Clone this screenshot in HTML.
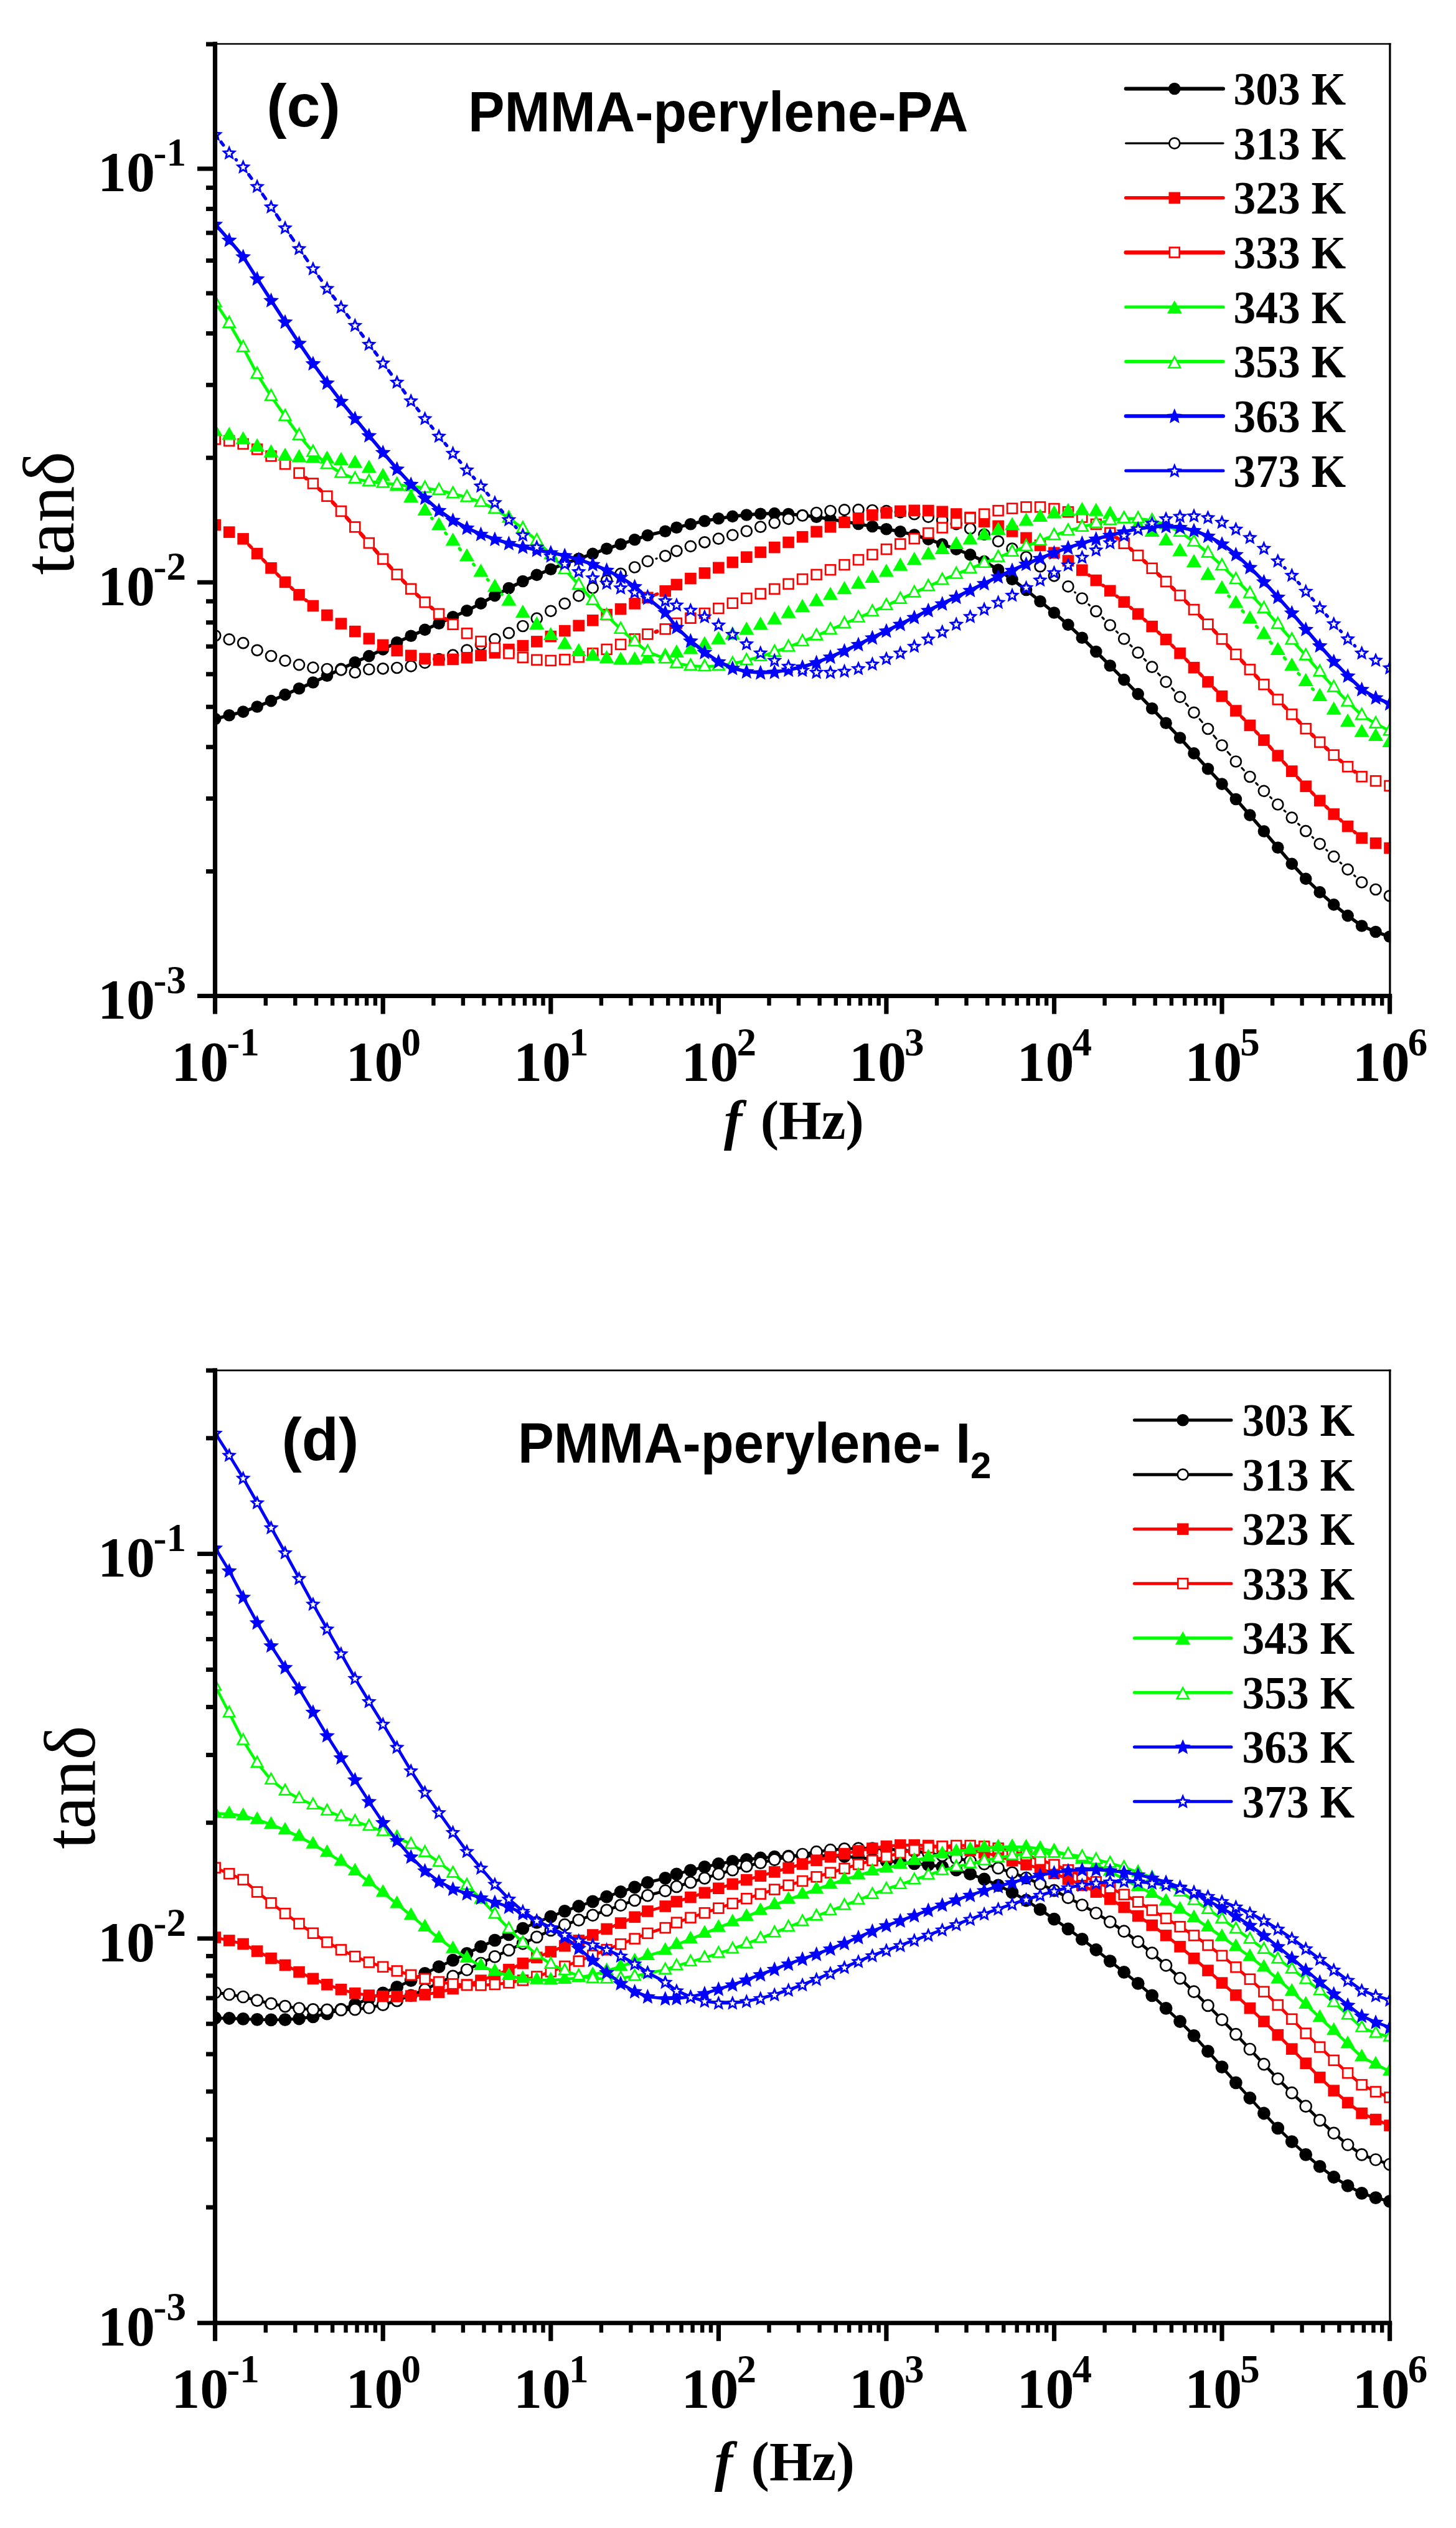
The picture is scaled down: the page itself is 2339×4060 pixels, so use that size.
<!DOCTYPE html>
<html><head><meta charset="utf-8"><title>tan delta vs f</title>
<style>html,body{margin:0;padding:0;background:#fff}svg{display:block}text{fill:#000}</style></head><body>
<svg width="2339" height="4060" viewBox="0 0 2339 4060">
<rect width="2339" height="4060" fill="#fff"/>
<g id="plot-c">
<clipPath id="clipc"><rect x="349" y="40" width="1885.2" height="1557"/></clipPath>
<g clip-path="url(#clipc)">
<polyline points="345.7,1154.6 368.2,1148.8 390.6,1143.1 413.1,1135 435.5,1125.6 458,1115.6 480.5,1105.8 502.9,1096 525.4,1085.3 547.9,1074.4 570.3,1063.7 592.8,1053.6 615.2,1042.9 637.7,1031.7 660.2,1021.3 682.6,1011.4 705.1,1001.3 727.6,990.8 750,980.8 772.5,969.1 794.9,956.6 817.4,944.5 839.9,933.5 862.3,923.4 884.8,914.2 907.2,905.3 929.7,897.3 952.2,889.4 974.6,881.2 997.1,874 1019.6,866.7 1040.4,859.7 1068.7,853.2 1086.9,847.3 1109.4,841.7 1131.9,836.7 1154.3,832.8 1176.8,829.4 1199.3,827 1221.7,825.2 1244.2,824.6 1266.6,825.5 1289.1,827.5 1311.6,830.2 1334,833.8 1356.5,837.7 1379,841.5 1401.4,845.5 1423.9,849.7 1446.3,853.8 1468.8,859 1491.3,866.1 1513.7,874.1 1536.2,882.1 1558.6,890.9 1581.1,901.6 1603.6,915 1626,930.4 1648.5,947.5 1671,965.7 1693.4,984 1715.9,1003.4 1738.3,1024.3 1760.8,1046.5 1783.3,1069 1805.7,1091.6 1828.2,1114.6 1850.7,1137.8 1873.1,1161.3 1895.6,1185 1918,1209.9 1940.5,1234.8 1963,1259.1 1985.4,1283.5 2007.9,1309.1 2030.4,1335 2052.8,1361.2 2075.3,1387.4 2097.7,1411.4 2120.2,1432.9 2142.7,1452.9 2165.1,1470.6 2187.6,1487 2210,1496.5 2232.5,1504.2" fill="none" stroke="#000" stroke-width="5.3" stroke-linejoin="round"/>
<g><circle cx="345.7" cy="1154.6" r="9.8" fill="#000"/><circle cx="368.2" cy="1148.8" r="9.8" fill="#000"/><circle cx="390.6" cy="1143.1" r="9.8" fill="#000"/><circle cx="413.1" cy="1135" r="9.8" fill="#000"/><circle cx="435.5" cy="1125.6" r="9.8" fill="#000"/><circle cx="458" cy="1115.6" r="9.8" fill="#000"/><circle cx="480.5" cy="1105.8" r="9.8" fill="#000"/><circle cx="502.9" cy="1096" r="9.8" fill="#000"/><circle cx="525.4" cy="1085.3" r="9.8" fill="#000"/><circle cx="547.9" cy="1074.4" r="9.8" fill="#000"/><circle cx="570.3" cy="1063.7" r="9.8" fill="#000"/><circle cx="592.8" cy="1053.6" r="9.8" fill="#000"/><circle cx="615.2" cy="1042.9" r="9.8" fill="#000"/><circle cx="637.7" cy="1031.7" r="9.8" fill="#000"/><circle cx="660.2" cy="1021.3" r="9.8" fill="#000"/><circle cx="682.6" cy="1011.4" r="9.8" fill="#000"/><circle cx="705.1" cy="1001.3" r="9.8" fill="#000"/><circle cx="727.6" cy="990.8" r="9.8" fill="#000"/><circle cx="750" cy="980.8" r="9.8" fill="#000"/><circle cx="772.5" cy="969.1" r="9.8" fill="#000"/><circle cx="794.9" cy="956.6" r="9.8" fill="#000"/><circle cx="817.4" cy="944.5" r="9.8" fill="#000"/><circle cx="839.9" cy="933.5" r="9.8" fill="#000"/><circle cx="862.3" cy="923.4" r="9.8" fill="#000"/><circle cx="884.8" cy="914.2" r="9.8" fill="#000"/><circle cx="907.2" cy="905.3" r="9.8" fill="#000"/><circle cx="929.7" cy="897.3" r="9.8" fill="#000"/><circle cx="952.2" cy="889.4" r="9.8" fill="#000"/><circle cx="974.6" cy="881.2" r="9.8" fill="#000"/><circle cx="997.1" cy="874" r="9.8" fill="#000"/><circle cx="1019.6" cy="866.7" r="9.8" fill="#000"/><circle cx="1040.4" cy="859.7" r="9.8" fill="#000"/><circle cx="1068.7" cy="853.2" r="9.8" fill="#000"/><circle cx="1086.9" cy="847.3" r="9.8" fill="#000"/><circle cx="1109.4" cy="841.7" r="9.8" fill="#000"/><circle cx="1131.9" cy="836.7" r="9.8" fill="#000"/><circle cx="1154.3" cy="832.8" r="9.8" fill="#000"/><circle cx="1176.8" cy="829.4" r="9.8" fill="#000"/><circle cx="1199.3" cy="827" r="9.8" fill="#000"/><circle cx="1221.7" cy="825.2" r="9.8" fill="#000"/><circle cx="1244.2" cy="824.6" r="9.8" fill="#000"/><circle cx="1266.6" cy="825.5" r="9.8" fill="#000"/><circle cx="1289.1" cy="827.5" r="9.8" fill="#000"/><circle cx="1311.6" cy="830.2" r="9.8" fill="#000"/><circle cx="1334" cy="833.8" r="9.8" fill="#000"/><circle cx="1356.5" cy="837.7" r="9.8" fill="#000"/><circle cx="1379" cy="841.5" r="9.8" fill="#000"/><circle cx="1401.4" cy="845.5" r="9.8" fill="#000"/><circle cx="1423.9" cy="849.7" r="9.8" fill="#000"/><circle cx="1446.3" cy="853.8" r="9.8" fill="#000"/><circle cx="1468.8" cy="859" r="9.8" fill="#000"/><circle cx="1491.3" cy="866.1" r="9.8" fill="#000"/><circle cx="1513.7" cy="874.1" r="9.8" fill="#000"/><circle cx="1536.2" cy="882.1" r="9.8" fill="#000"/><circle cx="1558.6" cy="890.9" r="9.8" fill="#000"/><circle cx="1581.1" cy="901.6" r="9.8" fill="#000"/><circle cx="1603.6" cy="915" r="9.8" fill="#000"/><circle cx="1626" cy="930.4" r="9.8" fill="#000"/><circle cx="1648.5" cy="947.5" r="9.8" fill="#000"/><circle cx="1671" cy="965.7" r="9.8" fill="#000"/><circle cx="1693.4" cy="984" r="9.8" fill="#000"/><circle cx="1715.9" cy="1003.4" r="9.8" fill="#000"/><circle cx="1738.3" cy="1024.3" r="9.8" fill="#000"/><circle cx="1760.8" cy="1046.5" r="9.8" fill="#000"/><circle cx="1783.3" cy="1069" r="9.8" fill="#000"/><circle cx="1805.7" cy="1091.6" r="9.8" fill="#000"/><circle cx="1828.2" cy="1114.6" r="9.8" fill="#000"/><circle cx="1850.7" cy="1137.8" r="9.8" fill="#000"/><circle cx="1873.1" cy="1161.3" r="9.8" fill="#000"/><circle cx="1895.6" cy="1185" r="9.8" fill="#000"/><circle cx="1918" cy="1209.9" r="9.8" fill="#000"/><circle cx="1940.5" cy="1234.8" r="9.8" fill="#000"/><circle cx="1963" cy="1259.1" r="9.8" fill="#000"/><circle cx="1985.4" cy="1283.5" r="9.8" fill="#000"/><circle cx="2007.9" cy="1309.1" r="9.8" fill="#000"/><circle cx="2030.4" cy="1335" r="9.8" fill="#000"/><circle cx="2052.8" cy="1361.2" r="9.8" fill="#000"/><circle cx="2075.3" cy="1387.4" r="9.8" fill="#000"/><circle cx="2097.7" cy="1411.4" r="9.8" fill="#000"/><circle cx="2120.2" cy="1432.9" r="9.8" fill="#000"/><circle cx="2142.7" cy="1452.9" r="9.8" fill="#000"/><circle cx="2165.1" cy="1470.6" r="9.8" fill="#000"/><circle cx="2187.6" cy="1487" r="9.8" fill="#000"/><circle cx="2210" cy="1496.5" r="9.8" fill="#000"/><circle cx="2232.5" cy="1504.2" r="9.8" fill="#000"/></g>
<path d="M1054 897.3L1055.1 896.9M1726.7 951.1L1727.5 951.8M1748.8 970.6L1750.4 972.1M1770.9 991.7L1773.2 994M1793.4 1013.9L1795.6 1016.1M1815.8 1036L1818.1 1038.2M1838.1 1058.4L1840.7 1061M1860.4 1081.5L1863.4 1084.7M1882.8 1105.5L1885.9 1109M1905.1 1129.9L1908.5 1133.7M1927.3 1155L1931.3 1159.7M1949.7 1181.3L1953.8 1186.2M1972.2 1207.8L1976.2 1212.3M1995 1233.5L1998.3 1237M2017.8 1257.6L2020.4 1260.3M2040.6 1280.2L2042.6 1282.1M2063.1 1301.7L2065 1303.4M2085.5 1323L2087.5 1324.9M2108.2 1344.3L2109.7 1345.7M2130.7 1364.8L2132.1 1366.1M2153.1 1385.3L2154.7 1386.7M2175.6 1406L2177.1 1407.4" fill="none" stroke="#000" stroke-width="3.2" stroke-linecap="round"/>
<g><circle cx="345.7" cy="1020.8" r="8.5" fill="#fff" stroke="#000" stroke-width="2.7"/><circle cx="368.2" cy="1026.9" r="8.5" fill="#fff" stroke="#000" stroke-width="2.7"/><circle cx="390.6" cy="1032.7" r="8.5" fill="#fff" stroke="#000" stroke-width="2.7"/><circle cx="413.1" cy="1044.3" r="8.5" fill="#fff" stroke="#000" stroke-width="2.7"/><circle cx="435.5" cy="1053.5" r="8.5" fill="#fff" stroke="#000" stroke-width="2.7"/><circle cx="458" cy="1061.1" r="8.5" fill="#fff" stroke="#000" stroke-width="2.7"/><circle cx="480.5" cy="1067.6" r="8.5" fill="#fff" stroke="#000" stroke-width="2.7"/><circle cx="502.9" cy="1072.1" r="8.5" fill="#fff" stroke="#000" stroke-width="2.7"/><circle cx="525.4" cy="1074.5" r="8.5" fill="#fff" stroke="#000" stroke-width="2.7"/><circle cx="547.9" cy="1075.8" r="8.5" fill="#fff" stroke="#000" stroke-width="2.7"/><circle cx="570.3" cy="1080" r="8.5" fill="#fff" stroke="#000" stroke-width="2.7"/><circle cx="592.8" cy="1075" r="8.5" fill="#fff" stroke="#000" stroke-width="2.7"/><circle cx="615.2" cy="1073.8" r="8.5" fill="#fff" stroke="#000" stroke-width="2.7"/><circle cx="637.7" cy="1072.5" r="8.5" fill="#fff" stroke="#000" stroke-width="2.7"/><circle cx="660.2" cy="1069.9" r="8.5" fill="#fff" stroke="#000" stroke-width="2.7"/><circle cx="682.6" cy="1064.4" r="8.5" fill="#fff" stroke="#000" stroke-width="2.7"/><circle cx="705.1" cy="1058.6" r="8.5" fill="#fff" stroke="#000" stroke-width="2.7"/><circle cx="727.6" cy="1052.2" r="8.5" fill="#fff" stroke="#000" stroke-width="2.7"/><circle cx="750" cy="1044.1" r="8.5" fill="#fff" stroke="#000" stroke-width="2.7"/><circle cx="772.5" cy="1035.5" r="8.5" fill="#fff" stroke="#000" stroke-width="2.7"/><circle cx="794.9" cy="1026.6" r="8.5" fill="#fff" stroke="#000" stroke-width="2.7"/><circle cx="817.4" cy="1016.7" r="8.5" fill="#fff" stroke="#000" stroke-width="2.7"/><circle cx="839.9" cy="1005.5" r="8.5" fill="#fff" stroke="#000" stroke-width="2.7"/><circle cx="862.3" cy="993.2" r="8.5" fill="#fff" stroke="#000" stroke-width="2.7"/><circle cx="884.8" cy="981.3" r="8.5" fill="#fff" stroke="#000" stroke-width="2.7"/><circle cx="907.2" cy="969.4" r="8.5" fill="#fff" stroke="#000" stroke-width="2.7"/><circle cx="929.7" cy="956.9" r="8.5" fill="#fff" stroke="#000" stroke-width="2.7"/><circle cx="952.2" cy="944.3" r="8.5" fill="#fff" stroke="#000" stroke-width="2.7"/><circle cx="974.6" cy="932.3" r="8.5" fill="#fff" stroke="#000" stroke-width="2.7"/><circle cx="997.1" cy="921.4" r="8.5" fill="#fff" stroke="#000" stroke-width="2.7"/><circle cx="1019.6" cy="911" r="8.5" fill="#fff" stroke="#000" stroke-width="2.7"/><circle cx="1040.4" cy="901.4" r="8.5" fill="#fff" stroke="#000" stroke-width="2.7"/><circle cx="1068.7" cy="892.8" r="8.5" fill="#fff" stroke="#000" stroke-width="2.7"/><circle cx="1086.9" cy="884.8" r="8.5" fill="#fff" stroke="#000" stroke-width="2.7"/><circle cx="1109.4" cy="877.4" r="8.5" fill="#fff" stroke="#000" stroke-width="2.7"/><circle cx="1131.9" cy="870.8" r="8.5" fill="#fff" stroke="#000" stroke-width="2.7"/><circle cx="1154.3" cy="865.2" r="8.5" fill="#fff" stroke="#000" stroke-width="2.7"/><circle cx="1176.8" cy="859.4" r="8.5" fill="#fff" stroke="#000" stroke-width="2.7"/><circle cx="1199.3" cy="853" r="8.5" fill="#fff" stroke="#000" stroke-width="2.7"/><circle cx="1221.7" cy="846.2" r="8.5" fill="#fff" stroke="#000" stroke-width="2.7"/><circle cx="1244.2" cy="839.6" r="8.5" fill="#fff" stroke="#000" stroke-width="2.7"/><circle cx="1266.6" cy="833.3" r="8.5" fill="#fff" stroke="#000" stroke-width="2.7"/><circle cx="1289.1" cy="828" r="8.5" fill="#fff" stroke="#000" stroke-width="2.7"/><circle cx="1311.6" cy="823.5" r="8.5" fill="#fff" stroke="#000" stroke-width="2.7"/><circle cx="1334" cy="820.5" r="8.5" fill="#fff" stroke="#000" stroke-width="2.7"/><circle cx="1356.5" cy="818.9" r="8.5" fill="#fff" stroke="#000" stroke-width="2.7"/><circle cx="1379" cy="818.7" r="8.5" fill="#fff" stroke="#000" stroke-width="2.7"/><circle cx="1401.4" cy="819.5" r="8.5" fill="#fff" stroke="#000" stroke-width="2.7"/><circle cx="1423.9" cy="820.6" r="8.5" fill="#fff" stroke="#000" stroke-width="2.7"/><circle cx="1446.3" cy="822.6" r="8.5" fill="#fff" stroke="#000" stroke-width="2.7"/><circle cx="1468.8" cy="825.7" r="8.5" fill="#fff" stroke="#000" stroke-width="2.7"/><circle cx="1491.3" cy="830.1" r="8.5" fill="#fff" stroke="#000" stroke-width="2.7"/><circle cx="1513.7" cy="835.5" r="8.5" fill="#fff" stroke="#000" stroke-width="2.7"/><circle cx="1536.2" cy="841.6" r="8.5" fill="#fff" stroke="#000" stroke-width="2.7"/><circle cx="1558.6" cy="849" r="8.5" fill="#fff" stroke="#000" stroke-width="2.7"/><circle cx="1581.1" cy="858.4" r="8.5" fill="#fff" stroke="#000" stroke-width="2.7"/><circle cx="1603.6" cy="869.3" r="8.5" fill="#fff" stroke="#000" stroke-width="2.7"/><circle cx="1626" cy="881.2" r="8.5" fill="#fff" stroke="#000" stroke-width="2.7"/><circle cx="1648.5" cy="894.7" r="8.5" fill="#fff" stroke="#000" stroke-width="2.7"/><circle cx="1671" cy="909.7" r="8.5" fill="#fff" stroke="#000" stroke-width="2.7"/><circle cx="1693.4" cy="924.8" r="8.5" fill="#fff" stroke="#000" stroke-width="2.7"/><circle cx="1715.9" cy="941.9" r="8.5" fill="#fff" stroke="#000" stroke-width="2.7"/><circle cx="1738.3" cy="961" r="8.5" fill="#fff" stroke="#000" stroke-width="2.7"/><circle cx="1760.8" cy="981.7" r="8.5" fill="#fff" stroke="#000" stroke-width="2.7"/><circle cx="1783.3" cy="1004" r="8.5" fill="#fff" stroke="#000" stroke-width="2.7"/><circle cx="1805.7" cy="1026" r="8.5" fill="#fff" stroke="#000" stroke-width="2.7"/><circle cx="1828.2" cy="1048.2" r="8.5" fill="#fff" stroke="#000" stroke-width="2.7"/><circle cx="1850.7" cy="1071.2" r="8.5" fill="#fff" stroke="#000" stroke-width="2.7"/><circle cx="1873.1" cy="1095.1" r="8.5" fill="#fff" stroke="#000" stroke-width="2.7"/><circle cx="1895.6" cy="1119.4" r="8.5" fill="#fff" stroke="#000" stroke-width="2.7"/><circle cx="1918" cy="1144.3" r="8.5" fill="#fff" stroke="#000" stroke-width="2.7"/><circle cx="1940.5" cy="1170.5" r="8.5" fill="#fff" stroke="#000" stroke-width="2.7"/><circle cx="1963" cy="1197" r="8.5" fill="#fff" stroke="#000" stroke-width="2.7"/><circle cx="1985.4" cy="1223" r="8.5" fill="#fff" stroke="#000" stroke-width="2.7"/><circle cx="2007.9" cy="1247.5" r="8.5" fill="#fff" stroke="#000" stroke-width="2.7"/><circle cx="2030.4" cy="1270.4" r="8.5" fill="#fff" stroke="#000" stroke-width="2.7"/><circle cx="2052.8" cy="1292" r="8.5" fill="#fff" stroke="#000" stroke-width="2.7"/><circle cx="2075.3" cy="1313.2" r="8.5" fill="#fff" stroke="#000" stroke-width="2.7"/><circle cx="2097.7" cy="1334.7" r="8.5" fill="#fff" stroke="#000" stroke-width="2.7"/><circle cx="2120.2" cy="1355.3" r="8.5" fill="#fff" stroke="#000" stroke-width="2.7"/><circle cx="2142.7" cy="1375.6" r="8.5" fill="#fff" stroke="#000" stroke-width="2.7"/><circle cx="2165.1" cy="1396.4" r="8.5" fill="#fff" stroke="#000" stroke-width="2.7"/><circle cx="2187.6" cy="1417" r="8.5" fill="#fff" stroke="#000" stroke-width="2.7"/><circle cx="2210" cy="1428.5" r="8.5" fill="#fff" stroke="#000" stroke-width="2.7"/><circle cx="2232.5" cy="1438.8" r="8.5" fill="#fff" stroke="#000" stroke-width="2.7"/></g>
<path d="M400 875.3L403.7 879.2M422.5 898.8L426.1 902.5M445.1 921.9L448.4 925.2M468.1 944L470.4 946.2M491.1 963.7L492.3 964.6M1053.2 955L1055.9 954M1749.3 923.6L1749.8 924M1771.7 940.1L1772.4 940.6M1793.9 957.3L1795.1 958.3M1816.1 975.6L1817.9 977.1M1838.3 995L1840.5 997M1860.6 1015.3L1863.2 1017.7M1882.8 1036.5L1885.9 1039.6M1905.1 1058.9L1908.5 1062.5M1927.6 1081.9L1931 1085.4M1950 1104.8L1953.5 1108.4M1972.4 1127.9L1976 1131.7M1994.8 1151.3L1998.5 1155.1M2017.3 1174.8L2021 1178.7M2039.4 1198.7L2043.7 1203.5M2061.9 1223.8L2066.2 1228.5M2084.5 1248.6L2088.5 1252.8M2107.2 1272.5L2110.7 1276.1M2130 1295.2L2132.9 1298M2152.9 1316.4L2154.9 1318.2M2175.6 1335.8L2177.1 1337.1" fill="none" stroke="#f00" stroke-width="5.5" stroke-linecap="round"/>
<g><rect x="336.4" y="833.8" width="18.6" height="18.6" fill="#f00"/><rect x="358.9" y="845.3" width="18.6" height="18.6" fill="#f00"/><rect x="381.3" y="856.1" width="18.6" height="18.6" fill="#f00"/><rect x="403.8" y="879.8" width="18.6" height="18.6" fill="#f00"/><rect x="426.2" y="903" width="18.6" height="18.6" fill="#f00"/><rect x="448.7" y="925.6" width="18.6" height="18.6" fill="#f00"/><rect x="471.2" y="946" width="18.6" height="18.6" fill="#f00"/><rect x="493.6" y="963.7" width="18.6" height="18.6" fill="#f00"/><rect x="516.1" y="978.7" width="18.6" height="18.6" fill="#f00"/><rect x="538.6" y="992.3" width="18.6" height="18.6" fill="#f00"/><rect x="561" y="1004.8" width="18.6" height="18.6" fill="#f00"/><rect x="583.5" y="1016.3" width="18.6" height="18.6" fill="#f00"/><rect x="605.9" y="1026.6" width="18.6" height="18.6" fill="#f00"/><rect x="628.4" y="1035.6" width="18.6" height="18.6" fill="#f00"/><rect x="650.9" y="1043.5" width="18.6" height="18.6" fill="#f00"/><rect x="673.3" y="1048.6" width="18.6" height="18.6" fill="#f00"/><rect x="695.8" y="1050.5" width="18.6" height="18.6" fill="#f00"/><rect x="718.3" y="1049.6" width="18.6" height="18.6" fill="#f00"/><rect x="740.7" y="1047" width="18.6" height="18.6" fill="#f00"/><rect x="763.2" y="1043.4" width="18.6" height="18.6" fill="#f00"/><rect x="785.6" y="1039.1" width="18.6" height="18.6" fill="#f00"/><rect x="808.1" y="1033.7" width="18.6" height="18.6" fill="#f00"/><rect x="830.6" y="1027.8" width="18.6" height="18.6" fill="#f00"/><rect x="853" y="1021.1" width="18.6" height="18.6" fill="#f00"/><rect x="875.5" y="1012.8" width="18.6" height="18.6" fill="#f00"/><rect x="898" y="1003.8" width="18.6" height="18.6" fill="#f00"/><rect x="920.4" y="995.5" width="18.6" height="18.6" fill="#f00"/><rect x="942.9" y="987" width="18.6" height="18.6" fill="#f00"/><rect x="965.3" y="977.8" width="18.6" height="18.6" fill="#f00"/><rect x="987.8" y="968.8" width="18.6" height="18.6" fill="#f00"/><rect x="1010.3" y="960.1" width="18.6" height="18.6" fill="#f00"/><rect x="1031.1" y="950.5" width="18.6" height="18.6" fill="#f00"/><rect x="1059.4" y="940" width="18.6" height="18.6" fill="#f00"/><rect x="1077.6" y="929.6" width="18.6" height="18.6" fill="#f00"/><rect x="1100.1" y="919.8" width="18.6" height="18.6" fill="#f00"/><rect x="1122.6" y="911.1" width="18.6" height="18.6" fill="#f00"/><rect x="1145" y="902.5" width="18.6" height="18.6" fill="#f00"/><rect x="1167.5" y="893.8" width="18.6" height="18.6" fill="#f00"/><rect x="1190" y="885.4" width="18.6" height="18.6" fill="#f00"/><rect x="1212.4" y="877.6" width="18.6" height="18.6" fill="#f00"/><rect x="1234.9" y="869.8" width="18.6" height="18.6" fill="#f00"/><rect x="1257.3" y="861.7" width="18.6" height="18.6" fill="#f00"/><rect x="1279.8" y="852.9" width="18.6" height="18.6" fill="#f00"/><rect x="1302.3" y="844.6" width="18.6" height="18.6" fill="#f00"/><rect x="1324.7" y="836.9" width="18.6" height="18.6" fill="#f00"/><rect x="1347.2" y="829.6" width="18.6" height="18.6" fill="#f00"/><rect x="1369.7" y="823" width="18.6" height="18.6" fill="#f00"/><rect x="1392.1" y="817.9" width="18.6" height="18.6" fill="#f00"/><rect x="1414.6" y="814.3" width="18.6" height="18.6" fill="#f00"/><rect x="1437" y="811.6" width="18.6" height="18.6" fill="#f00"/><rect x="1459.5" y="810.5" width="18.6" height="18.6" fill="#f00"/><rect x="1482" y="810.7" width="18.6" height="18.6" fill="#f00"/><rect x="1504.4" y="812.5" width="18.6" height="18.6" fill="#f00"/><rect x="1526.9" y="816.2" width="18.6" height="18.6" fill="#f00"/><rect x="1549.3" y="821.7" width="18.6" height="18.6" fill="#f00"/><rect x="1571.8" y="828.4" width="18.6" height="18.6" fill="#f00"/><rect x="1594.3" y="835.6" width="18.6" height="18.6" fill="#f00"/><rect x="1616.7" y="844.1" width="18.6" height="18.6" fill="#f00"/><rect x="1639.2" y="854.6" width="18.6" height="18.6" fill="#f00"/><rect x="1661.7" y="866.5" width="18.6" height="18.6" fill="#f00"/><rect x="1684.1" y="878.5" width="18.6" height="18.6" fill="#f00"/><rect x="1706.6" y="891.3" width="18.6" height="18.6" fill="#f00"/><rect x="1729" y="906.3" width="18.6" height="18.6" fill="#f00"/><rect x="1751.5" y="922.7" width="18.6" height="18.6" fill="#f00"/><rect x="1774" y="939.5" width="18.6" height="18.6" fill="#f00"/><rect x="1796.4" y="957.5" width="18.6" height="18.6" fill="#f00"/><rect x="1818.9" y="976.7" width="18.6" height="18.6" fill="#f00"/><rect x="1841.4" y="996.8" width="18.6" height="18.6" fill="#f00"/><rect x="1863.8" y="1017.7" width="18.6" height="18.6" fill="#f00"/><rect x="1886.3" y="1039.9" width="18.6" height="18.6" fill="#f00"/><rect x="1908.7" y="1062.9" width="18.6" height="18.6" fill="#f00"/><rect x="1931.2" y="1085.8" width="18.6" height="18.6" fill="#f00"/><rect x="1953.7" y="1108.8" width="18.6" height="18.6" fill="#f00"/><rect x="1976.1" y="1132.2" width="18.6" height="18.6" fill="#f00"/><rect x="1998.6" y="1155.6" width="18.6" height="18.6" fill="#f00"/><rect x="2021.1" y="1179.3" width="18.6" height="18.6" fill="#f00"/><rect x="2043.5" y="1204.3" width="18.6" height="18.6" fill="#f00"/><rect x="2066" y="1229.3" width="18.6" height="18.6" fill="#f00"/><rect x="2088.4" y="1253.5" width="18.6" height="18.6" fill="#f00"/><rect x="2110.9" y="1276.5" width="18.6" height="18.6" fill="#f00"/><rect x="2133.4" y="1298.2" width="18.6" height="18.6" fill="#f00"/><rect x="2155.8" y="1317.8" width="18.6" height="18.6" fill="#f00"/><rect x="2178.3" y="1336.5" width="18.6" height="18.6" fill="#f00"/><rect x="2200.7" y="1344.9" width="18.6" height="18.6" fill="#f00"/><rect x="2223.2" y="1352.7" width="18.6" height="18.6" fill="#f00"/></g>
<path d="M491.4 767.8L492 768.3M513 785.6L515.3 787.7M534.6 806.8L538.6 811.1M556.9 831.2L561.3 836.3M579.3 856.7L583.8 861.9M601.7 882.3L606.3 887.6M624.4 907.9L628.6 912.5M647.2 932.4L650.7 936M670 955.2L672.8 957.8M693.1 975.9L694.6 977.2M716 994.1L716.7 994.6M1053.5 1014.7L1055.6 1014M1794.1 863.9L1794.9 864.5M1816.1 881.5L1817.9 883.1M1838.2 901.1L1840.7 903.4M1860.5 922L1863.3 924.7M1882.8 943.6L1885.9 946.6M1905.1 965.9L1908.5 969.4M1927.4 988.9L1931.1 992.7M1949.8 1012.4L1953.6 1016.4M1972.1 1036.4L1976.2 1040.8M1994.6 1060.9L1998.7 1065.3M2017.2 1085.2L2021.1 1089.4M2039.6 1109.2L2043.5 1113.5M2062.1 1133.3L2065.9 1137.3M2084.8 1156.9L2088.2 1160.5M2107.5 1179.7L2110.4 1182.5M2130.2 1201.1L2132.7 1203.4M2153.1 1221.3L2154.7 1222.6M2176.2 1239.2L2176.5 1239.4" fill="none" stroke="#f00" stroke-width="6.2" stroke-linecap="round"/>
<g><rect x="337.8" y="697.5" width="15.8" height="15.8" fill="#fff" stroke="#f00" stroke-width="2.7"/><rect x="360.3" y="700.1" width="15.8" height="15.8" fill="#fff" stroke="#f00" stroke-width="2.7"/><rect x="382.7" y="705.1" width="15.8" height="15.8" fill="#fff" stroke="#f00" stroke-width="2.7"/><rect x="405.2" y="713.6" width="15.8" height="15.8" fill="#fff" stroke="#f00" stroke-width="2.7"/><rect x="427.6" y="724.6" width="15.8" height="15.8" fill="#fff" stroke="#f00" stroke-width="2.7"/><rect x="450.1" y="737.4" width="15.8" height="15.8" fill="#fff" stroke="#f00" stroke-width="2.7"/><rect x="472.6" y="751.8" width="15.8" height="15.8" fill="#fff" stroke="#f00" stroke-width="2.7"/><rect x="495" y="768.6" width="15.8" height="15.8" fill="#fff" stroke="#f00" stroke-width="2.7"/><rect x="517.5" y="788.9" width="15.8" height="15.8" fill="#fff" stroke="#f00" stroke-width="2.7"/><rect x="540" y="813.1" width="15.8" height="15.8" fill="#fff" stroke="#f00" stroke-width="2.7"/><rect x="562.4" y="838.5" width="15.8" height="15.8" fill="#fff" stroke="#f00" stroke-width="2.7"/><rect x="584.9" y="864.2" width="15.8" height="15.8" fill="#fff" stroke="#f00" stroke-width="2.7"/><rect x="607.3" y="889.9" width="15.8" height="15.8" fill="#fff" stroke="#f00" stroke-width="2.7"/><rect x="629.8" y="914.7" width="15.8" height="15.8" fill="#fff" stroke="#f00" stroke-width="2.7"/><rect x="652.3" y="937.9" width="15.8" height="15.8" fill="#fff" stroke="#f00" stroke-width="2.7"/><rect x="674.7" y="959.3" width="15.8" height="15.8" fill="#fff" stroke="#f00" stroke-width="2.7"/><rect x="697.2" y="978" width="15.8" height="15.8" fill="#fff" stroke="#f00" stroke-width="2.7"/><rect x="719.7" y="994.9" width="15.8" height="15.8" fill="#fff" stroke="#f00" stroke-width="2.7"/><rect x="742.1" y="1009.3" width="15.8" height="15.8" fill="#fff" stroke="#f00" stroke-width="2.7"/><rect x="764.6" y="1022.2" width="15.8" height="15.8" fill="#fff" stroke="#f00" stroke-width="2.7"/><rect x="787" y="1032.8" width="15.8" height="15.8" fill="#fff" stroke="#f00" stroke-width="2.7"/><rect x="809.5" y="1041.4" width="15.8" height="15.8" fill="#fff" stroke="#f00" stroke-width="2.7"/><rect x="832" y="1048" width="15.8" height="15.8" fill="#fff" stroke="#f00" stroke-width="2.7"/><rect x="854.4" y="1051.9" width="15.8" height="15.8" fill="#fff" stroke="#f00" stroke-width="2.7"/><rect x="876.9" y="1053" width="15.8" height="15.8" fill="#fff" stroke="#f00" stroke-width="2.7"/><rect x="899.4" y="1051.4" width="15.8" height="15.8" fill="#fff" stroke="#f00" stroke-width="2.7"/><rect x="921.8" y="1047.4" width="15.8" height="15.8" fill="#fff" stroke="#f00" stroke-width="2.7"/><rect x="944.3" y="1041.4" width="15.8" height="15.8" fill="#fff" stroke="#f00" stroke-width="2.7"/><rect x="966.7" y="1035" width="15.8" height="15.8" fill="#fff" stroke="#f00" stroke-width="2.7"/><rect x="989.2" y="1027" width="15.8" height="15.8" fill="#fff" stroke="#f00" stroke-width="2.7"/><rect x="1011.7" y="1018.4" width="15.8" height="15.8" fill="#fff" stroke="#f00" stroke-width="2.7"/><rect x="1032.5" y="1010.6" width="15.8" height="15.8" fill="#fff" stroke="#f00" stroke-width="2.7"/><rect x="1060.8" y="1002.4" width="15.8" height="15.8" fill="#fff" stroke="#f00" stroke-width="2.7"/><rect x="1079" y="993" width="15.8" height="15.8" fill="#fff" stroke="#f00" stroke-width="2.7"/><rect x="1101.5" y="984.8" width="15.8" height="15.8" fill="#fff" stroke="#f00" stroke-width="2.7"/><rect x="1124" y="977.1" width="15.8" height="15.8" fill="#fff" stroke="#f00" stroke-width="2.7"/><rect x="1146.4" y="969.2" width="15.8" height="15.8" fill="#fff" stroke="#f00" stroke-width="2.7"/><rect x="1168.9" y="960.8" width="15.8" height="15.8" fill="#fff" stroke="#f00" stroke-width="2.7"/><rect x="1191.4" y="953" width="15.8" height="15.8" fill="#fff" stroke="#f00" stroke-width="2.7"/><rect x="1213.8" y="945.7" width="15.8" height="15.8" fill="#fff" stroke="#f00" stroke-width="2.7"/><rect x="1236.3" y="938" width="15.8" height="15.8" fill="#fff" stroke="#f00" stroke-width="2.7"/><rect x="1258.7" y="929.9" width="15.8" height="15.8" fill="#fff" stroke="#f00" stroke-width="2.7"/><rect x="1281.2" y="922.2" width="15.8" height="15.8" fill="#fff" stroke="#f00" stroke-width="2.7"/><rect x="1303.7" y="915" width="15.8" height="15.8" fill="#fff" stroke="#f00" stroke-width="2.7"/><rect x="1326.1" y="907.3" width="15.8" height="15.8" fill="#fff" stroke="#f00" stroke-width="2.7"/><rect x="1348.6" y="899.2" width="15.8" height="15.8" fill="#fff" stroke="#f00" stroke-width="2.7"/><rect x="1371.1" y="891.2" width="15.8" height="15.8" fill="#fff" stroke="#f00" stroke-width="2.7"/><rect x="1393.5" y="882.8" width="15.8" height="15.8" fill="#fff" stroke="#f00" stroke-width="2.7"/><rect x="1416" y="874.2" width="15.8" height="15.8" fill="#fff" stroke="#f00" stroke-width="2.7"/><rect x="1438.4" y="865.7" width="15.8" height="15.8" fill="#fff" stroke="#f00" stroke-width="2.7"/><rect x="1460.9" y="857.2" width="15.8" height="15.8" fill="#fff" stroke="#f00" stroke-width="2.7"/><rect x="1483.4" y="848.2" width="15.8" height="15.8" fill="#fff" stroke="#f00" stroke-width="2.7"/><rect x="1505.8" y="839.6" width="15.8" height="15.8" fill="#fff" stroke="#f00" stroke-width="2.7"/><rect x="1528.3" y="831.7" width="15.8" height="15.8" fill="#fff" stroke="#f00" stroke-width="2.7"/><rect x="1550.7" y="824.3" width="15.8" height="15.8" fill="#fff" stroke="#f00" stroke-width="2.7"/><rect x="1573.2" y="817.7" width="15.8" height="15.8" fill="#fff" stroke="#f00" stroke-width="2.7"/><rect x="1595.7" y="812.2" width="15.8" height="15.8" fill="#fff" stroke="#f00" stroke-width="2.7"/><rect x="1618.1" y="808.7" width="15.8" height="15.8" fill="#fff" stroke="#f00" stroke-width="2.7"/><rect x="1640.6" y="806.4" width="15.8" height="15.8" fill="#fff" stroke="#f00" stroke-width="2.7"/><rect x="1663.1" y="806.4" width="15.8" height="15.8" fill="#fff" stroke="#f00" stroke-width="2.7"/><rect x="1685.5" y="809.1" width="15.8" height="15.8" fill="#fff" stroke="#f00" stroke-width="2.7"/><rect x="1708" y="814.3" width="15.8" height="15.8" fill="#fff" stroke="#f00" stroke-width="2.7"/><rect x="1730.4" y="822.7" width="15.8" height="15.8" fill="#fff" stroke="#f00" stroke-width="2.7"/><rect x="1752.9" y="834" width="15.8" height="15.8" fill="#fff" stroke="#f00" stroke-width="2.7"/><rect x="1775.4" y="847.9" width="15.8" height="15.8" fill="#fff" stroke="#f00" stroke-width="2.7"/><rect x="1797.8" y="864.8" width="15.8" height="15.8" fill="#fff" stroke="#f00" stroke-width="2.7"/><rect x="1820.3" y="884" width="15.8" height="15.8" fill="#fff" stroke="#f00" stroke-width="2.7"/><rect x="1842.8" y="904.8" width="15.8" height="15.8" fill="#fff" stroke="#f00" stroke-width="2.7"/><rect x="1865.2" y="926.1" width="15.8" height="15.8" fill="#fff" stroke="#f00" stroke-width="2.7"/><rect x="1887.7" y="948.3" width="15.8" height="15.8" fill="#fff" stroke="#f00" stroke-width="2.7"/><rect x="1910.1" y="971.2" width="15.8" height="15.8" fill="#fff" stroke="#f00" stroke-width="2.7"/><rect x="1932.6" y="994.7" width="15.8" height="15.8" fill="#fff" stroke="#f00" stroke-width="2.7"/><rect x="1955.1" y="1018.4" width="15.8" height="15.8" fill="#fff" stroke="#f00" stroke-width="2.7"/><rect x="1977.5" y="1043" width="15.8" height="15.8" fill="#fff" stroke="#f00" stroke-width="2.7"/><rect x="2000" y="1067.4" width="15.8" height="15.8" fill="#fff" stroke="#f00" stroke-width="2.7"/><rect x="2022.5" y="1091.4" width="15.8" height="15.8" fill="#fff" stroke="#f00" stroke-width="2.7"/><rect x="2044.9" y="1115.5" width="15.8" height="15.8" fill="#fff" stroke="#f00" stroke-width="2.7"/><rect x="2067.4" y="1139.3" width="15.8" height="15.8" fill="#fff" stroke="#f00" stroke-width="2.7"/><rect x="2089.8" y="1162.3" width="15.8" height="15.8" fill="#fff" stroke="#f00" stroke-width="2.7"/><rect x="2112.3" y="1184" width="15.8" height="15.8" fill="#fff" stroke="#f00" stroke-width="2.7"/><rect x="2134.8" y="1204.7" width="15.8" height="15.8" fill="#fff" stroke="#f00" stroke-width="2.7"/><rect x="2157.2" y="1223.4" width="15.8" height="15.8" fill="#fff" stroke="#f00" stroke-width="2.7"/><rect x="2179.7" y="1239.4" width="15.8" height="15.8" fill="#fff" stroke="#f00" stroke-width="2.7"/><rect x="2202.1" y="1246.3" width="15.8" height="15.8" fill="#fff" stroke="#f00" stroke-width="2.7"/><rect x="2224.6" y="1254.1" width="15.8" height="15.8" fill="#fff" stroke="#f00" stroke-width="2.7"/></g>
<path d="M693.4 832.1L694.3 833M715.5 855.9L717.1 857.7M738 880.9L739.6 882.8M760.5 906L762 907.6M783.1 930.6L784.3 931.8M806 954.2L806.3 954.5M1973.7 957.1L1974.7 958.1M1995.9 981L1997.4 982.6M2018.3 1005.8L2020 1007.7M2040.7 1031L2042.5 1033.1M2063.2 1056.4L2064.9 1058.3M2085.7 1081.5L2087.3 1083.2M2108.4 1106.1L2109.5 1107.3" fill="none" stroke="#0f0" stroke-width="5" stroke-linecap="round"/>
<g><polygon points="345.7,679.4 357.8,700.6 333.6,700.6" fill="#0f0"/><polygon points="368.2,685.4 380.3,706.6 356.1,706.6" fill="#0f0"/><polygon points="390.6,692.4 402.7,713.6 378.5,713.6" fill="#0f0"/><polygon points="413.1,703.8 425.2,725 401,725" fill="#0f0"/><polygon points="435.5,713.6 447.6,734.8 423.4,734.8" fill="#0f0"/><polygon points="458,718.9 470.1,740.1 445.9,740.1" fill="#0f0"/><polygon points="480.5,721.2 492.6,742.4 468.4,742.4" fill="#0f0"/><polygon points="502.9,722.4 515,743.6 490.8,743.6" fill="#0f0"/><polygon points="525.4,723.4 537.5,744.6 513.3,744.6" fill="#0f0"/><polygon points="547.9,725.8 560,747 535.8,747" fill="#0f0"/><polygon points="570.3,730.2 582.4,751.4 558.2,751.4" fill="#0f0"/><polygon points="592.8,738.3 604.9,759.5 580.7,759.5" fill="#0f0"/><polygon points="615.2,751.2 627.3,772.4 603.1,772.4" fill="#0f0"/><polygon points="637.7,767.4 649.8,788.6 625.6,788.6" fill="#0f0"/><polygon points="660.2,785.8 672.3,807 648.1,807" fill="#0f0"/><polygon points="682.6,806.8 694.7,828 670.5,828" fill="#0f0"/><polygon points="705.1,830.3 717.2,851.5 693,851.5" fill="#0f0"/><polygon points="727.6,855.3 739.7,876.5 715.5,876.5" fill="#0f0"/><polygon points="750,880.4 762.1,901.6 737.9,901.6" fill="#0f0"/><polygon points="772.5,905.2 784.6,926.4 760.4,926.4" fill="#0f0"/><polygon points="794.9,929.2 807,950.4 782.8,950.4" fill="#0f0"/><polygon points="817.4,951.5 829.5,972.7 805.3,972.7" fill="#0f0"/><polygon points="839.9,971.1 852,992.3 827.8,992.3" fill="#0f0"/><polygon points="862.3,989.8 874.4,1011 850.2,1011" fill="#0f0"/><polygon points="884.8,1006.9 896.9,1028.1 872.7,1028.1" fill="#0f0"/><polygon points="907.2,1021.2 919.4,1042.4 895.1,1042.4" fill="#0f0"/><polygon points="929.7,1032.8 941.8,1054 917.6,1054" fill="#0f0"/><polygon points="952.2,1039.9 964.3,1061.1 940.1,1061.1" fill="#0f0"/><polygon points="974.6,1044.1 986.7,1065.3 962.5,1065.3" fill="#0f0"/><polygon points="997.1,1046.4 1009.2,1067.6 985,1067.6" fill="#0f0"/><polygon points="1019.6,1046.1 1031.7,1067.3 1007.5,1067.3" fill="#0f0"/><polygon points="1040.4,1043.9 1052.5,1065.1 1028.3,1065.1" fill="#0f0"/><polygon points="1068.7,1039.9 1080.8,1061.1 1056.6,1061.1" fill="#0f0"/><polygon points="1086.9,1034.9 1099,1056.1 1074.8,1056.1" fill="#0f0"/><polygon points="1109.4,1029.4 1121.5,1050.6 1097.3,1050.6" fill="#0f0"/><polygon points="1131.9,1021.6 1144,1042.8 1119.8,1042.8" fill="#0f0"/><polygon points="1154.3,1013.5 1166.4,1034.7 1142.2,1034.7" fill="#0f0"/><polygon points="1176.8,1005.8 1188.9,1027 1164.7,1027" fill="#0f0"/><polygon points="1199.3,998.2 1211.4,1019.4 1187.2,1019.4" fill="#0f0"/><polygon points="1221.7,990.3 1233.8,1011.5 1209.6,1011.5" fill="#0f0"/><polygon points="1244.2,981.6 1256.3,1002.8 1232.1,1002.8" fill="#0f0"/><polygon points="1266.6,971.6 1278.7,992.8 1254.5,992.8" fill="#0f0"/><polygon points="1289.1,961.7 1301.2,982.9 1277,982.9" fill="#0f0"/><polygon points="1311.6,952.1 1323.7,973.3 1299.5,973.3" fill="#0f0"/><polygon points="1334,942.4 1346.1,963.6 1321.9,963.6" fill="#0f0"/><polygon points="1356.5,933.1 1368.6,954.3 1344.4,954.3" fill="#0f0"/><polygon points="1379,924.2 1391.1,945.4 1366.9,945.4" fill="#0f0"/><polygon points="1401.4,914.8 1413.5,936 1389.3,936" fill="#0f0"/><polygon points="1423.9,905.3 1436,926.5 1411.8,926.5" fill="#0f0"/><polygon points="1446.3,895.5 1458.4,916.7 1434.2,916.7" fill="#0f0"/><polygon points="1468.8,886 1480.9,907.2 1456.7,907.2" fill="#0f0"/><polygon points="1491.3,877.2 1503.4,898.4 1479.2,898.4" fill="#0f0"/><polygon points="1513.7,868.8 1525.8,890 1501.6,890" fill="#0f0"/><polygon points="1536.2,860.9 1548.3,882.1 1524.1,882.1" fill="#0f0"/><polygon points="1558.6,853.2 1570.7,874.4 1546.5,874.4" fill="#0f0"/><polygon points="1581.1,845.5 1593.2,866.7 1569,866.7" fill="#0f0"/><polygon points="1603.6,837.9 1615.7,859.1 1591.5,859.1" fill="#0f0"/><polygon points="1626,830.3 1638.1,851.5 1613.9,851.5" fill="#0f0"/><polygon points="1648.5,823.3 1660.6,844.5 1636.4,844.5" fill="#0f0"/><polygon points="1671,816.8 1683.1,838 1658.9,838" fill="#0f0"/><polygon points="1693.4,811.3 1705.5,832.5 1681.3,832.5" fill="#0f0"/><polygon points="1715.9,807.5 1728,828.7 1703.8,828.7" fill="#0f0"/><polygon points="1738.3,806 1750.4,827.2 1726.2,827.2" fill="#0f0"/><polygon points="1760.8,807.6 1772.9,828.8 1748.7,828.8" fill="#0f0"/><polygon points="1783.3,812 1795.4,833.2 1771.2,833.2" fill="#0f0"/><polygon points="1805.7,819.4 1817.8,840.6 1793.6,840.6" fill="#0f0"/><polygon points="1828.2,829.2 1840.3,850.4 1816.1,850.4" fill="#0f0"/><polygon points="1850.7,840.8 1862.8,862 1838.6,862" fill="#0f0"/><polygon points="1873.1,854.9 1885.2,876.1 1861,876.1" fill="#0f0"/><polygon points="1895.6,871.7 1907.7,892.9 1883.5,892.9" fill="#0f0"/><polygon points="1918,889.7 1930.1,910.9 1905.9,910.9" fill="#0f0"/><polygon points="1940.5,910 1952.6,931.2 1928.4,931.2" fill="#0f0"/><polygon points="1963,931.8 1975.1,953 1950.9,953" fill="#0f0"/><polygon points="1985.4,955.4 1997.5,976.6 1973.3,976.6" fill="#0f0"/><polygon points="2007.9,980.2 2020,1001.4 1995.8,1001.4" fill="#0f0"/><polygon points="2030.4,1005.3 2042.5,1026.5 2018.3,1026.5" fill="#0f0"/><polygon points="2052.8,1030.8 2064.9,1052 2040.7,1052" fill="#0f0"/><polygon points="2075.3,1055.9 2087.4,1077.1 2063.2,1077.1" fill="#0f0"/><polygon points="2097.7,1080.8 2109.8,1102 2085.6,1102" fill="#0f0"/><polygon points="2120.2,1104.7 2132.3,1125.9 2108.1,1125.9" fill="#0f0"/><polygon points="2142.7,1126.6 2154.8,1147.8 2130.6,1147.8" fill="#0f0"/><polygon points="2165.1,1145.8 2177.2,1167 2153,1167" fill="#0f0"/><polygon points="2187.6,1162.6 2199.7,1183.8 2175.5,1183.8" fill="#0f0"/><polygon points="2210,1168.9 2222.1,1190.1 2197.9,1190.1" fill="#0f0"/><polygon points="2232.5,1178.7 2244.6,1199.9 2220.4,1199.9" fill="#0f0"/></g>
<polyline points="345.7,485.4 368.2,519.2 390.6,558 413.1,600.8 435.5,636.5 458,668.7 480.5,699.3 502.9,726.1 525.4,745.6 547.9,759.8 570.3,769 592.8,773.3 615.2,775.9 637.7,778.2 660.2,781 682.6,783.8 705.1,787.3 727.6,792.9 750,798.7 772.5,806.5 794.9,817.3 817.4,831.8 839.9,848.8 862.3,868.2 884.8,890.6 907.2,914.6 929.7,939.2 952.2,964.2 974.6,988.4 997.1,1010.4 1019.6,1030.5 1040.4,1046.8 1068.7,1057.9 1086.9,1065.3 1109.4,1069.4 1131.9,1070.6 1154.3,1069.4 1176.8,1065.9 1199.3,1060.8 1221.7,1054.3 1244.2,1047.2 1266.6,1039.1 1289.1,1030.3 1311.6,1021 1334,1011.3 1356.5,1001.6 1379,992.1 1401.4,982.5 1423.9,972.4 1446.3,962.2 1468.8,952 1491.3,941.8 1513.7,931.6 1536.2,922.1 1558.6,913.3 1581.1,904.3 1603.6,895.1 1626,886.3 1648.5,877.6 1671,868.6 1693.4,859.8 1715.9,852.6 1738.3,846.3 1760.8,840.5 1783.3,835.7 1805.7,832.8 1828.2,832.9 1850.7,836 1873.1,842.6 1895.6,854.3 1918,870.1 1940.5,888 1963,908.6 1985.4,930.6 2007.9,953.1 2030.4,977.2 2052.8,1002.5 2075.3,1027.6 2097.7,1053 2120.2,1079 2142.7,1104 2165.1,1127.1 2187.6,1148.8 2210,1162.2 2232.5,1173.8" fill="none" stroke="#0f0" stroke-width="4.8" stroke-linejoin="round"/>
<g><polygon points="345.7,474.4 355.1,491.8 336.3,491.8" fill="#fff" stroke="#0f0" stroke-width="2.6" stroke-linejoin="miter"/><polygon points="368.2,508.2 377.6,525.6 358.8,525.6" fill="#fff" stroke="#0f0" stroke-width="2.6" stroke-linejoin="miter"/><polygon points="390.6,547 400,564.4 381.2,564.4" fill="#fff" stroke="#0f0" stroke-width="2.6" stroke-linejoin="miter"/><polygon points="413.1,589.8 422.5,607.2 403.7,607.2" fill="#fff" stroke="#0f0" stroke-width="2.6" stroke-linejoin="miter"/><polygon points="435.5,625.5 444.9,642.9 426.1,642.9" fill="#fff" stroke="#0f0" stroke-width="2.6" stroke-linejoin="miter"/><polygon points="458,657.7 467.4,675.1 448.6,675.1" fill="#fff" stroke="#0f0" stroke-width="2.6" stroke-linejoin="miter"/><polygon points="480.5,688.3 489.9,705.7 471.1,705.7" fill="#fff" stroke="#0f0" stroke-width="2.6" stroke-linejoin="miter"/><polygon points="502.9,715.1 512.3,732.5 493.5,732.5" fill="#fff" stroke="#0f0" stroke-width="2.6" stroke-linejoin="miter"/><polygon points="525.4,734.6 534.8,752 516,752" fill="#fff" stroke="#0f0" stroke-width="2.6" stroke-linejoin="miter"/><polygon points="547.9,748.8 557.3,766.2 538.5,766.2" fill="#fff" stroke="#0f0" stroke-width="2.6" stroke-linejoin="miter"/><polygon points="570.3,758 579.7,775.4 560.9,775.4" fill="#fff" stroke="#0f0" stroke-width="2.6" stroke-linejoin="miter"/><polygon points="592.8,762.3 602.2,779.7 583.4,779.7" fill="#fff" stroke="#0f0" stroke-width="2.6" stroke-linejoin="miter"/><polygon points="615.2,764.9 624.6,782.3 605.8,782.3" fill="#fff" stroke="#0f0" stroke-width="2.6" stroke-linejoin="miter"/><polygon points="637.7,767.2 647.1,784.6 628.3,784.6" fill="#fff" stroke="#0f0" stroke-width="2.6" stroke-linejoin="miter"/><polygon points="660.2,770 669.6,787.4 650.8,787.4" fill="#fff" stroke="#0f0" stroke-width="2.6" stroke-linejoin="miter"/><polygon points="682.6,772.8 692,790.2 673.2,790.2" fill="#fff" stroke="#0f0" stroke-width="2.6" stroke-linejoin="miter"/><polygon points="705.1,776.3 714.5,793.7 695.7,793.7" fill="#fff" stroke="#0f0" stroke-width="2.6" stroke-linejoin="miter"/><polygon points="727.6,781.9 737,799.3 718.2,799.3" fill="#fff" stroke="#0f0" stroke-width="2.6" stroke-linejoin="miter"/><polygon points="750,787.7 759.4,805.1 740.6,805.1" fill="#fff" stroke="#0f0" stroke-width="2.6" stroke-linejoin="miter"/><polygon points="772.5,795.5 781.9,812.9 763.1,812.9" fill="#fff" stroke="#0f0" stroke-width="2.6" stroke-linejoin="miter"/><polygon points="794.9,806.3 804.3,823.7 785.5,823.7" fill="#fff" stroke="#0f0" stroke-width="2.6" stroke-linejoin="miter"/><polygon points="817.4,820.8 826.8,838.2 808,838.2" fill="#fff" stroke="#0f0" stroke-width="2.6" stroke-linejoin="miter"/><polygon points="839.9,837.8 849.3,855.2 830.5,855.2" fill="#fff" stroke="#0f0" stroke-width="2.6" stroke-linejoin="miter"/><polygon points="862.3,857.2 871.7,874.6 852.9,874.6" fill="#fff" stroke="#0f0" stroke-width="2.6" stroke-linejoin="miter"/><polygon points="884.8,879.6 894.2,897 875.4,897" fill="#fff" stroke="#0f0" stroke-width="2.6" stroke-linejoin="miter"/><polygon points="907.2,903.6 916.6,921 897.9,921" fill="#fff" stroke="#0f0" stroke-width="2.6" stroke-linejoin="miter"/><polygon points="929.7,928.2 939.1,945.6 920.3,945.6" fill="#fff" stroke="#0f0" stroke-width="2.6" stroke-linejoin="miter"/><polygon points="952.2,953.2 961.6,970.6 942.8,970.6" fill="#fff" stroke="#0f0" stroke-width="2.6" stroke-linejoin="miter"/><polygon points="974.6,977.4 984,994.8 965.2,994.8" fill="#fff" stroke="#0f0" stroke-width="2.6" stroke-linejoin="miter"/><polygon points="997.1,999.4 1006.5,1016.8 987.7,1016.8" fill="#fff" stroke="#0f0" stroke-width="2.6" stroke-linejoin="miter"/><polygon points="1019.6,1019.5 1029,1036.9 1010.2,1036.9" fill="#fff" stroke="#0f0" stroke-width="2.6" stroke-linejoin="miter"/><polygon points="1040.4,1035.8 1049.8,1053.2 1031,1053.2" fill="#fff" stroke="#0f0" stroke-width="2.6" stroke-linejoin="miter"/><polygon points="1068.7,1046.9 1078.1,1064.3 1059.3,1064.3" fill="#fff" stroke="#0f0" stroke-width="2.6" stroke-linejoin="miter"/><polygon points="1086.9,1054.3 1096.3,1071.7 1077.5,1071.7" fill="#fff" stroke="#0f0" stroke-width="2.6" stroke-linejoin="miter"/><polygon points="1109.4,1058.4 1118.8,1075.8 1100,1075.8" fill="#fff" stroke="#0f0" stroke-width="2.6" stroke-linejoin="miter"/><polygon points="1131.9,1059.6 1141.3,1077 1122.5,1077" fill="#fff" stroke="#0f0" stroke-width="2.6" stroke-linejoin="miter"/><polygon points="1154.3,1058.4 1163.7,1075.8 1144.9,1075.8" fill="#fff" stroke="#0f0" stroke-width="2.6" stroke-linejoin="miter"/><polygon points="1176.8,1054.9 1186.2,1072.3 1167.4,1072.3" fill="#fff" stroke="#0f0" stroke-width="2.6" stroke-linejoin="miter"/><polygon points="1199.3,1049.8 1208.7,1067.2 1189.9,1067.2" fill="#fff" stroke="#0f0" stroke-width="2.6" stroke-linejoin="miter"/><polygon points="1221.7,1043.3 1231.1,1060.7 1212.3,1060.7" fill="#fff" stroke="#0f0" stroke-width="2.6" stroke-linejoin="miter"/><polygon points="1244.2,1036.2 1253.6,1053.6 1234.8,1053.6" fill="#fff" stroke="#0f0" stroke-width="2.6" stroke-linejoin="miter"/><polygon points="1266.6,1028.1 1276,1045.5 1257.2,1045.5" fill="#fff" stroke="#0f0" stroke-width="2.6" stroke-linejoin="miter"/><polygon points="1289.1,1019.3 1298.5,1036.7 1279.7,1036.7" fill="#fff" stroke="#0f0" stroke-width="2.6" stroke-linejoin="miter"/><polygon points="1311.6,1010 1321,1027.4 1302.2,1027.4" fill="#fff" stroke="#0f0" stroke-width="2.6" stroke-linejoin="miter"/><polygon points="1334,1000.3 1343.4,1017.7 1324.6,1017.7" fill="#fff" stroke="#0f0" stroke-width="2.6" stroke-linejoin="miter"/><polygon points="1356.5,990.6 1365.9,1008 1347.1,1008" fill="#fff" stroke="#0f0" stroke-width="2.6" stroke-linejoin="miter"/><polygon points="1379,981.1 1388.4,998.5 1369.6,998.5" fill="#fff" stroke="#0f0" stroke-width="2.6" stroke-linejoin="miter"/><polygon points="1401.4,971.5 1410.8,988.9 1392,988.9" fill="#fff" stroke="#0f0" stroke-width="2.6" stroke-linejoin="miter"/><polygon points="1423.9,961.4 1433.3,978.8 1414.5,978.8" fill="#fff" stroke="#0f0" stroke-width="2.6" stroke-linejoin="miter"/><polygon points="1446.3,951.2 1455.7,968.6 1436.9,968.6" fill="#fff" stroke="#0f0" stroke-width="2.6" stroke-linejoin="miter"/><polygon points="1468.8,941 1478.2,958.4 1459.4,958.4" fill="#fff" stroke="#0f0" stroke-width="2.6" stroke-linejoin="miter"/><polygon points="1491.3,930.8 1500.7,948.2 1481.9,948.2" fill="#fff" stroke="#0f0" stroke-width="2.6" stroke-linejoin="miter"/><polygon points="1513.7,920.6 1523.1,938 1504.3,938" fill="#fff" stroke="#0f0" stroke-width="2.6" stroke-linejoin="miter"/><polygon points="1536.2,911.1 1545.6,928.5 1526.8,928.5" fill="#fff" stroke="#0f0" stroke-width="2.6" stroke-linejoin="miter"/><polygon points="1558.6,902.3 1568,919.7 1549.2,919.7" fill="#fff" stroke="#0f0" stroke-width="2.6" stroke-linejoin="miter"/><polygon points="1581.1,893.3 1590.5,910.7 1571.7,910.7" fill="#fff" stroke="#0f0" stroke-width="2.6" stroke-linejoin="miter"/><polygon points="1603.6,884.1 1613,901.5 1594.2,901.5" fill="#fff" stroke="#0f0" stroke-width="2.6" stroke-linejoin="miter"/><polygon points="1626,875.3 1635.4,892.7 1616.6,892.7" fill="#fff" stroke="#0f0" stroke-width="2.6" stroke-linejoin="miter"/><polygon points="1648.5,866.6 1657.9,884 1639.1,884" fill="#fff" stroke="#0f0" stroke-width="2.6" stroke-linejoin="miter"/><polygon points="1671,857.6 1680.4,875 1661.6,875" fill="#fff" stroke="#0f0" stroke-width="2.6" stroke-linejoin="miter"/><polygon points="1693.4,848.8 1702.8,866.2 1684,866.2" fill="#fff" stroke="#0f0" stroke-width="2.6" stroke-linejoin="miter"/><polygon points="1715.9,841.6 1725.3,859 1706.5,859" fill="#fff" stroke="#0f0" stroke-width="2.6" stroke-linejoin="miter"/><polygon points="1738.3,835.3 1747.7,852.7 1728.9,852.7" fill="#fff" stroke="#0f0" stroke-width="2.6" stroke-linejoin="miter"/><polygon points="1760.8,829.5 1770.2,846.9 1751.4,846.9" fill="#fff" stroke="#0f0" stroke-width="2.6" stroke-linejoin="miter"/><polygon points="1783.3,824.7 1792.7,842.1 1773.9,842.1" fill="#fff" stroke="#0f0" stroke-width="2.6" stroke-linejoin="miter"/><polygon points="1805.7,821.8 1815.1,839.2 1796.3,839.2" fill="#fff" stroke="#0f0" stroke-width="2.6" stroke-linejoin="miter"/><polygon points="1828.2,821.9 1837.6,839.3 1818.8,839.3" fill="#fff" stroke="#0f0" stroke-width="2.6" stroke-linejoin="miter"/><polygon points="1850.7,825 1860.1,842.4 1841.3,842.4" fill="#fff" stroke="#0f0" stroke-width="2.6" stroke-linejoin="miter"/><polygon points="1873.1,831.6 1882.5,849 1863.7,849" fill="#fff" stroke="#0f0" stroke-width="2.6" stroke-linejoin="miter"/><polygon points="1895.6,843.3 1905,860.7 1886.2,860.7" fill="#fff" stroke="#0f0" stroke-width="2.6" stroke-linejoin="miter"/><polygon points="1918,859.1 1927.4,876.5 1908.6,876.5" fill="#fff" stroke="#0f0" stroke-width="2.6" stroke-linejoin="miter"/><polygon points="1940.5,877 1949.9,894.4 1931.1,894.4" fill="#fff" stroke="#0f0" stroke-width="2.6" stroke-linejoin="miter"/><polygon points="1963,897.6 1972.4,915 1953.6,915" fill="#fff" stroke="#0f0" stroke-width="2.6" stroke-linejoin="miter"/><polygon points="1985.4,919.6 1994.8,937 1976,937" fill="#fff" stroke="#0f0" stroke-width="2.6" stroke-linejoin="miter"/><polygon points="2007.9,942.1 2017.3,959.5 1998.5,959.5" fill="#fff" stroke="#0f0" stroke-width="2.6" stroke-linejoin="miter"/><polygon points="2030.4,966.2 2039.8,983.6 2021,983.6" fill="#fff" stroke="#0f0" stroke-width="2.6" stroke-linejoin="miter"/><polygon points="2052.8,991.5 2062.2,1008.9 2043.4,1008.9" fill="#fff" stroke="#0f0" stroke-width="2.6" stroke-linejoin="miter"/><polygon points="2075.3,1016.6 2084.7,1034 2065.9,1034" fill="#fff" stroke="#0f0" stroke-width="2.6" stroke-linejoin="miter"/><polygon points="2097.7,1042 2107.1,1059.4 2088.3,1059.4" fill="#fff" stroke="#0f0" stroke-width="2.6" stroke-linejoin="miter"/><polygon points="2120.2,1068 2129.6,1085.4 2110.8,1085.4" fill="#fff" stroke="#0f0" stroke-width="2.6" stroke-linejoin="miter"/><polygon points="2142.7,1093 2152.1,1110.4 2133.3,1110.4" fill="#fff" stroke="#0f0" stroke-width="2.6" stroke-linejoin="miter"/><polygon points="2165.1,1116.1 2174.5,1133.5 2155.7,1133.5" fill="#fff" stroke="#0f0" stroke-width="2.6" stroke-linejoin="miter"/><polygon points="2187.6,1137.8 2197,1155.2 2178.2,1155.2" fill="#fff" stroke="#0f0" stroke-width="2.6" stroke-linejoin="miter"/><polygon points="2210,1151.2 2219.4,1168.6 2200.6,1168.6" fill="#fff" stroke="#0f0" stroke-width="2.6" stroke-linejoin="miter"/><polygon points="2232.5,1162.8 2241.9,1180.2 2223.1,1180.2" fill="#fff" stroke="#0f0" stroke-width="2.6" stroke-linejoin="miter"/></g>
<polyline points="345.7,360 368.2,385.5 390.6,412.1 413.1,447.6 435.5,482.3 458,516.9 480.5,551.1 502.9,583.8 525.4,614.8 547.9,644.4 570.3,672.1 592.8,699.4 615.2,726.5 637.7,753.1 660.2,777.7 682.6,799.7 705.1,819.7 727.6,835.5 750,847.9 772.5,858 794.9,865.9 817.4,872.7 839.9,878.4 862.3,883.3 884.8,887.5 907.2,892.1 929.7,898.6 952.2,906.4 974.6,915.6 997.1,927 1019.6,941.9 1040.4,960.3 1068.7,983.6 1086.9,1007.4 1109.4,1029.1 1131.9,1047.5 1154.3,1062.5 1176.8,1073.1 1199.3,1078.5 1221.7,1080.3 1244.2,1079.4 1266.6,1075.9 1289.1,1071 1311.6,1064.1 1334,1055 1356.5,1045.2 1379,1034.9 1401.4,1024 1423.9,1013.2 1446.3,1002.3 1468.8,991.4 1491.3,980.2 1513.7,969.5 1536.2,958.8 1558.6,948 1581.1,937 1603.6,926.2 1626,915.8 1648.5,905.9 1671,896.6 1693.4,887.8 1715.9,879.5 1738.3,872.3 1760.8,865.6 1783.3,859.5 1805.7,854.1 1828.2,849.3 1850.7,846 1873.1,845.2 1895.6,846.9 1918,851.9 1940.5,860.9 1963,873.4 1985.4,890.4 2007.9,911.2 2030.4,934.2 2052.8,958.8 2075.3,984.2 2097.7,1010.6 2120.2,1036.9 2142.7,1062.2 2165.1,1085.4 2187.6,1107 2210,1120.4 2232.5,1130" fill="none" stroke="#00f" stroke-width="5.5" stroke-linejoin="round"/>
<g><polygon points="345.7,347.5 349.2,355.9 358.3,356.6 351.3,362.5 353.5,371.4 345.7,366.6 337.9,371.4 340.1,362.5 333.1,356.6 342.2,355.9" fill="#00f"/><polygon points="368.2,373 371.7,381.4 380.7,382.1 373.8,388 375.9,396.9 368.2,392.1 360.4,396.9 362.5,388 355.6,382.1 364.7,381.4" fill="#00f"/><polygon points="390.6,399.6 394.1,408 403.2,408.7 396.3,414.6 398.4,423.5 390.6,418.7 382.9,423.5 385,414.6 378.1,408.7 387.1,408" fill="#00f"/><polygon points="413.1,435.1 416.6,443.5 425.6,444.2 418.7,450.1 420.8,458.9 413.1,454.2 405.3,458.9 407.4,450.1 400.5,444.2 409.6,443.5" fill="#00f"/><polygon points="435.5,469.8 439,478.2 448.1,478.9 441.2,484.9 443.3,493.7 435.5,489 427.8,493.7 429.9,484.9 423,478.9 432.1,478.2" fill="#00f"/><polygon points="458,504.4 461.5,512.8 470.6,513.5 463.7,519.4 465.8,528.3 458,523.5 450.3,528.3 452.4,519.4 445.5,513.5 454.5,512.8" fill="#00f"/><polygon points="480.5,538.6 484,547 493,547.7 486.1,553.7 488.2,562.5 480.5,557.8 472.7,562.5 474.8,553.7 467.9,547.7 477,547" fill="#00f"/><polygon points="502.9,571.3 506.4,579.7 515.5,580.4 508.6,586.4 510.7,595.2 502.9,590.5 495.2,595.2 497.3,586.4 490.4,580.4 499.4,579.7" fill="#00f"/><polygon points="525.4,602.3 528.9,610.7 537.9,611.5 531,617.4 533.2,626.2 525.4,621.5 517.6,626.2 519.7,617.4 512.8,611.5 521.9,610.7" fill="#00f"/><polygon points="547.9,631.9 551.3,640.3 560.4,641 553.5,646.9 555.6,655.8 547.9,651 540.1,655.8 542.2,646.9 535.3,641 544.4,640.3" fill="#00f"/><polygon points="570.3,659.6 573.8,668 582.9,668.7 576,674.6 578.1,683.4 570.3,678.7 562.6,683.4 564.7,674.6 557.8,668.7 566.8,668" fill="#00f"/><polygon points="592.8,686.9 596.3,695.3 605.3,696.1 598.4,702 600.5,710.8 592.8,706.1 585,710.8 587.1,702 580.2,696.1 589.3,695.3" fill="#00f"/><polygon points="615.2,714 618.7,722.4 627.8,723.1 620.9,729.1 623,737.9 615.2,733.2 607.5,737.9 609.6,729.1 602.7,723.1 611.8,722.4" fill="#00f"/><polygon points="637.7,740.6 641.2,749 650.3,749.7 643.4,755.6 645.5,764.5 637.7,759.7 629.9,764.5 632.1,755.6 625.2,749.7 634.2,749" fill="#00f"/><polygon points="660.2,765.2 663.7,773.6 672.7,774.3 665.8,780.3 667.9,789.1 660.2,784.4 652.4,789.1 654.5,780.3 647.6,774.3 656.7,773.6" fill="#00f"/><polygon points="682.6,787.2 686.1,795.6 695.2,796.3 688.3,802.2 690.4,811 682.6,806.3 674.9,811 677,802.2 670.1,796.3 679.1,795.6" fill="#00f"/><polygon points="705.1,807.2 708.6,815.6 717.6,816.3 710.7,822.3 712.9,831.1 705.1,826.4 697.3,831.1 699.4,822.3 692.5,816.3 701.6,815.6" fill="#00f"/><polygon points="727.6,823 731,831.4 740.1,832.1 733.2,838 735.3,846.8 727.6,842.1 719.8,846.8 721.9,838 715,832.1 724.1,831.4" fill="#00f"/><polygon points="750,835.4 753.5,843.8 762.6,844.5 755.7,850.4 757.8,859.3 750,854.5 742.3,859.3 744.4,850.4 737.5,844.5 746.5,843.8" fill="#00f"/><polygon points="772.5,845.5 776,853.9 785,854.6 778.1,860.5 780.2,869.3 772.5,864.6 764.7,869.3 766.8,860.5 759.9,854.6 769,853.9" fill="#00f"/><polygon points="794.9,853.4 798.4,861.8 807.5,862.5 800.6,868.4 802.7,877.3 794.9,872.5 787.2,877.3 789.3,868.4 782.4,862.5 791.4,861.8" fill="#00f"/><polygon points="817.4,860.2 820.9,868.6 830,869.3 823.1,875.2 825.2,884.1 817.4,879.3 809.6,884.1 811.8,875.2 804.8,869.3 813.9,868.6" fill="#00f"/><polygon points="839.9,865.9 843.4,874.3 852.4,875 845.5,880.9 847.6,889.8 839.9,885 832.1,889.8 834.2,880.9 827.3,875 836.4,874.3" fill="#00f"/><polygon points="862.3,870.8 865.8,879.2 874.9,879.9 868,885.8 870.1,894.7 862.3,889.9 854.6,894.7 856.7,885.8 849.8,879.9 858.8,879.2" fill="#00f"/><polygon points="884.8,875 888.3,883.4 897.3,884.1 890.4,890 892.5,898.9 884.8,894.1 877,898.9 879.1,890 872.2,884.1 881.3,883.4" fill="#00f"/><polygon points="907.2,879.6 910.7,888 919.8,888.7 912.9,894.6 915,903.5 907.2,898.7 899.5,903.5 901.6,894.6 894.7,888.7 903.8,888" fill="#00f"/><polygon points="929.7,886.1 933.2,894.5 942.3,895.2 935.4,901.1 937.5,910 929.7,905.2 922,910 924.1,901.1 917.2,895.2 926.2,894.5" fill="#00f"/><polygon points="952.2,893.9 955.7,902.3 964.7,903 957.8,908.9 959.9,917.8 952.2,913 944.4,917.8 946.5,908.9 939.6,903 948.7,902.3" fill="#00f"/><polygon points="974.6,903.1 978.1,911.5 987.2,912.3 980.3,918.2 982.4,927 974.6,922.3 966.9,927 969,918.2 962.1,912.3 971.1,911.5" fill="#00f"/><polygon points="997.1,914.5 1000.6,922.9 1009.7,923.6 1002.7,929.5 1004.9,938.4 997.1,933.6 989.3,938.4 991.4,929.5 984.5,923.6 993.6,922.9" fill="#00f"/><polygon points="1019.6,929.4 1023.1,937.8 1032.1,938.5 1025.2,944.4 1027.3,953.2 1019.6,948.5 1011.8,953.2 1013.9,944.4 1007,938.5 1016.1,937.8" fill="#00f"/><polygon points="1040.4,947.8 1043.9,956.2 1053,957 1046.1,962.9 1048.2,971.7 1040.4,967 1032.7,971.7 1034.8,962.9 1027.9,957 1036.9,956.2" fill="#00f"/><polygon points="1068.7,971.1 1072.2,979.5 1081.2,980.2 1074.3,986.1 1076.4,995 1068.7,990.2 1060.9,995 1063,986.1 1056.1,980.2 1065.2,979.5" fill="#00f"/><polygon points="1086.9,994.9 1090.4,1003.3 1099.5,1004 1092.6,1009.9 1094.7,1018.8 1086.9,1014 1079.2,1018.8 1081.3,1009.9 1074.4,1004 1083.5,1003.3" fill="#00f"/><polygon points="1109.4,1016.6 1112.9,1025 1122,1025.8 1115.1,1031.7 1117.2,1040.5 1109.4,1035.8 1101.6,1040.5 1103.8,1031.7 1096.9,1025.8 1105.9,1025" fill="#00f"/><polygon points="1131.9,1035 1135.4,1043.4 1144.4,1044.1 1137.5,1050 1139.6,1058.9 1131.9,1054.1 1124.1,1058.9 1126.2,1050 1119.3,1044.1 1128.4,1043.4" fill="#00f"/><polygon points="1154.3,1050 1157.8,1058.4 1166.9,1059.2 1160,1065.1 1162.1,1073.9 1154.3,1069.2 1146.6,1073.9 1148.7,1065.1 1141.8,1059.2 1150.8,1058.4" fill="#00f"/><polygon points="1176.8,1060.6 1180.3,1069 1189.3,1069.7 1182.4,1075.6 1184.6,1084.4 1176.8,1079.7 1169,1084.4 1171.1,1075.6 1164.2,1069.7 1173.3,1069" fill="#00f"/><polygon points="1199.3,1066 1202.7,1074.4 1211.8,1075.1 1204.9,1081.1 1207,1089.9 1199.3,1085.2 1191.5,1089.9 1193.6,1081.1 1186.7,1075.1 1195.8,1074.4" fill="#00f"/><polygon points="1221.7,1067.8 1225.2,1076.2 1234.3,1076.9 1227.4,1082.9 1229.5,1091.7 1221.7,1087 1214,1091.7 1216.1,1082.9 1209.2,1076.9 1218.2,1076.2" fill="#00f"/><polygon points="1244.2,1066.9 1247.7,1075.3 1256.7,1076 1249.8,1081.9 1251.9,1090.7 1244.2,1086 1236.4,1090.7 1238.5,1081.9 1231.6,1076 1240.7,1075.3" fill="#00f"/><polygon points="1266.6,1063.4 1270.1,1071.8 1279.2,1072.5 1272.3,1078.4 1274.4,1087.3 1266.6,1082.5 1258.9,1087.3 1261,1078.4 1254.1,1072.5 1263.2,1071.8" fill="#00f"/><polygon points="1289.1,1058.5 1292.6,1066.9 1301.7,1067.6 1294.8,1073.6 1296.9,1082.4 1289.1,1077.7 1281.3,1082.4 1283.5,1073.6 1276.6,1067.6 1285.6,1066.9" fill="#00f"/><polygon points="1311.6,1051.6 1315.1,1060 1324.1,1060.7 1317.2,1066.6 1319.3,1075.4 1311.6,1070.7 1303.8,1075.4 1305.9,1066.6 1299,1060.7 1308.1,1060" fill="#00f"/><polygon points="1334,1042.5 1337.5,1050.9 1346.6,1051.6 1339.7,1057.5 1341.8,1066.4 1334,1061.6 1326.3,1066.4 1328.4,1057.5 1321.5,1051.6 1330.5,1050.9" fill="#00f"/><polygon points="1356.5,1032.7 1360,1041.1 1369,1041.9 1362.1,1047.8 1364.2,1056.6 1356.5,1051.9 1348.7,1056.6 1350.8,1047.8 1343.9,1041.9 1353,1041.1" fill="#00f"/><polygon points="1379,1022.4 1382.4,1030.8 1391.5,1031.5 1384.6,1037.4 1386.7,1046.3 1379,1041.5 1371.2,1046.3 1373.3,1037.4 1366.4,1031.5 1375.5,1030.8" fill="#00f"/><polygon points="1401.4,1011.5 1404.9,1019.9 1414,1020.7 1407.1,1026.6 1409.2,1035.4 1401.4,1030.7 1393.7,1035.4 1395.8,1026.6 1388.9,1020.7 1397.9,1019.9" fill="#00f"/><polygon points="1423.9,1000.7 1427.4,1009.1 1436.4,1009.8 1429.5,1015.7 1431.6,1024.6 1423.9,1019.8 1416.1,1024.6 1418.2,1015.7 1411.3,1009.8 1420.4,1009.1" fill="#00f"/><polygon points="1446.3,989.8 1449.8,998.2 1458.9,998.9 1452,1004.9 1454.1,1013.7 1446.3,1009 1438.6,1013.7 1440.7,1004.9 1433.8,998.9 1442.8,998.2" fill="#00f"/><polygon points="1468.8,978.9 1472.3,987.3 1481.4,988 1474.4,993.9 1476.6,1002.7 1468.8,998 1461,1002.7 1463.2,993.9 1456.2,988 1465.3,987.3" fill="#00f"/><polygon points="1491.3,967.7 1494.8,976.1 1503.8,976.8 1496.9,982.8 1499,991.6 1491.3,986.9 1483.5,991.6 1485.6,982.8 1478.7,976.8 1487.8,976.1" fill="#00f"/><polygon points="1513.7,957 1517.2,965.4 1526.3,966.1 1519.4,972.1 1521.5,980.9 1513.7,976.2 1506,980.9 1508.1,972.1 1501.2,966.1 1510.2,965.4" fill="#00f"/><polygon points="1536.2,946.3 1539.7,954.7 1548.7,955.4 1541.8,961.3 1543.9,970.2 1536.2,965.4 1528.4,970.2 1530.5,961.3 1523.6,955.4 1532.7,954.7" fill="#00f"/><polygon points="1558.6,935.5 1562.1,943.9 1571.2,944.6 1564.3,950.5 1566.4,959.3 1558.6,954.6 1550.9,959.3 1553,950.5 1546.1,944.6 1555.2,943.9" fill="#00f"/><polygon points="1581.1,924.5 1584.6,932.9 1593.7,933.6 1586.8,939.5 1588.9,948.4 1581.1,943.6 1573.4,948.4 1575.5,939.5 1568.6,933.6 1577.6,932.9" fill="#00f"/><polygon points="1603.6,913.7 1607.1,922.1 1616.1,922.8 1609.2,928.7 1611.3,937.5 1603.6,932.8 1595.8,937.5 1597.9,928.7 1591,922.8 1600.1,922.1" fill="#00f"/><polygon points="1626,903.3 1629.5,911.7 1638.6,912.5 1631.7,918.4 1633.8,927.2 1626,922.5 1618.3,927.2 1620.4,918.4 1613.5,912.5 1622.5,911.7" fill="#00f"/><polygon points="1648.5,893.4 1652,901.8 1661,902.6 1654.1,908.5 1656.3,917.3 1648.5,912.6 1640.7,917.3 1642.8,908.5 1635.9,902.6 1645,901.8" fill="#00f"/><polygon points="1671,884.1 1674.4,892.5 1683.5,893.2 1676.6,899.1 1678.7,908 1671,903.2 1663.2,908 1665.3,899.1 1658.4,893.2 1667.5,892.5" fill="#00f"/><polygon points="1693.4,875.3 1696.9,883.7 1706,884.4 1699.1,890.3 1701.2,899.1 1693.4,894.4 1685.7,899.1 1687.8,890.3 1680.9,884.4 1689.9,883.7" fill="#00f"/><polygon points="1715.9,867 1719.4,875.4 1728.4,876.1 1721.5,882.1 1723.6,890.9 1715.9,886.2 1708.1,890.9 1710.2,882.1 1703.3,876.1 1712.4,875.4" fill="#00f"/><polygon points="1738.3,859.8 1741.8,868.2 1750.9,868.9 1744,874.8 1746.1,883.7 1738.3,878.9 1730.6,883.7 1732.7,874.8 1725.8,868.9 1734.9,868.2" fill="#00f"/><polygon points="1760.8,853.1 1764.3,861.5 1773.4,862.2 1766.5,868.1 1768.6,877 1760.8,872.2 1753,877 1755.2,868.1 1748.3,862.2 1757.3,861.5" fill="#00f"/><polygon points="1783.3,847 1786.8,855.4 1795.8,856.1 1788.9,862.1 1791,870.9 1783.3,866.2 1775.5,870.9 1777.6,862.1 1770.7,856.1 1779.8,855.4" fill="#00f"/><polygon points="1805.7,841.6 1809.2,850 1818.3,850.7 1811.4,856.6 1813.5,865.5 1805.7,860.7 1798,865.5 1800.1,856.6 1793.2,850.7 1802.2,850" fill="#00f"/><polygon points="1828.2,836.8 1831.7,845.2 1840.7,845.9 1833.8,851.8 1836,860.7 1828.2,855.9 1820.4,860.7 1822.5,851.8 1815.6,845.9 1824.7,845.2" fill="#00f"/><polygon points="1850.7,833.5 1854.1,841.9 1863.2,842.6 1856.3,848.5 1858.4,857.4 1850.7,852.6 1842.9,857.4 1845,848.5 1838.1,842.6 1847.2,841.9" fill="#00f"/><polygon points="1873.1,832.7 1876.6,841.1 1885.7,841.8 1878.8,847.8 1880.9,856.6 1873.1,851.9 1865.4,856.6 1867.5,847.8 1860.6,841.8 1869.6,841.1" fill="#00f"/><polygon points="1895.6,834.4 1899.1,842.8 1908.1,843.6 1901.2,849.5 1903.3,858.3 1895.6,853.6 1887.8,858.3 1889.9,849.5 1883,843.6 1892.1,842.8" fill="#00f"/><polygon points="1918,839.4 1921.5,847.8 1930.6,848.6 1923.7,854.5 1925.8,863.3 1918,858.6 1910.3,863.3 1912.4,854.5 1905.5,848.6 1914.5,847.8" fill="#00f"/><polygon points="1940.5,848.4 1944,856.8 1953.1,857.5 1946.2,863.4 1948.3,872.3 1940.5,867.5 1932.7,872.3 1934.9,863.4 1927.9,857.5 1937,856.8" fill="#00f"/><polygon points="1963,860.9 1966.5,869.3 1975.5,870 1968.6,875.9 1970.7,884.8 1963,880 1955.2,884.8 1957.3,875.9 1950.4,870 1959.5,869.3" fill="#00f"/><polygon points="1985.4,877.9 1988.9,886.3 1998,887 1991.1,892.9 1993.2,901.8 1985.4,897 1977.7,901.8 1979.8,892.9 1972.9,887 1981.9,886.3" fill="#00f"/><polygon points="2007.9,898.7 2011.4,907.1 2020.4,907.8 2013.5,913.7 2015.6,922.5 2007.9,917.8 2000.1,922.5 2002.2,913.7 1995.3,907.8 2004.4,907.1" fill="#00f"/><polygon points="2030.4,921.7 2033.8,930.1 2042.9,930.8 2036,936.7 2038.1,945.6 2030.4,940.8 2022.6,945.6 2024.7,936.7 2017.8,930.8 2026.9,930.1" fill="#00f"/><polygon points="2052.8,946.3 2056.3,954.7 2065.4,955.4 2058.5,961.3 2060.6,970.2 2052.8,965.4 2045.1,970.2 2047.2,961.3 2040.3,955.4 2049.3,954.7" fill="#00f"/><polygon points="2075.3,971.7 2078.8,980.1 2087.8,980.8 2080.9,986.7 2083,995.6 2075.3,990.8 2067.5,995.6 2069.6,986.7 2062.7,980.8 2071.8,980.1" fill="#00f"/><polygon points="2097.7,998.1 2101.2,1006.5 2110.3,1007.3 2103.4,1013.2 2105.5,1022 2097.7,1017.3 2090,1022 2092.1,1013.2 2085.2,1007.3 2094.2,1006.5" fill="#00f"/><polygon points="2120.2,1024.4 2123.7,1032.8 2132.8,1033.5 2125.8,1039.4 2128,1048.3 2120.2,1043.5 2112.4,1048.3 2114.5,1039.4 2107.6,1033.5 2116.7,1032.8" fill="#00f"/><polygon points="2142.7,1049.7 2146.2,1058.1 2155.2,1058.8 2148.3,1064.7 2150.4,1073.6 2142.7,1068.8 2134.9,1073.6 2137,1064.7 2130.1,1058.8 2139.2,1058.1" fill="#00f"/><polygon points="2165.1,1072.9 2168.6,1081.3 2177.7,1082 2170.8,1088 2172.9,1096.8 2165.1,1092.1 2157.4,1096.8 2159.5,1088 2152.6,1082 2161.6,1081.3" fill="#00f"/><polygon points="2187.6,1094.5 2191.1,1102.9 2200.1,1103.6 2193.2,1109.5 2195.3,1118.4 2187.6,1113.6 2179.8,1118.4 2181.9,1109.5 2175,1103.6 2184.1,1102.9" fill="#00f"/><polygon points="2210,1107.9 2213.5,1116.3 2222.6,1117 2215.7,1122.9 2217.8,1131.8 2210,1127 2202.3,1131.8 2204.4,1122.9 2197.5,1117 2206.6,1116.3" fill="#00f"/><polygon points="2232.5,1117.5 2236,1125.9 2245.1,1126.6 2238.2,1132.5 2240.3,1141.4 2232.5,1136.6 2224.7,1141.4 2226.9,1132.5 2220,1126.6 2229,1125.9" fill="#00f"/></g>
<path d="M355.1 228.1L358.8 233M379.2 256.4L379.6 256.9M399.7 280.6L404 286.5M421.9 312.1L426.7 319.1M444.2 345L449.3 352.7M466.7 378.6L471.7 386M489.4 411.8L494 418.5M512 444.1L516.4 450.2M534.7 475.4L538.5 480.4M557.3 505.3L560.9 510M579.6 534.9L583.5 540.1M602.1 565.1L605.9 570.2M624.4 595.3L628.5 600.9M647.1 626L650.8 631.1M669.8 655.8L673 659.8M692.4 684.2L695.4 688M715 712.3L717.7 715.6M737.6 739.7L740 742.6M760.3 766.3L762.2 768.5M782.5 792.2L784.9 795M804.8 819L807.5 822.2M827.9 845.8L829.3 847.4M2063.7 911.8L2064.4 912.5M2085.5 935.4L2087.5 937.6M2107.8 961.2L2110.1 963.9M2130.5 987.6L2132.4 989.8M2153.3 1013L2154.5 1014.3M2176.1 1036.8L2176.6 1037.4" fill="none" stroke="#00f" stroke-width="5.2" stroke-linecap="round"/>
<g><polygon points="345.7,203.6 349.1,211.7 357.9,212.4 351.2,218.2 353.2,226.8 345.7,222.2 338.2,226.8 340.2,218.2 333.5,212.4 342.3,211.7" fill="#00f"/><polygon points="345.7,211 347.1,214.4 350.8,214.7 348,217.2 348.9,220.8 345.7,218.8 342.5,220.8 343.4,217.2 340.6,214.7 344.3,214.4" fill="#fff"/><polygon points="368.2,233.3 371.5,241.4 380.3,242.1 373.6,247.9 375.7,256.5 368.2,251.9 360.6,256.5 362.7,247.9 356,242.1 364.8,241.4" fill="#00f"/><polygon points="368.2,240.7 369.6,244.1 373.3,244.4 370.5,246.9 371.3,250.5 368.2,248.5 365,250.5 365.9,246.9 363,244.4 366.7,244.1" fill="#fff"/><polygon points="390.6,255.8 394,263.9 402.8,264.6 396.1,270.4 398.1,279 390.6,274.4 383.1,279 385.1,270.4 378.5,264.6 387.2,263.9" fill="#00f"/><polygon points="390.6,263.2 392.1,266.6 395.8,266.9 392.9,269.4 393.8,273 390.6,271 387.4,273 388.3,269.4 385.5,266.9 389.2,266.6" fill="#fff"/><polygon points="413.1,287.1 416.5,295.2 425.3,295.9 418.6,301.7 420.6,310.2 413.1,305.6 405.6,310.2 407.6,301.7 400.9,295.9 409.7,295.2" fill="#00f"/><polygon points="413.1,294.5 414.5,297.9 418.2,298.2 415.4,300.6 416.3,304.2 413.1,302.3 409.9,304.2 410.8,300.6 408,298.2 411.7,297.9" fill="#fff"/><polygon points="435.5,319.9 438.9,328.1 447.7,328.8 441,334.5 443.1,343.1 435.5,338.5 428,343.1 430.1,334.5 423.4,328.8 432.2,328.1" fill="#00f"/><polygon points="435.5,327.3 437,330.8 440.7,331.1 437.9,333.5 438.7,337.1 435.5,335.1 432.4,337.1 433.2,333.5 430.4,331.1 434.1,330.8" fill="#fff"/><polygon points="458,353.5 461.4,361.7 470.2,362.4 463.5,368.1 465.5,376.7 458,372.1 450.5,376.7 452.5,368.1 445.8,362.4 454.6,361.7" fill="#00f"/><polygon points="458,360.9 459.4,364.4 463.1,364.7 460.3,367.1 461.2,370.7 458,368.8 454.8,370.7 455.7,367.1 452.9,364.7 456.6,364.4" fill="#fff"/><polygon points="480.5,386.8 483.9,395 492.6,395.7 486,401.4 488,410 480.5,405.4 472.9,410 475,401.4 468.3,395.7 477.1,395" fill="#00f"/><polygon points="480.5,394.2 481.9,397.7 485.6,398 482.8,400.4 483.6,404 480.5,402.1 477.3,404 478.2,400.4 475.3,398 479,397.7" fill="#fff"/><polygon points="502.9,419.3 506.3,427.4 515.1,428.1 508.4,433.8 510.5,442.4 502.9,437.8 495.4,442.4 497.5,433.8 490.8,428.1 499.5,427.4" fill="#00f"/><polygon points="502.9,426.7 504.4,430.1 508.1,430.4 505.2,432.8 506.1,436.4 502.9,434.5 499.8,436.4 500.6,432.8 497.8,430.4 501.5,430.1" fill="#fff"/><polygon points="525.4,450.8 528.8,459 537.6,459.7 530.9,465.4 532.9,474 525.4,469.4 517.9,474 519.9,465.4 513.2,459.7 522,459" fill="#00f"/><polygon points="525.4,458.2 526.8,461.7 530.5,462 527.7,464.4 528.6,468 525.4,466.1 522.2,468 523.1,464.4 520.3,462 524,461.7" fill="#fff"/><polygon points="547.9,480.8 551.2,489 560,489.7 553.3,495.4 555.4,504 547.9,499.4 540.3,504 542.4,495.4 535.7,489.7 544.5,489" fill="#00f"/><polygon points="547.9,488.2 549.3,491.7 553,492 550.2,494.4 551,498 547.9,496.1 544.7,498 545.5,494.4 542.7,492 546.4,491.7" fill="#fff"/><polygon points="570.3,510.3 573.7,518.4 582.5,519.1 575.8,524.8 577.8,533.4 570.3,528.8 562.8,533.4 564.8,524.8 558.1,519.1 566.9,518.4" fill="#00f"/><polygon points="570.3,517.7 571.7,521.1 575.5,521.4 572.6,523.8 573.5,527.4 570.3,525.5 567.1,527.4 568,523.8 565.2,521.4 568.9,521.1" fill="#fff"/><polygon points="592.8,540.5 596.2,548.7 605,549.4 598.3,555.1 600.3,563.7 592.8,559.1 585.3,563.7 587.3,555.1 580.6,549.4 589.4,548.7" fill="#00f"/><polygon points="592.8,547.9 594.2,551.4 597.9,551.7 595.1,554.1 596,557.7 592.8,555.8 589.6,557.7 590.5,554.1 587.6,551.7 591.4,551.4" fill="#fff"/><polygon points="615.2,570.6 618.6,578.8 627.4,579.5 620.7,585.2 622.8,593.8 615.2,589.2 607.7,593.8 609.8,585.2 603.1,579.5 611.9,578.8" fill="#00f"/><polygon points="615.2,578 616.7,581.5 620.4,581.8 617.6,584.2 618.4,587.8 615.2,585.9 612.1,587.8 612.9,584.2 610.1,581.8 613.8,581.5" fill="#fff"/><polygon points="637.7,601.4 641.1,609.6 649.9,610.3 643.2,616 645.2,624.6 637.7,620 630.2,624.6 632.2,616 625.5,610.3 634.3,609.6" fill="#00f"/><polygon points="637.7,608.8 639.1,612.3 642.8,612.6 640,615 640.9,618.6 637.7,616.7 634.5,618.6 635.4,615 632.6,612.6 636.3,612.3" fill="#fff"/><polygon points="660.2,631.4 663.6,639.6 672.3,640.3 665.6,646 667.7,654.6 660.2,650 652.6,654.6 654.7,646 648,640.3 656.8,639.6" fill="#00f"/><polygon points="660.2,638.8 661.6,642.3 665.3,642.6 662.5,645 663.3,648.6 660.2,646.7 657,648.6 657.9,645 655,642.6 658.7,642.3" fill="#fff"/><polygon points="682.6,659.9 686,668.1 694.8,668.8 688.1,674.5 690.2,683.1 682.6,678.5 675.1,683.1 677.2,674.5 670.5,668.8 679.2,668.1" fill="#00f"/><polygon points="682.6,667.3 684.1,670.8 687.8,671.1 684.9,673.5 685.8,677.1 682.6,675.2 679.5,677.1 680.3,673.5 677.5,671.1 681.2,670.8" fill="#fff"/><polygon points="705.1,688.1 708.5,696.3 717.3,697 710.6,702.7 712.6,711.3 705.1,706.7 697.6,711.3 699.6,702.7 692.9,697 701.7,696.3" fill="#00f"/><polygon points="705.1,695.5 706.5,699 710.2,699.3 707.4,701.7 708.3,705.3 705.1,703.4 701.9,705.3 702.8,701.7 700,699.3 703.7,699" fill="#fff"/><polygon points="727.6,715.6 730.9,723.8 739.7,724.5 733,730.2 735.1,738.8 727.6,734.2 720,738.8 722.1,730.2 715.4,724.5 724.2,723.8" fill="#00f"/><polygon points="727.6,723 729,726.5 732.7,726.8 729.9,729.2 730.7,732.8 727.6,730.9 724.4,732.8 725.2,729.2 722.4,726.8 726.1,726.5" fill="#fff"/><polygon points="750,742.4 753.4,750.6 762.2,751.3 755.5,757 757.5,765.6 750,761 742.5,765.6 744.5,757 737.8,751.3 746.6,750.6" fill="#00f"/><polygon points="750,749.8 751.4,753.3 755.2,753.6 752.3,756 753.2,759.6 750,757.7 746.8,759.6 747.7,756 744.9,753.6 748.6,753.3" fill="#fff"/><polygon points="772.5,768.2 775.9,776.3 784.7,777 778,782.8 780,791.4 772.5,786.8 765,791.4 767,782.8 760.3,777 769.1,776.3" fill="#00f"/><polygon points="772.5,775.6 773.9,779 777.6,779.3 774.8,781.8 775.7,785.4 772.5,783.4 769.3,785.4 770.2,781.8 767.3,779.3 771,779" fill="#fff"/><polygon points="794.9,794.8 798.3,802.9 807.1,803.6 800.4,809.4 802.5,818 794.9,813.4 787.4,818 789.5,809.4 782.8,803.6 791.6,802.9" fill="#00f"/><polygon points="794.9,802.2 796.4,805.6 800.1,805.9 797.3,808.4 798.1,812 794.9,810 791.8,812 792.6,808.4 789.8,805.9 793.5,805.6" fill="#fff"/><polygon points="817.4,822.2 820.8,830.3 829.6,831 822.9,836.8 824.9,845.4 817.4,840.8 809.9,845.4 811.9,836.8 805.2,831 814,830.3" fill="#00f"/><polygon points="817.4,829.6 818.8,833 822.5,833.3 819.7,835.8 820.6,839.4 817.4,837.4 814.2,839.4 815.1,835.8 812.3,833.3 816,833" fill="#fff"/><polygon points="839.9,846.8 843.2,855 852,855.7 845.3,861.4 847.4,870 839.9,865.4 832.3,870 834.4,861.4 827.7,855.7 836.5,855" fill="#00f"/><polygon points="839.9,854.2 841.3,857.7 845,858 842.2,860.4 843,864 839.9,862.1 836.7,864 837.6,860.4 834.7,858 838.4,857.7" fill="#fff"/><polygon points="862.3,866.3 865.7,874.4 874.5,875.1 867.8,880.8 869.8,889.4 862.3,884.8 854.8,889.4 856.8,880.8 850.2,875.1 858.9,874.4" fill="#00f"/><polygon points="862.3,873.7 863.8,877.1 867.5,877.4 864.6,879.8 865.5,883.4 862.3,881.5 859.2,883.4 860,879.8 857.2,877.4 860.9,877.1" fill="#fff"/><polygon points="884.8,880.6 888.2,888.8 897,889.5 890.3,895.2 892.3,903.8 884.8,899.2 877.3,903.8 879.3,895.2 872.6,889.5 881.4,888.8" fill="#00f"/><polygon points="884.8,888 886.2,891.5 889.9,891.8 887.1,894.2 888,897.8 884.8,895.9 881.6,897.8 882.5,894.2 879.7,891.8 883.4,891.5" fill="#fff"/><polygon points="907.2,893.2 910.6,901.3 919.4,902 912.7,907.8 914.8,916.4 907.2,911.8 899.7,916.4 901.8,907.8 895.1,902 903.9,901.3" fill="#00f"/><polygon points="907.2,900.6 908.7,904 912.4,904.3 909.6,906.8 910.4,910.4 907.2,908.4 904.1,910.4 904.9,906.8 902.1,904.3 905.8,904" fill="#fff"/><polygon points="929.7,905.6 933.1,913.7 941.9,914.4 935.2,920.2 937.2,928.8 929.7,924.2 922.2,928.8 924.2,920.2 917.5,914.4 926.3,913.7" fill="#00f"/><polygon points="929.7,913 931.1,916.4 934.8,916.7 932,919.2 932.9,922.8 929.7,920.8 926.5,922.8 927.4,919.2 924.6,916.7 928.3,916.4" fill="#fff"/><polygon points="952.2,915.7 955.6,923.8 964.3,924.5 957.7,930.3 959.7,938.9 952.2,934.3 944.7,938.9 946.7,930.3 940,924.5 948.8,923.8" fill="#00f"/><polygon points="952.2,923.1 953.6,926.5 957.3,926.8 954.5,929.3 955.3,932.9 952.2,930.9 949,932.9 949.9,929.3 947,926.8 950.7,926.5" fill="#fff"/><polygon points="974.6,924.2 978,932.3 986.8,933 980.1,938.8 982.2,947.4 974.6,942.8 967.1,947.4 969.2,938.8 962.5,933 971.3,932.3" fill="#00f"/><polygon points="974.6,931.6 976.1,935 979.8,935.3 976.9,937.8 977.8,941.4 974.6,939.4 971.5,941.4 972.3,937.8 969.5,935.3 973.2,935" fill="#fff"/><polygon points="997.1,931.8 1000.5,939.9 1009.3,940.6 1002.6,946.4 1004.6,955 997.1,950.4 989.6,955 991.6,946.4 984.9,940.6 993.7,939.9" fill="#00f"/><polygon points="997.1,939.2 998.5,942.6 1002.2,942.9 999.4,945.4 1000.3,949 997.1,947 993.9,949 994.8,945.4 992,942.9 995.7,942.6" fill="#fff"/><polygon points="1019.6,938.8 1022.9,947 1031.7,947.7 1025,953.4 1027.1,962 1019.6,957.4 1012,962 1014.1,953.4 1007.4,947.7 1016.2,947" fill="#00f"/><polygon points="1019.6,946.2 1021,949.7 1024.7,950 1021.9,952.4 1022.7,956 1019.6,954.1 1016.4,956 1017.2,952.4 1014.4,950 1018.1,949.7" fill="#fff"/><polygon points="1040.4,945.6 1043.8,953.8 1052.6,954.5 1045.9,960.2 1047.9,968.8 1040.4,964.2 1032.9,968.8 1034.9,960.2 1028.2,954.5 1037,953.8" fill="#00f"/><polygon points="1040.4,953 1041.9,956.5 1045.6,956.8 1042.7,959.2 1043.6,962.8 1040.4,960.9 1037.2,962.8 1038.1,959.2 1035.3,956.8 1039,956.5" fill="#fff"/><polygon points="1068.7,952.4 1072.1,960.5 1080.9,961.2 1074.2,967 1076.2,975.6 1068.7,971 1061.2,975.6 1063.2,967 1056.5,961.2 1065.3,960.5" fill="#00f"/><polygon points="1068.7,959.8 1070.1,963.2 1073.8,963.5 1071,966 1071.9,969.6 1068.7,967.6 1065.5,969.6 1066.4,966 1063.5,963.5 1067.3,963.2" fill="#fff"/><polygon points="1086.9,959.3 1090.3,967.4 1099.1,968.1 1092.4,973.8 1094.5,982.4 1086.9,977.8 1079.4,982.4 1081.5,973.8 1074.8,968.1 1083.6,967.4" fill="#00f"/><polygon points="1086.9,966.7 1088.4,970.1 1092.1,970.4 1089.3,972.8 1090.1,976.4 1086.9,974.5 1083.8,976.4 1084.6,972.8 1081.8,970.4 1085.5,970.1" fill="#fff"/><polygon points="1109.4,967.5 1112.8,975.7 1121.6,976.4 1114.9,982.1 1116.9,990.7 1109.4,986.1 1101.9,990.7 1103.9,982.1 1097.2,976.4 1106,975.7" fill="#00f"/><polygon points="1109.4,974.9 1110.8,978.4 1114.5,978.7 1111.7,981.1 1112.6,984.7 1109.4,982.8 1106.2,984.7 1107.1,981.1 1104.3,978.7 1108,978.4" fill="#fff"/><polygon points="1131.9,978.1 1135.3,986.2 1144,986.9 1137.3,992.7 1139.4,1001.3 1131.9,996.7 1124.3,1001.3 1126.4,992.7 1119.7,986.9 1128.5,986.2" fill="#00f"/><polygon points="1131.9,985.5 1133.3,988.9 1137,989.2 1134.2,991.7 1135,995.3 1131.9,993.3 1128.7,995.3 1129.6,991.7 1126.7,989.2 1130.4,988.9" fill="#fff"/><polygon points="1154.3,991.3 1157.7,999.5 1166.5,1000.2 1159.8,1005.9 1161.9,1014.5 1154.3,1009.9 1146.8,1014.5 1148.9,1005.9 1142.2,1000.2 1150.9,999.5" fill="#00f"/><polygon points="1154.3,998.7 1155.8,1002.2 1159.5,1002.5 1156.6,1004.9 1157.5,1008.5 1154.3,1006.6 1151.2,1008.5 1152,1004.9 1149.2,1002.5 1152.9,1002.2" fill="#fff"/><polygon points="1176.8,1006.4 1180.2,1014.5 1189,1015.2 1182.3,1020.9 1184.3,1029.5 1176.8,1024.9 1169.3,1029.5 1171.3,1020.9 1164.6,1015.2 1173.4,1014.5" fill="#00f"/><polygon points="1176.8,1013.8 1178.2,1017.2 1181.9,1017.5 1179.1,1019.9 1180,1023.5 1176.8,1021.6 1173.6,1023.5 1174.5,1019.9 1171.7,1017.5 1175.4,1017.2" fill="#fff"/><polygon points="1199.3,1021.7 1202.6,1029.8 1211.4,1030.5 1204.7,1036.3 1206.8,1044.8 1199.3,1040.2 1191.7,1044.8 1193.8,1036.3 1187.1,1030.5 1195.9,1029.8" fill="#00f"/><polygon points="1199.3,1029.1 1200.7,1032.5 1204.4,1032.8 1201.6,1035.2 1202.4,1038.8 1199.3,1036.9 1196.1,1038.8 1196.9,1035.2 1194.1,1032.8 1197.8,1032.5" fill="#fff"/><polygon points="1221.7,1036.2 1225.1,1044.4 1233.9,1045.1 1227.2,1050.8 1229.2,1059.4 1221.7,1054.8 1214.2,1059.4 1216.2,1050.8 1209.5,1045.1 1218.3,1044.4" fill="#00f"/><polygon points="1221.7,1043.6 1223.1,1047.1 1226.9,1047.4 1224,1049.8 1224.9,1053.4 1221.7,1051.5 1218.5,1053.4 1219.4,1049.8 1216.6,1047.4 1220.3,1047.1" fill="#fff"/><polygon points="1244.2,1048.3 1247.6,1056.4 1256.4,1057.1 1249.7,1062.8 1251.7,1071.4 1244.2,1066.8 1236.7,1071.4 1238.7,1062.8 1232,1057.1 1240.8,1056.4" fill="#00f"/><polygon points="1244.2,1055.7 1245.6,1059.1 1249.3,1059.4 1246.5,1061.8 1247.4,1065.4 1244.2,1063.5 1241,1065.4 1241.9,1061.8 1239,1059.4 1242.8,1059.1" fill="#fff"/><polygon points="1266.6,1057.7 1270,1065.8 1278.8,1066.5 1272.1,1072.3 1274.2,1080.9 1266.6,1076.3 1259.1,1080.9 1261.2,1072.3 1254.5,1066.5 1263.3,1065.8" fill="#00f"/><polygon points="1266.6,1065.1 1268.1,1068.5 1271.8,1068.8 1269,1071.3 1269.8,1074.9 1266.6,1072.9 1263.5,1074.9 1264.3,1071.3 1261.5,1068.8 1265.2,1068.5" fill="#fff"/><polygon points="1289.1,1064.2 1292.5,1072.3 1301.3,1073 1294.6,1078.8 1296.6,1087.3 1289.1,1082.7 1281.6,1087.3 1283.6,1078.8 1276.9,1073 1285.7,1072.3" fill="#00f"/><polygon points="1289.1,1071.6 1290.5,1075 1294.2,1075.3 1291.4,1077.7 1292.3,1081.3 1289.1,1079.4 1285.9,1081.3 1286.8,1077.7 1284,1075.3 1287.7,1075" fill="#fff"/><polygon points="1311.6,1067.3 1315,1075.4 1323.7,1076.1 1317,1081.9 1319.1,1090.5 1311.6,1085.9 1304,1090.5 1306.1,1081.9 1299.4,1076.1 1308.2,1075.4" fill="#00f"/><polygon points="1311.6,1074.7 1313,1078.1 1316.7,1078.4 1313.9,1080.9 1314.7,1084.5 1311.6,1082.5 1308.4,1084.5 1309.3,1080.9 1306.4,1078.4 1310.1,1078.1" fill="#fff"/><polygon points="1334,1067.5 1337.4,1075.6 1346.2,1076.3 1339.5,1082.1 1341.6,1090.7 1334,1086.1 1326.5,1090.7 1328.5,1082.1 1321.9,1076.3 1330.6,1075.6" fill="#00f"/><polygon points="1334,1074.9 1335.5,1078.3 1339.2,1078.6 1336.3,1081.1 1337.2,1084.7 1334,1082.7 1330.9,1084.7 1331.7,1081.1 1328.9,1078.6 1332.6,1078.3" fill="#fff"/><polygon points="1356.5,1065.5 1359.9,1073.7 1368.7,1074.4 1362,1080.1 1364,1088.7 1356.5,1084.1 1349,1088.7 1351,1080.1 1344.3,1074.4 1353.1,1073.7" fill="#00f"/><polygon points="1356.5,1072.9 1357.9,1076.4 1361.6,1076.7 1358.8,1079.1 1359.7,1082.7 1356.5,1080.8 1353.3,1082.7 1354.2,1079.1 1351.4,1076.7 1355.1,1076.4" fill="#fff"/><polygon points="1379,1061.3 1382.3,1069.5 1391.1,1070.2 1384.4,1075.9 1386.5,1084.5 1379,1079.9 1371.4,1084.5 1373.5,1075.9 1366.8,1070.2 1375.6,1069.5" fill="#00f"/><polygon points="1379,1068.7 1380.4,1072.2 1384.1,1072.5 1381.3,1074.9 1382.1,1078.5 1379,1076.6 1375.8,1078.5 1376.6,1074.9 1373.8,1072.5 1377.5,1072.2" fill="#fff"/><polygon points="1401.4,1054.1 1404.8,1062.3 1413.6,1063 1406.9,1068.7 1408.9,1077.3 1401.4,1072.7 1393.9,1077.3 1395.9,1068.7 1389.2,1063 1398,1062.3" fill="#00f"/><polygon points="1401.4,1061.5 1402.8,1065 1406.5,1065.3 1403.7,1067.7 1404.6,1071.3 1401.4,1069.4 1398.2,1071.3 1399.1,1067.7 1396.3,1065.3 1400,1065" fill="#fff"/><polygon points="1423.9,1045.4 1427.3,1053.6 1436,1054.3 1429.4,1060 1431.4,1068.6 1423.9,1064 1416.4,1068.6 1418.4,1060 1411.7,1054.3 1420.5,1053.6" fill="#00f"/><polygon points="1423.9,1052.8 1425.3,1056.3 1429,1056.6 1426.2,1059 1427.1,1062.6 1423.9,1060.7 1420.7,1062.6 1421.6,1059 1418.7,1056.6 1422.4,1056.3" fill="#fff"/><polygon points="1446.3,1036.3 1449.7,1044.5 1458.5,1045.2 1451.8,1050.9 1453.9,1059.5 1446.3,1054.9 1438.8,1059.5 1440.9,1050.9 1434.2,1045.2 1443,1044.5" fill="#00f"/><polygon points="1446.3,1043.7 1447.8,1047.2 1451.5,1047.5 1448.6,1049.9 1449.5,1053.5 1446.3,1051.6 1443.2,1053.5 1444,1049.9 1441.2,1047.5 1444.9,1047.2" fill="#fff"/><polygon points="1468.8,1025.5 1472.2,1033.7 1481,1034.4 1474.3,1040.1 1476.3,1048.7 1468.8,1044.1 1461.3,1048.7 1463.3,1040.1 1456.6,1034.4 1465.4,1033.7" fill="#00f"/><polygon points="1468.8,1032.9 1470.2,1036.4 1473.9,1036.7 1471.1,1039.1 1472,1042.7 1468.8,1040.8 1465.6,1042.7 1466.5,1039.1 1463.7,1036.7 1467.4,1036.4" fill="#fff"/><polygon points="1491.3,1014 1494.6,1022.1 1503.4,1022.8 1496.7,1028.5 1498.8,1037.1 1491.3,1032.5 1483.7,1037.1 1485.8,1028.5 1479.1,1022.8 1487.9,1022.1" fill="#00f"/><polygon points="1491.3,1021.4 1492.7,1024.8 1496.4,1025.1 1493.6,1027.5 1494.4,1031.1 1491.3,1029.2 1488.1,1031.1 1489,1027.5 1486.1,1025.1 1489.8,1024.8" fill="#fff"/><polygon points="1513.7,1002.3 1517.1,1010.5 1525.9,1011.2 1519.2,1016.9 1521.2,1025.5 1513.7,1020.9 1506.2,1025.5 1508.2,1016.9 1501.6,1011.2 1510.3,1010.5" fill="#00f"/><polygon points="1513.7,1009.7 1515.2,1013.2 1518.9,1013.5 1516,1015.9 1516.9,1019.5 1513.7,1017.6 1510.5,1019.5 1511.4,1015.9 1508.6,1013.5 1512.3,1013.2" fill="#fff"/><polygon points="1536.2,990.1 1539.6,998.3 1548.4,999 1541.7,1004.7 1543.7,1013.3 1536.2,1008.7 1528.7,1013.3 1530.7,1004.7 1524,999 1532.8,998.3" fill="#00f"/><polygon points="1536.2,997.5 1537.6,1001 1541.3,1001.3 1538.5,1003.7 1539.4,1007.3 1536.2,1005.4 1533,1007.3 1533.9,1003.7 1531.1,1001.3 1534.8,1001" fill="#fff"/><polygon points="1558.6,977.7 1562,985.9 1570.8,986.6 1564.1,992.3 1566.2,1000.9 1558.6,996.3 1551.1,1000.9 1553.2,992.3 1546.5,986.6 1555.3,985.9" fill="#00f"/><polygon points="1558.6,985.1 1560.1,988.6 1563.8,988.9 1561,991.3 1561.8,994.9 1558.6,993 1555.5,994.9 1556.3,991.3 1553.5,988.9 1557.2,988.6" fill="#fff"/><polygon points="1581.1,966.1 1584.5,974.2 1593.3,974.9 1586.6,980.7 1588.6,989.2 1581.1,984.6 1573.6,989.2 1575.6,980.7 1568.9,974.9 1577.7,974.2" fill="#00f"/><polygon points="1581.1,973.5 1582.5,976.9 1586.2,977.2 1583.4,979.6 1584.3,983.2 1581.1,981.3 1577.9,983.2 1578.8,979.6 1576,977.2 1579.7,976.9" fill="#fff"/><polygon points="1603.6,955 1607,963.2 1615.7,963.9 1609.1,969.6 1611.1,978.2 1603.6,973.6 1596,978.2 1598.1,969.6 1591.4,963.9 1600.2,963.2" fill="#00f"/><polygon points="1603.6,962.4 1605,965.9 1608.7,966.2 1605.9,968.6 1606.7,972.2 1603.6,970.3 1600.4,972.2 1601.3,968.6 1598.4,966.2 1602.1,965.9" fill="#fff"/><polygon points="1626,943.5 1629.4,951.7 1638.2,952.4 1631.5,958.1 1633.6,966.7 1626,962.1 1618.5,966.7 1620.6,958.1 1613.9,952.4 1622.6,951.7" fill="#00f"/><polygon points="1626,950.9 1627.5,954.4 1631.2,954.7 1628.3,957.1 1629.2,960.7 1626,958.8 1622.9,960.7 1623.7,957.1 1620.9,954.7 1624.6,954.4" fill="#fff"/><polygon points="1648.5,931.4 1651.9,939.5 1660.7,940.2 1654,945.9 1656,954.5 1648.5,949.9 1641,954.5 1643,945.9 1636.3,940.2 1645.1,939.5" fill="#00f"/><polygon points="1648.5,938.8 1649.9,942.2 1653.6,942.5 1650.8,944.9 1651.7,948.5 1648.5,946.6 1645.3,948.5 1646.2,944.9 1643.4,942.5 1647.1,942.2" fill="#fff"/><polygon points="1671,919.1 1674.3,927.3 1683.1,928 1676.4,933.7 1678.5,942.3 1671,937.7 1663.4,942.3 1665.5,933.7 1658.8,928 1667.6,927.3" fill="#00f"/><polygon points="1671,926.5 1672.4,930 1676.1,930.3 1673.3,932.7 1674.1,936.3 1671,934.4 1667.8,936.3 1668.6,932.7 1665.8,930.3 1669.5,930" fill="#fff"/><polygon points="1693.4,907.3 1696.8,915.4 1705.6,916.1 1698.9,921.8 1700.9,930.4 1693.4,925.8 1685.9,930.4 1687.9,921.8 1681.2,916.1 1690,915.4" fill="#00f"/><polygon points="1693.4,914.7 1694.8,918.1 1698.6,918.4 1695.7,920.8 1696.6,924.4 1693.4,922.5 1690.2,924.4 1691.1,920.8 1688.3,918.4 1692,918.1" fill="#fff"/><polygon points="1715.9,894.9 1719.3,903.1 1728.1,903.8 1721.4,909.5 1723.4,918.1 1715.9,913.5 1708.4,918.1 1710.4,909.5 1703.7,903.8 1712.5,903.1" fill="#00f"/><polygon points="1715.9,902.3 1717.3,905.8 1721,906.1 1718.2,908.5 1719.1,912.1 1715.9,910.2 1712.7,912.1 1713.6,908.5 1710.7,906.1 1714.5,905.8" fill="#fff"/><polygon points="1738.3,882.7 1741.7,890.8 1750.5,891.5 1743.8,897.2 1745.9,905.8 1738.3,901.2 1730.8,905.8 1732.9,897.2 1726.2,891.5 1735,890.8" fill="#00f"/><polygon points="1738.3,890.1 1739.8,893.5 1743.5,893.8 1740.7,896.2 1741.5,899.8 1738.3,897.9 1735.2,899.8 1736,896.2 1733.2,893.8 1736.9,893.5" fill="#fff"/><polygon points="1760.8,870.9 1764.2,879.1 1773,879.8 1766.3,885.5 1768.3,894.1 1760.8,889.5 1753.3,894.1 1755.3,885.5 1748.6,879.8 1757.4,879.1" fill="#00f"/><polygon points="1760.8,878.3 1762.2,881.8 1765.9,882.1 1763.1,884.5 1764,888.1 1760.8,886.1 1757.6,888.1 1758.5,884.5 1755.7,882.1 1759.4,881.8" fill="#fff"/><polygon points="1783.3,859.3 1786.7,867.4 1795.4,868.1 1788.7,873.9 1790.8,882.4 1783.3,877.8 1775.7,882.4 1777.8,873.9 1771.1,868.1 1779.9,867.4" fill="#00f"/><polygon points="1783.3,866.7 1784.7,870.1 1788.4,870.4 1785.6,872.8 1786.4,876.4 1783.3,874.5 1780.1,876.4 1781,872.8 1778.1,870.4 1781.8,870.1" fill="#fff"/><polygon points="1805.7,847.6 1809.1,855.7 1817.9,856.4 1811.2,862.2 1813.3,870.8 1805.7,866.2 1798.2,870.8 1800.3,862.2 1793.6,856.4 1802.3,855.7" fill="#00f"/><polygon points="1805.7,855 1807.2,858.4 1810.9,858.7 1808,861.2 1808.9,864.8 1805.7,862.8 1802.6,864.8 1803.4,861.2 1800.6,858.7 1804.3,858.4" fill="#fff"/><polygon points="1828.2,837 1831.6,845.1 1840.4,845.8 1833.7,851.6 1835.7,860.1 1828.2,855.5 1820.7,860.1 1822.7,851.6 1816,845.8 1824.8,845.1" fill="#00f"/><polygon points="1828.2,844.4 1829.6,847.8 1833.3,848.1 1830.5,850.5 1831.4,854.1 1828.2,852.2 1825,854.1 1825.9,850.5 1823.1,848.1 1826.8,847.8" fill="#fff"/><polygon points="1850.7,827.8 1854,836 1862.8,836.7 1856.1,842.4 1858.2,851 1850.7,846.4 1843.1,851 1845.2,842.4 1838.5,836.7 1847.3,836" fill="#00f"/><polygon points="1850.7,835.2 1852.1,838.7 1855.8,839 1853,841.4 1853.8,845 1850.7,843 1847.5,845 1848.3,841.4 1845.5,839 1849.2,838.7" fill="#fff"/><polygon points="1873.1,820.7 1876.5,828.9 1885.3,829.6 1878.6,835.3 1880.6,843.9 1873.1,839.3 1865.6,843.9 1867.6,835.3 1860.9,829.6 1869.7,828.9" fill="#00f"/><polygon points="1873.1,828.1 1874.5,831.6 1878.3,831.9 1875.4,834.3 1876.3,837.9 1873.1,836 1869.9,837.9 1870.8,834.3 1868,831.9 1871.7,831.6" fill="#fff"/><polygon points="1895.6,817 1899,825.1 1907.8,825.8 1901.1,831.5 1903.1,840.1 1895.6,835.5 1888.1,840.1 1890.1,831.5 1883.4,825.8 1892.2,825.1" fill="#00f"/><polygon points="1895.6,824.4 1897,827.8 1900.7,828.1 1897.9,830.5 1898.8,834.1 1895.6,832.2 1892.4,834.1 1893.3,830.5 1890.4,828.1 1894.1,827.8" fill="#fff"/><polygon points="1918,816.1 1921.4,824.3 1930.2,825 1923.5,830.7 1925.6,839.3 1918,834.7 1910.5,839.3 1912.6,830.7 1905.9,825 1914.7,824.3" fill="#00f"/><polygon points="1918,823.5 1919.5,827 1923.2,827.3 1920.4,829.7 1921.2,833.3 1918,831.4 1914.9,833.3 1915.7,829.7 1912.9,827.3 1916.6,827" fill="#fff"/><polygon points="1940.5,818.9 1943.9,827.1 1952.7,827.8 1946,833.5 1948,842.1 1940.5,837.5 1933,842.1 1935,833.5 1928.3,827.8 1937.1,827.1" fill="#00f"/><polygon points="1940.5,826.3 1941.9,829.8 1945.6,830.1 1942.8,832.5 1943.7,836.1 1940.5,834.2 1937.3,836.1 1938.2,832.5 1935.4,830.1 1939.1,829.8" fill="#fff"/><polygon points="1963,826.4 1966.3,834.5 1975.1,835.2 1968.4,840.9 1970.5,849.5 1963,844.9 1955.4,849.5 1957.5,840.9 1950.8,835.2 1959.6,834.5" fill="#00f"/><polygon points="1963,833.8 1964.4,837.2 1968.1,837.5 1965.3,839.9 1966.1,843.5 1963,841.6 1959.8,843.5 1960.7,839.9 1957.8,837.5 1961.5,837.2" fill="#fff"/><polygon points="1985.4,837.4 1988.8,845.5 1997.6,846.2 1990.9,851.9 1992.9,860.5 1985.4,855.9 1977.9,860.5 1979.9,851.9 1973.3,846.2 1982,845.5" fill="#00f"/><polygon points="1985.4,844.8 1986.9,848.2 1990.6,848.5 1987.7,850.9 1988.6,854.5 1985.4,852.6 1982.3,854.5 1983.1,850.9 1980.3,848.5 1984,848.2" fill="#fff"/><polygon points="2007.9,850.9 2011.3,859.1 2020.1,859.8 2013.4,865.5 2015.4,874.1 2007.9,869.5 2000.4,874.1 2002.4,865.5 1995.7,859.8 2004.5,859.1" fill="#00f"/><polygon points="2007.9,858.3 2009.3,861.8 2013,862.1 2010.2,864.5 2011.1,868.1 2007.9,866.2 2004.7,868.1 2005.6,864.5 2002.8,862.1 2006.5,861.8" fill="#fff"/><polygon points="2030.4,868.3 2033.7,876.4 2042.5,877.1 2035.8,882.9 2037.9,891.5 2030.4,886.9 2022.8,891.5 2024.9,882.9 2018.2,877.1 2027,876.4" fill="#00f"/><polygon points="2030.4,875.7 2031.8,879.1 2035.5,879.4 2032.7,881.9 2033.5,885.5 2030.4,883.5 2027.2,885.5 2028,881.9 2025.2,879.4 2028.9,879.1" fill="#fff"/><polygon points="2052.8,888.5 2056.2,896.6 2065,897.3 2058.3,903.1 2060.3,911.7 2052.8,907.1 2045.3,911.7 2047.3,903.1 2040.6,897.3 2049.4,896.6" fill="#00f"/><polygon points="2052.8,895.9 2054.2,899.3 2057.9,899.6 2055.1,902.1 2056,905.7 2052.8,903.7 2049.6,905.7 2050.5,902.1 2047.7,899.6 2051.4,899.3" fill="#fff"/><polygon points="2075.3,911.5 2078.7,919.7 2087.4,920.4 2080.8,926.1 2082.8,934.7 2075.3,930.1 2067.8,934.7 2069.8,926.1 2063.1,920.4 2071.9,919.7" fill="#00f"/><polygon points="2075.3,918.9 2076.7,922.4 2080.4,922.7 2077.6,925.1 2078.4,928.7 2075.3,926.8 2072.1,928.7 2073,925.1 2070.1,922.7 2073.8,922.4" fill="#fff"/><polygon points="2097.7,937.2 2101.1,945.4 2109.9,946.1 2103.2,951.8 2105.3,960.4 2097.7,955.8 2090.2,960.4 2092.3,951.8 2085.6,946.1 2094.4,945.4" fill="#00f"/><polygon points="2097.7,944.6 2099.2,948.1 2102.9,948.4 2100,950.8 2100.9,954.4 2097.7,952.5 2094.6,954.4 2095.4,950.8 2092.6,948.4 2096.3,948.1" fill="#fff"/><polygon points="2120.2,963.7 2123.6,971.9 2132.4,972.6 2125.7,978.3 2127.7,986.9 2120.2,982.3 2112.7,986.9 2114.7,978.3 2108,972.6 2116.8,971.9" fill="#00f"/><polygon points="2120.2,971.1 2121.6,974.6 2125.3,974.9 2122.5,977.3 2123.4,980.9 2120.2,979 2117,980.9 2117.9,977.3 2115.1,974.9 2118.8,974.6" fill="#fff"/><polygon points="2142.7,989.5 2146,997.6 2154.8,998.3 2148.1,1004.1 2150.2,1012.7 2142.7,1008.1 2135.1,1012.7 2137.2,1004.1 2130.5,998.3 2139.3,997.6" fill="#00f"/><polygon points="2142.7,996.9 2144.1,1000.3 2147.8,1000.6 2145,1003.1 2145.8,1006.7 2142.7,1004.7 2139.5,1006.7 2140.3,1003.1 2137.5,1000.6 2141.2,1000.3" fill="#fff"/><polygon points="2165.1,1013.6 2168.5,1021.7 2177.3,1022.4 2170.6,1028.2 2172.6,1036.8 2165.1,1032.2 2157.6,1036.8 2159.6,1028.2 2152.9,1022.4 2161.7,1021.7" fill="#00f"/><polygon points="2165.1,1021 2166.6,1024.4 2170.3,1024.7 2167.4,1027.2 2168.3,1030.8 2165.1,1028.8 2161.9,1030.8 2162.8,1027.2 2160,1024.7 2163.7,1024.4" fill="#fff"/><polygon points="2187.6,1036.4 2191,1044.5 2199.8,1045.2 2193.1,1051 2195.1,1059.6 2187.6,1055 2180.1,1059.6 2182.1,1051 2175.4,1045.2 2184.2,1044.5" fill="#00f"/><polygon points="2187.6,1043.8 2189,1047.2 2192.7,1047.5 2189.9,1050 2190.8,1053.6 2187.6,1051.6 2184.4,1053.6 2185.3,1050 2182.4,1047.5 2186.2,1047.2" fill="#fff"/><polygon points="2210,1047.9 2213.4,1056 2222.2,1056.7 2215.5,1062.5 2217.6,1071.1 2210,1066.5 2202.5,1071.1 2204.6,1062.5 2197.9,1056.7 2206.7,1056" fill="#00f"/><polygon points="2210,1055.3 2211.5,1058.7 2215.2,1059 2212.4,1061.5 2213.2,1065.1 2210,1063.1 2206.9,1065.1 2207.7,1061.5 2204.9,1059 2208.6,1058.7" fill="#fff"/><polygon points="2232.5,1060.2 2235.9,1068.3 2244.7,1069 2238,1074.8 2240,1083.4 2232.5,1078.8 2225,1083.4 2227,1074.8 2220.3,1069 2229.1,1068.3" fill="#00f"/><polygon points="2232.5,1067.6 2233.9,1071 2237.6,1071.3 2234.8,1073.8 2235.7,1077.4 2232.5,1075.4 2229.3,1077.4 2230.2,1073.8 2227.4,1071.3 2231.1,1071" fill="#fff"/></g>
</g>
<line x1="345.5" y1="70.5" x2="2234.5" y2="70.5" stroke="#000" stroke-width="2.7"/>
<line x1="2232.9" y1="69.2" x2="2232.9" y2="1599.6" stroke="#000" stroke-width="3.3"/>
<line x1="345.5" y1="66.9" x2="345.5" y2="1628.6" stroke="#000" stroke-width="7.2"/>
<line x1="317" y1="1599.6" x2="2236.2" y2="1599.6" stroke="#000" stroke-width="7"/>
<path d="M331 1399.6H342M331 1282.6H342M331 1199.7H342M331 1135.3H342M331 1082.7H342M331 1038.2H342M331 999.7H342M331 965.7H342M317 935.3H342M331 735.3H342M331 618.3H342M331 535.4H342M331 471H342M331 418.4H342M331 373.9H342M331 335.4H342M331 301.4H342M317 271H342M331 71H342" stroke="#000" stroke-width="7" fill="none"/>
<path d="M615.2 1599.6V1628.6M884.8 1599.6V1628.6M1154.4 1599.6V1628.6M1423.9 1599.6V1628.6M1693.5 1599.6V1628.6M1963 1599.6V1628.6M2232.6 1599.6V1628.6" stroke="#000" stroke-width="7.2" fill="none"/>
<path d="M426.8 1599.6V1615.1M474.3 1599.6V1615.1M508 1599.6V1615.1M534.1 1599.6V1615.1M555.5 1599.6V1615.1M573.5 1599.6V1615.1M589.1 1599.6V1615.1M602.9 1599.6V1615.1M696.4 1599.6V1615.1M743.9 1599.6V1615.1M777.5 1599.6V1615.1M803.7 1599.6V1615.1M825 1599.6V1615.1M843 1599.6V1615.1M858.7 1599.6V1615.1M872.5 1599.6V1615.1M965.9 1599.6V1615.1M1013.4 1599.6V1615.1M1047.1 1599.6V1615.1M1073.2 1599.6V1615.1M1094.6 1599.6V1615.1M1112.6 1599.6V1615.1M1128.2 1599.6V1615.1M1142 1599.6V1615.1M1235.5 1599.6V1615.1M1283 1599.6V1615.1M1316.6 1599.6V1615.1M1342.8 1599.6V1615.1M1364.1 1599.6V1615.1M1382.1 1599.6V1615.1M1397.8 1599.6V1615.1M1411.6 1599.6V1615.1M1505 1599.6V1615.1M1552.5 1599.6V1615.1M1586.2 1599.6V1615.1M1612.3 1599.6V1615.1M1633.7 1599.6V1615.1M1651.7 1599.6V1615.1M1667.3 1599.6V1615.1M1681.1 1599.6V1615.1M1774.6 1599.6V1615.1M1822.1 1599.6V1615.1M1855.7 1599.6V1615.1M1881.9 1599.6V1615.1M1903.2 1599.6V1615.1M1921.2 1599.6V1615.1M1936.9 1599.6V1615.1M1950.7 1599.6V1615.1M2044.1 1599.6V1615.1M2091.6 1599.6V1615.1M2125.3 1599.6V1615.1M2151.4 1599.6V1615.1M2172.8 1599.6V1615.1M2190.8 1599.6V1615.1M2206.4 1599.6V1615.1M2220.2 1599.6V1615.1" stroke="#000" stroke-width="6.4" fill="none"/>
<text x="275.3" y="1735.5" font-family='"Liberation Serif", "DejaVu Serif", serif' font-weight="bold" font-size="92">10</text>
<text x="364.3" y="1694.5" font-family='"Liberation Serif", "DejaVu Serif", serif' font-weight="bold" font-size="63">-1</text>
<text x="555.4" y="1735.5" font-family='"Liberation Serif", "DejaVu Serif", serif' font-weight="bold" font-size="92">10</text>
<text x="644.4" y="1694.5" font-family='"Liberation Serif", "DejaVu Serif", serif' font-weight="bold" font-size="63">0</text>
<text x="824.9" y="1735.5" font-family='"Liberation Serif", "DejaVu Serif", serif' font-weight="bold" font-size="92">10</text>
<text x="913.9" y="1694.5" font-family='"Liberation Serif", "DejaVu Serif", serif' font-weight="bold" font-size="63">1</text>
<text x="1094.5" y="1735.5" font-family='"Liberation Serif", "DejaVu Serif", serif' font-weight="bold" font-size="92">10</text>
<text x="1183.5" y="1694.5" font-family='"Liberation Serif", "DejaVu Serif", serif' font-weight="bold" font-size="63">2</text>
<text x="1364.1" y="1735.5" font-family='"Liberation Serif", "DejaVu Serif", serif' font-weight="bold" font-size="92">10</text>
<text x="1453.1" y="1694.5" font-family='"Liberation Serif", "DejaVu Serif", serif' font-weight="bold" font-size="63">3</text>
<text x="1633.6" y="1735.5" font-family='"Liberation Serif", "DejaVu Serif", serif' font-weight="bold" font-size="92">10</text>
<text x="1722.6" y="1694.5" font-family='"Liberation Serif", "DejaVu Serif", serif' font-weight="bold" font-size="63">4</text>
<text x="1903.2" y="1735.5" font-family='"Liberation Serif", "DejaVu Serif", serif' font-weight="bold" font-size="92">10</text>
<text x="1992.2" y="1694.5" font-family='"Liberation Serif", "DejaVu Serif", serif' font-weight="bold" font-size="63">5</text>
<text x="2172.7" y="1735.5" font-family='"Liberation Serif", "DejaVu Serif", serif' font-weight="bold" font-size="92">10</text>
<text x="2261.7" y="1694.5" font-family='"Liberation Serif", "DejaVu Serif", serif' font-weight="bold" font-size="63">6</text>
<text x="249" y="307.4" text-anchor="end" font-family='"Liberation Serif", "DejaVu Serif", serif' font-weight="bold" font-size="92">10</text>
<text x="246.6" y="266.4" font-family='"Liberation Serif", "DejaVu Serif", serif' font-weight="bold" font-size="63">-1</text>
<text x="249" y="971.7" text-anchor="end" font-family='"Liberation Serif", "DejaVu Serif", serif' font-weight="bold" font-size="92">10</text>
<text x="246.6" y="930.7" font-family='"Liberation Serif", "DejaVu Serif", serif' font-weight="bold" font-size="63">-2</text>
<text x="249" y="1636" text-anchor="end" font-family='"Liberation Serif", "DejaVu Serif", serif' font-weight="bold" font-size="92">10</text>
<text x="246.6" y="1595" font-family='"Liberation Serif", "DejaVu Serif", serif' font-weight="bold" font-size="63">-3</text>
<line x1="1808.7" y1="142.5" x2="1965" y2="142.5" stroke="#000" stroke-width="6" stroke-linecap="round"/>
<circle cx="1886.8" cy="142.5" r="9.8" fill="#000"/>
<text transform="translate(1981.5 168.1) scale(0.975 1.02)" font-family='"Liberation Serif", "DejaVu Serif", serif' font-weight="bold" font-size="73.3">303 K</text>
<line x1="1808.7" y1="230.1" x2="1965" y2="230.1" stroke="#000" stroke-width="3.4" stroke-linecap="round"/>
<circle cx="1886.8" cy="230.1" r="8.5" fill="#fff" stroke="#000" stroke-width="2.7"/>
<text transform="translate(1981.5 255.7) scale(0.975 1.02)" font-family='"Liberation Serif", "DejaVu Serif", serif' font-weight="bold" font-size="73.3">313 K</text>
<line x1="1808.7" y1="317.8" x2="1965" y2="317.8" stroke="#f00" stroke-width="5.5" stroke-linecap="round"/>
<rect x="1877.5" y="308.5" width="18.6" height="18.6" fill="#f00"/>
<text transform="translate(1981.5 343.4) scale(0.975 1.02)" font-family='"Liberation Serif", "DejaVu Serif", serif' font-weight="bold" font-size="73.3">323 K</text>
<line x1="1808.7" y1="405.4" x2="1965" y2="405.4" stroke="#f00" stroke-width="6.5" stroke-linecap="round"/>
<rect x="1878.9" y="397.5" width="15.8" height="15.8" fill="#fff" stroke="#f00" stroke-width="2.7"/>
<text transform="translate(1981.5 431) scale(0.975 1.02)" font-family='"Liberation Serif", "DejaVu Serif", serif' font-weight="bold" font-size="73.3">333 K</text>
<line x1="1808.7" y1="493" x2="1965" y2="493" stroke="#0f0" stroke-width="5.2" stroke-linecap="round"/>
<polygon points="1886.8,482.4 1898.9,503.6 1874.8,503.6" fill="#0f0"/>
<text transform="translate(1981.5 518.6) scale(0.975 1.02)" font-family='"Liberation Serif", "DejaVu Serif", serif' font-weight="bold" font-size="73.3">343 K</text>
<line x1="1808.7" y1="580.6" x2="1965" y2="580.6" stroke="#0f0" stroke-width="5.2" stroke-linecap="round"/>
<polygon points="1886.8,573 1896.2,590.5 1877.4,590.5" fill="#fff" stroke="#0f0" stroke-width="2.6" stroke-linejoin="miter"/>
<text transform="translate(1981.5 606.2) scale(0.975 1.02)" font-family='"Liberation Serif", "DejaVu Serif", serif' font-weight="bold" font-size="73.3">353 K</text>
<line x1="1808.7" y1="668.3" x2="1965" y2="668.3" stroke="#00f" stroke-width="6" stroke-linecap="round"/>
<polygon points="1886.8,655.8 1890.3,664.2 1899.4,664.9 1892.5,670.8 1894.6,679.7 1886.8,674.9 1879.1,679.7 1881.2,670.8 1874.3,664.9 1883.4,664.2" fill="#00f"/>
<text transform="translate(1981.5 693.9) scale(0.975 1.02)" font-family='"Liberation Serif", "DejaVu Serif", serif' font-weight="bold" font-size="73.3">363 K</text>
<line x1="1808.7" y1="755.9" x2="1965" y2="755.9" stroke="#00f" stroke-width="5" stroke-linecap="round"/>
<polygon points="1886.8,743.8 1890.2,752 1899,752.7 1892.3,758.4 1894.4,767 1886.8,762.4 1879.3,767 1881.4,758.4 1874.7,752.7 1883.5,752" fill="#00f"/><polygon points="1886.8,751.2 1888.3,754.6 1892,754.9 1889.2,757.4 1890,761 1886.8,759 1883.7,761 1884.5,757.4 1881.7,754.9 1885.4,754.6" fill="#fff"/>
<text transform="translate(1981.5 781.5) scale(0.975 1.02)" font-family='"Liberation Serif", "DejaVu Serif", serif' font-weight="bold" font-size="73.3">373 K</text>
<text x="428.2" y="203.3" font-family='"Liberation Sans", "DejaVu Sans", sans-serif' font-weight="bold" font-size="97">(c)</text>
<text x="752" y="211.2" font-family='"Liberation Sans", "DejaVu Sans", sans-serif' font-weight="bold" font-size="90" textLength="803.3" lengthAdjust="spacingAndGlyphs">PMMA-perylene-PA</text>
<text transform="translate(117.5 824.3) rotate(-90)" text-anchor="middle" font-family='"Liberation Serif", "DejaVu Serif", serif' font-size="117.2">tanδ</text>
<text y="1829.2" font-family='"Liberation Serif", "DejaVu Serif", serif' font-weight="bold" font-size="88" xml:space="preserve"><tspan x="1163" font-style="italic">f</tspan><tspan x="1199.8"> (Hz)</tspan></text>
</g>
<g id="plot-d">
<clipPath id="clipd"><rect x="349" y="2170" width="1885.2" height="1558"/></clipPath>
<g clip-path="url(#clipd)">
<polyline points="345.7,3241 368.2,3241.5 390.6,3242.3 413.1,3243.4 435.5,3243.9 458,3243.7 480.5,3242 502.9,3238.8 525.4,3234.1 547.9,3227.2 570.3,3219 592.8,3210.1 615.2,3200.9 637.7,3191.3 660.2,3180.6 682.6,3169.3 705.1,3158.7 727.6,3148.1 750,3137.4 772.5,3126.3 794.9,3116.2 817.4,3106.8 839.9,3097.1 862.3,3087.4 884.8,3078.1 907.2,3069.3 929.7,3061.5 952.2,3053.8 974.6,3046.1 997.1,3038.5 1019.6,3030.8 1040.4,3023.3 1068.7,3016.4 1086.9,3009.8 1109.4,3003.8 1131.9,2998.3 1154.3,2993.5 1176.8,2989.4 1199.3,2986.5 1221.7,2984 1244.2,2982.2 1266.6,2981.1 1289.1,2980.6 1311.6,2980.5 1334,2980.7 1356.5,2981.5 1379,2983.2 1401.4,2985.9 1423.9,2988.8 1446.3,2990.9 1468.8,2992.8 1491.3,2995 1513.7,2998.2 1536.2,3003.2 1558.6,3009.7 1581.1,3018 1603.6,3027.9 1626,3039.1 1648.5,3052 1671,3066.7 1693.4,3082.1 1715.9,3097.8 1738.3,3114.4 1760.8,3131.5 1783.3,3149.6 1805.7,3167.4 1828.2,3185.4 1850.7,3204.8 1873.1,3225.4 1895.6,3246.5 1918,3269.3 1940.5,3294.4 1963,3319.6 1985.4,3344.8 2007.9,3369.5 2030.4,3394 2052.8,3417.8 2075.3,3439.6 2097.7,3460.3 2120.2,3479.4 2142.7,3496.5 2165.1,3510.4 2187.6,3522.3 2210,3529.6 2232.5,3535.4" fill="none" stroke="#000" stroke-width="4.8" stroke-linejoin="round"/>
<g><circle cx="345.7" cy="3241" r="10.4" fill="#000"/><circle cx="368.2" cy="3241.5" r="10.4" fill="#000"/><circle cx="390.6" cy="3242.3" r="10.4" fill="#000"/><circle cx="413.1" cy="3243.4" r="10.4" fill="#000"/><circle cx="435.5" cy="3243.9" r="10.4" fill="#000"/><circle cx="458" cy="3243.7" r="10.4" fill="#000"/><circle cx="480.5" cy="3242" r="10.4" fill="#000"/><circle cx="502.9" cy="3238.8" r="10.4" fill="#000"/><circle cx="525.4" cy="3234.1" r="10.4" fill="#000"/><circle cx="547.9" cy="3227.2" r="10.4" fill="#000"/><circle cx="570.3" cy="3219" r="10.4" fill="#000"/><circle cx="592.8" cy="3210.1" r="10.4" fill="#000"/><circle cx="615.2" cy="3200.9" r="10.4" fill="#000"/><circle cx="637.7" cy="3191.3" r="10.4" fill="#000"/><circle cx="660.2" cy="3180.6" r="10.4" fill="#000"/><circle cx="682.6" cy="3169.3" r="10.4" fill="#000"/><circle cx="705.1" cy="3158.7" r="10.4" fill="#000"/><circle cx="727.6" cy="3148.1" r="10.4" fill="#000"/><circle cx="750" cy="3137.4" r="10.4" fill="#000"/><circle cx="772.5" cy="3126.3" r="10.4" fill="#000"/><circle cx="794.9" cy="3116.2" r="10.4" fill="#000"/><circle cx="817.4" cy="3106.8" r="10.4" fill="#000"/><circle cx="839.9" cy="3097.1" r="10.4" fill="#000"/><circle cx="862.3" cy="3087.4" r="10.4" fill="#000"/><circle cx="884.8" cy="3078.1" r="10.4" fill="#000"/><circle cx="907.2" cy="3069.3" r="10.4" fill="#000"/><circle cx="929.7" cy="3061.5" r="10.4" fill="#000"/><circle cx="952.2" cy="3053.8" r="10.4" fill="#000"/><circle cx="974.6" cy="3046.1" r="10.4" fill="#000"/><circle cx="997.1" cy="3038.5" r="10.4" fill="#000"/><circle cx="1019.6" cy="3030.8" r="10.4" fill="#000"/><circle cx="1040.4" cy="3023.3" r="10.4" fill="#000"/><circle cx="1068.7" cy="3016.4" r="10.4" fill="#000"/><circle cx="1086.9" cy="3009.8" r="10.4" fill="#000"/><circle cx="1109.4" cy="3003.8" r="10.4" fill="#000"/><circle cx="1131.9" cy="2998.3" r="10.4" fill="#000"/><circle cx="1154.3" cy="2993.5" r="10.4" fill="#000"/><circle cx="1176.8" cy="2989.4" r="10.4" fill="#000"/><circle cx="1199.3" cy="2986.5" r="10.4" fill="#000"/><circle cx="1221.7" cy="2984" r="10.4" fill="#000"/><circle cx="1244.2" cy="2982.2" r="10.4" fill="#000"/><circle cx="1266.6" cy="2981.1" r="10.4" fill="#000"/><circle cx="1289.1" cy="2980.6" r="10.4" fill="#000"/><circle cx="1311.6" cy="2980.5" r="10.4" fill="#000"/><circle cx="1334" cy="2980.7" r="10.4" fill="#000"/><circle cx="1356.5" cy="2981.5" r="10.4" fill="#000"/><circle cx="1379" cy="2983.2" r="10.4" fill="#000"/><circle cx="1401.4" cy="2985.9" r="10.4" fill="#000"/><circle cx="1423.9" cy="2988.8" r="10.4" fill="#000"/><circle cx="1446.3" cy="2990.9" r="10.4" fill="#000"/><circle cx="1468.8" cy="2992.8" r="10.4" fill="#000"/><circle cx="1491.3" cy="2995" r="10.4" fill="#000"/><circle cx="1513.7" cy="2998.2" r="10.4" fill="#000"/><circle cx="1536.2" cy="3003.2" r="10.4" fill="#000"/><circle cx="1558.6" cy="3009.7" r="10.4" fill="#000"/><circle cx="1581.1" cy="3018" r="10.4" fill="#000"/><circle cx="1603.6" cy="3027.9" r="10.4" fill="#000"/><circle cx="1626" cy="3039.1" r="10.4" fill="#000"/><circle cx="1648.5" cy="3052" r="10.4" fill="#000"/><circle cx="1671" cy="3066.7" r="10.4" fill="#000"/><circle cx="1693.4" cy="3082.1" r="10.4" fill="#000"/><circle cx="1715.9" cy="3097.8" r="10.4" fill="#000"/><circle cx="1738.3" cy="3114.4" r="10.4" fill="#000"/><circle cx="1760.8" cy="3131.5" r="10.4" fill="#000"/><circle cx="1783.3" cy="3149.6" r="10.4" fill="#000"/><circle cx="1805.7" cy="3167.4" r="10.4" fill="#000"/><circle cx="1828.2" cy="3185.4" r="10.4" fill="#000"/><circle cx="1850.7" cy="3204.8" r="10.4" fill="#000"/><circle cx="1873.1" cy="3225.4" r="10.4" fill="#000"/><circle cx="1895.6" cy="3246.5" r="10.4" fill="#000"/><circle cx="1918" cy="3269.3" r="10.4" fill="#000"/><circle cx="1940.5" cy="3294.4" r="10.4" fill="#000"/><circle cx="1963" cy="3319.6" r="10.4" fill="#000"/><circle cx="1985.4" cy="3344.8" r="10.4" fill="#000"/><circle cx="2007.9" cy="3369.5" r="10.4" fill="#000"/><circle cx="2030.4" cy="3394" r="10.4" fill="#000"/><circle cx="2052.8" cy="3417.8" r="10.4" fill="#000"/><circle cx="2075.3" cy="3439.6" r="10.4" fill="#000"/><circle cx="2097.7" cy="3460.3" r="10.4" fill="#000"/><circle cx="2120.2" cy="3479.4" r="10.4" fill="#000"/><circle cx="2142.7" cy="3496.5" r="10.4" fill="#000"/><circle cx="2165.1" cy="3510.4" r="10.4" fill="#000"/><circle cx="2187.6" cy="3522.3" r="10.4" fill="#000"/><circle cx="2210" cy="3529.6" r="10.4" fill="#000"/><circle cx="2232.5" cy="3535.4" r="10.4" fill="#000"/></g>
<polyline points="345.7,3200 368.2,3203 390.6,3207 413.1,3212.6 435.5,3217.8 458,3222.1 480.5,3225.5 502.9,3227.4 525.4,3227.9 547.9,3227.9 570.3,3227.2 592.8,3224.5 615.2,3219.7 637.7,3213.1 660.2,3204.8 682.6,3195.2 705.1,3184.7 727.6,3173.9 750,3163.5 772.5,3153 794.9,3142.4 817.4,3131.9 839.9,3121.3 862.3,3110.9 884.8,3099.9 907.2,3091.2 929.7,3083.6 952.2,3075.8 974.6,3067.9 997.1,3059.8 1019.6,3051.9 1040.4,3044.1 1068.7,3036.7 1086.9,3029.9 1109.4,3023.1 1131.9,3016.4 1154.3,3009.7 1176.8,3003.1 1199.3,2997.1 1221.7,2991.6 1244.2,2986.6 1266.6,2982.1 1289.1,2978 1311.6,2974.2 1334,2971.2 1356.5,2969.3 1379,2968.6 1401.4,2968.7 1423.9,2969.6 1446.3,2971.1 1468.8,2973.2 1491.3,2976.2 1513.7,2980.2 1536.2,2984.7 1558.6,2988.7 1581.1,2993.4 1603.6,3000.2 1626,3007.6 1648.5,3016 1671,3025.6 1693.4,3036.2 1715.9,3047.7 1738.3,3059.5 1760.8,3072.5 1783.3,3086.6 1805.7,3101.7 1828.2,3118.4 1850.7,3136.7 1873.1,3156.3 1895.6,3177.1 1918,3198.7 1940.5,3220.9 1963,3243.7 1985.4,3267.1 2007.9,3291 2030.4,3315.2 2052.8,3338.6 2075.3,3361.2 2097.7,3382.7 2120.2,3405.1 2142.7,3425.8 2165.1,3444.5 2187.6,3460.4 2210,3468.5 2232.5,3476" fill="none" stroke="#000" stroke-width="4.8" stroke-linejoin="round"/>
<g><circle cx="345.7" cy="3200" r="9" fill="#fff" stroke="#000" stroke-width="2.7"/><circle cx="368.2" cy="3203" r="9" fill="#fff" stroke="#000" stroke-width="2.7"/><circle cx="390.6" cy="3207" r="9" fill="#fff" stroke="#000" stroke-width="2.7"/><circle cx="413.1" cy="3212.6" r="9" fill="#fff" stroke="#000" stroke-width="2.7"/><circle cx="435.5" cy="3217.8" r="9" fill="#fff" stroke="#000" stroke-width="2.7"/><circle cx="458" cy="3222.1" r="9" fill="#fff" stroke="#000" stroke-width="2.7"/><circle cx="480.5" cy="3225.5" r="9" fill="#fff" stroke="#000" stroke-width="2.7"/><circle cx="502.9" cy="3227.4" r="9" fill="#fff" stroke="#000" stroke-width="2.7"/><circle cx="525.4" cy="3227.9" r="9" fill="#fff" stroke="#000" stroke-width="2.7"/><circle cx="547.9" cy="3227.9" r="9" fill="#fff" stroke="#000" stroke-width="2.7"/><circle cx="570.3" cy="3227.2" r="9" fill="#fff" stroke="#000" stroke-width="2.7"/><circle cx="592.8" cy="3224.5" r="9" fill="#fff" stroke="#000" stroke-width="2.7"/><circle cx="615.2" cy="3219.7" r="9" fill="#fff" stroke="#000" stroke-width="2.7"/><circle cx="637.7" cy="3213.1" r="9" fill="#fff" stroke="#000" stroke-width="2.7"/><circle cx="660.2" cy="3204.8" r="9" fill="#fff" stroke="#000" stroke-width="2.7"/><circle cx="682.6" cy="3195.2" r="9" fill="#fff" stroke="#000" stroke-width="2.7"/><circle cx="705.1" cy="3184.7" r="9" fill="#fff" stroke="#000" stroke-width="2.7"/><circle cx="727.6" cy="3173.9" r="9" fill="#fff" stroke="#000" stroke-width="2.7"/><circle cx="750" cy="3163.5" r="9" fill="#fff" stroke="#000" stroke-width="2.7"/><circle cx="772.5" cy="3153" r="9" fill="#fff" stroke="#000" stroke-width="2.7"/><circle cx="794.9" cy="3142.4" r="9" fill="#fff" stroke="#000" stroke-width="2.7"/><circle cx="817.4" cy="3131.9" r="9" fill="#fff" stroke="#000" stroke-width="2.7"/><circle cx="839.9" cy="3121.3" r="9" fill="#fff" stroke="#000" stroke-width="2.7"/><circle cx="862.3" cy="3110.9" r="9" fill="#fff" stroke="#000" stroke-width="2.7"/><circle cx="884.8" cy="3099.9" r="9" fill="#fff" stroke="#000" stroke-width="2.7"/><circle cx="907.2" cy="3091.2" r="9" fill="#fff" stroke="#000" stroke-width="2.7"/><circle cx="929.7" cy="3083.6" r="9" fill="#fff" stroke="#000" stroke-width="2.7"/><circle cx="952.2" cy="3075.8" r="9" fill="#fff" stroke="#000" stroke-width="2.7"/><circle cx="974.6" cy="3067.9" r="9" fill="#fff" stroke="#000" stroke-width="2.7"/><circle cx="997.1" cy="3059.8" r="9" fill="#fff" stroke="#000" stroke-width="2.7"/><circle cx="1019.6" cy="3051.9" r="9" fill="#fff" stroke="#000" stroke-width="2.7"/><circle cx="1040.4" cy="3044.1" r="9" fill="#fff" stroke="#000" stroke-width="2.7"/><circle cx="1068.7" cy="3036.7" r="9" fill="#fff" stroke="#000" stroke-width="2.7"/><circle cx="1086.9" cy="3029.9" r="9" fill="#fff" stroke="#000" stroke-width="2.7"/><circle cx="1109.4" cy="3023.1" r="9" fill="#fff" stroke="#000" stroke-width="2.7"/><circle cx="1131.9" cy="3016.4" r="9" fill="#fff" stroke="#000" stroke-width="2.7"/><circle cx="1154.3" cy="3009.7" r="9" fill="#fff" stroke="#000" stroke-width="2.7"/><circle cx="1176.8" cy="3003.1" r="9" fill="#fff" stroke="#000" stroke-width="2.7"/><circle cx="1199.3" cy="2997.1" r="9" fill="#fff" stroke="#000" stroke-width="2.7"/><circle cx="1221.7" cy="2991.6" r="9" fill="#fff" stroke="#000" stroke-width="2.7"/><circle cx="1244.2" cy="2986.6" r="9" fill="#fff" stroke="#000" stroke-width="2.7"/><circle cx="1266.6" cy="2982.1" r="9" fill="#fff" stroke="#000" stroke-width="2.7"/><circle cx="1289.1" cy="2978" r="9" fill="#fff" stroke="#000" stroke-width="2.7"/><circle cx="1311.6" cy="2974.2" r="9" fill="#fff" stroke="#000" stroke-width="2.7"/><circle cx="1334" cy="2971.2" r="9" fill="#fff" stroke="#000" stroke-width="2.7"/><circle cx="1356.5" cy="2969.3" r="9" fill="#fff" stroke="#000" stroke-width="2.7"/><circle cx="1379" cy="2968.6" r="9" fill="#fff" stroke="#000" stroke-width="2.7"/><circle cx="1401.4" cy="2968.7" r="9" fill="#fff" stroke="#000" stroke-width="2.7"/><circle cx="1423.9" cy="2969.6" r="9" fill="#fff" stroke="#000" stroke-width="2.7"/><circle cx="1446.3" cy="2971.1" r="9" fill="#fff" stroke="#000" stroke-width="2.7"/><circle cx="1468.8" cy="2973.2" r="9" fill="#fff" stroke="#000" stroke-width="2.7"/><circle cx="1491.3" cy="2976.2" r="9" fill="#fff" stroke="#000" stroke-width="2.7"/><circle cx="1513.7" cy="2980.2" r="9" fill="#fff" stroke="#000" stroke-width="2.7"/><circle cx="1536.2" cy="2984.7" r="9" fill="#fff" stroke="#000" stroke-width="2.7"/><circle cx="1558.6" cy="2988.7" r="9" fill="#fff" stroke="#000" stroke-width="2.7"/><circle cx="1581.1" cy="2993.4" r="9" fill="#fff" stroke="#000" stroke-width="2.7"/><circle cx="1603.6" cy="3000.2" r="9" fill="#fff" stroke="#000" stroke-width="2.7"/><circle cx="1626" cy="3007.6" r="9" fill="#fff" stroke="#000" stroke-width="2.7"/><circle cx="1648.5" cy="3016" r="9" fill="#fff" stroke="#000" stroke-width="2.7"/><circle cx="1671" cy="3025.6" r="9" fill="#fff" stroke="#000" stroke-width="2.7"/><circle cx="1693.4" cy="3036.2" r="9" fill="#fff" stroke="#000" stroke-width="2.7"/><circle cx="1715.9" cy="3047.7" r="9" fill="#fff" stroke="#000" stroke-width="2.7"/><circle cx="1738.3" cy="3059.5" r="9" fill="#fff" stroke="#000" stroke-width="2.7"/><circle cx="1760.8" cy="3072.5" r="9" fill="#fff" stroke="#000" stroke-width="2.7"/><circle cx="1783.3" cy="3086.6" r="9" fill="#fff" stroke="#000" stroke-width="2.7"/><circle cx="1805.7" cy="3101.7" r="9" fill="#fff" stroke="#000" stroke-width="2.7"/><circle cx="1828.2" cy="3118.4" r="9" fill="#fff" stroke="#000" stroke-width="2.7"/><circle cx="1850.7" cy="3136.7" r="9" fill="#fff" stroke="#000" stroke-width="2.7"/><circle cx="1873.1" cy="3156.3" r="9" fill="#fff" stroke="#000" stroke-width="2.7"/><circle cx="1895.6" cy="3177.1" r="9" fill="#fff" stroke="#000" stroke-width="2.7"/><circle cx="1918" cy="3198.7" r="9" fill="#fff" stroke="#000" stroke-width="2.7"/><circle cx="1940.5" cy="3220.9" r="9" fill="#fff" stroke="#000" stroke-width="2.7"/><circle cx="1963" cy="3243.7" r="9" fill="#fff" stroke="#000" stroke-width="2.7"/><circle cx="1985.4" cy="3267.1" r="9" fill="#fff" stroke="#000" stroke-width="2.7"/><circle cx="2007.9" cy="3291" r="9" fill="#fff" stroke="#000" stroke-width="2.7"/><circle cx="2030.4" cy="3315.2" r="9" fill="#fff" stroke="#000" stroke-width="2.7"/><circle cx="2052.8" cy="3338.6" r="9" fill="#fff" stroke="#000" stroke-width="2.7"/><circle cx="2075.3" cy="3361.2" r="9" fill="#fff" stroke="#000" stroke-width="2.7"/><circle cx="2097.7" cy="3382.7" r="9" fill="#fff" stroke="#000" stroke-width="2.7"/><circle cx="2120.2" cy="3405.1" r="9" fill="#fff" stroke="#000" stroke-width="2.7"/><circle cx="2142.7" cy="3425.8" r="9" fill="#fff" stroke="#000" stroke-width="2.7"/><circle cx="2165.1" cy="3444.5" r="9" fill="#fff" stroke="#000" stroke-width="2.7"/><circle cx="2187.6" cy="3460.4" r="9" fill="#fff" stroke="#000" stroke-width="2.7"/><circle cx="2210" cy="3468.5" r="9" fill="#fff" stroke="#000" stroke-width="2.7"/><circle cx="2232.5" cy="3476" r="9" fill="#fff" stroke="#000" stroke-width="2.7"/></g>
<polyline points="345.7,3111.5 368.2,3116.5 390.6,3122 413.1,3133.6 435.5,3145.1 458,3156 480.5,3167.1 502.9,3177.8 525.4,3187.3 547.9,3195.2 570.3,3201.2 592.8,3204.5 615.2,3206.1 637.7,3206.4 660.2,3205.5 682.6,3203.4 705.1,3199.6 727.6,3193.9 750,3187.6 772.5,3180.6 794.9,3172.5 817.4,3163.2 839.9,3153.2 862.3,3143.7 884.8,3134.5 907.2,3125.2 929.7,3116.4 952.2,3107.5 974.6,3098 997.1,3088.5 1019.6,3078.8 1040.4,3069.5 1068.7,3061.5 1086.9,3054 1109.4,3047.1 1131.9,3039.8 1154.3,3032.7 1176.8,3025.8 1199.3,3019.1 1221.7,3012.7 1244.2,3006.4 1266.6,3000 1289.1,2993.6 1311.6,2987.7 1334,2982.1 1356.5,2977.1 1379,2972.5 1401.4,2968.5 1423.9,2965.1 1446.3,2963.3 1468.8,2963.2 1491.3,2964 1513.7,2965.8 1536.2,2968.1 1558.6,2971.5 1581.1,2975.5 1603.6,2980.8 1626,2988.2 1648.5,2994.6 1671,3000.9 1693.4,3008.7 1715.9,3017.8 1738.3,3027.7 1760.8,3038.6 1783.3,3050.1 1805.7,3063.1 1828.2,3077.1 1850.7,3092 1873.1,3108.4 1895.6,3126.4 1918,3145.2 1940.5,3164.6 1963,3184.6 1985.4,3204.2 2007.9,3225.2 2030.4,3246.5 2052.8,3268.1 2075.3,3290.7 2097.7,3313.7 2120.2,3336.4 2142.7,3357.6 2165.1,3376.9 2187.6,3394 2210,3404 2232.5,3413.5" fill="none" stroke="#f00" stroke-width="4.8" stroke-linejoin="round"/>
<g><rect x="336.4" y="3102.2" width="18.6" height="18.6" fill="#f00"/><rect x="358.9" y="3107.2" width="18.6" height="18.6" fill="#f00"/><rect x="381.3" y="3112.7" width="18.6" height="18.6" fill="#f00"/><rect x="403.8" y="3124.3" width="18.6" height="18.6" fill="#f00"/><rect x="426.2" y="3135.8" width="18.6" height="18.6" fill="#f00"/><rect x="448.7" y="3146.7" width="18.6" height="18.6" fill="#f00"/><rect x="471.2" y="3157.8" width="18.6" height="18.6" fill="#f00"/><rect x="493.6" y="3168.5" width="18.6" height="18.6" fill="#f00"/><rect x="516.1" y="3178" width="18.6" height="18.6" fill="#f00"/><rect x="538.6" y="3185.9" width="18.6" height="18.6" fill="#f00"/><rect x="561" y="3191.9" width="18.6" height="18.6" fill="#f00"/><rect x="583.5" y="3195.2" width="18.6" height="18.6" fill="#f00"/><rect x="605.9" y="3196.8" width="18.6" height="18.6" fill="#f00"/><rect x="628.4" y="3197.1" width="18.6" height="18.6" fill="#f00"/><rect x="650.9" y="3196.2" width="18.6" height="18.6" fill="#f00"/><rect x="673.3" y="3194.1" width="18.6" height="18.6" fill="#f00"/><rect x="695.8" y="3190.3" width="18.6" height="18.6" fill="#f00"/><rect x="718.3" y="3184.6" width="18.6" height="18.6" fill="#f00"/><rect x="740.7" y="3178.3" width="18.6" height="18.6" fill="#f00"/><rect x="763.2" y="3171.3" width="18.6" height="18.6" fill="#f00"/><rect x="785.6" y="3163.2" width="18.6" height="18.6" fill="#f00"/><rect x="808.1" y="3153.9" width="18.6" height="18.6" fill="#f00"/><rect x="830.6" y="3143.9" width="18.6" height="18.6" fill="#f00"/><rect x="853" y="3134.4" width="18.6" height="18.6" fill="#f00"/><rect x="875.5" y="3125.2" width="18.6" height="18.6" fill="#f00"/><rect x="898" y="3115.9" width="18.6" height="18.6" fill="#f00"/><rect x="920.4" y="3107.1" width="18.6" height="18.6" fill="#f00"/><rect x="942.9" y="3098.2" width="18.6" height="18.6" fill="#f00"/><rect x="965.3" y="3088.7" width="18.6" height="18.6" fill="#f00"/><rect x="987.8" y="3079.2" width="18.6" height="18.6" fill="#f00"/><rect x="1010.3" y="3069.5" width="18.6" height="18.6" fill="#f00"/><rect x="1031.1" y="3060.2" width="18.6" height="18.6" fill="#f00"/><rect x="1059.4" y="3052.2" width="18.6" height="18.6" fill="#f00"/><rect x="1077.6" y="3044.7" width="18.6" height="18.6" fill="#f00"/><rect x="1100.1" y="3037.8" width="18.6" height="18.6" fill="#f00"/><rect x="1122.6" y="3030.5" width="18.6" height="18.6" fill="#f00"/><rect x="1145" y="3023.4" width="18.6" height="18.6" fill="#f00"/><rect x="1167.5" y="3016.5" width="18.6" height="18.6" fill="#f00"/><rect x="1190" y="3009.8" width="18.6" height="18.6" fill="#f00"/><rect x="1212.4" y="3003.4" width="18.6" height="18.6" fill="#f00"/><rect x="1234.9" y="2997.1" width="18.6" height="18.6" fill="#f00"/><rect x="1257.3" y="2990.7" width="18.6" height="18.6" fill="#f00"/><rect x="1279.8" y="2984.3" width="18.6" height="18.6" fill="#f00"/><rect x="1302.3" y="2978.4" width="18.6" height="18.6" fill="#f00"/><rect x="1324.7" y="2972.8" width="18.6" height="18.6" fill="#f00"/><rect x="1347.2" y="2967.8" width="18.6" height="18.6" fill="#f00"/><rect x="1369.7" y="2963.2" width="18.6" height="18.6" fill="#f00"/><rect x="1392.1" y="2959.2" width="18.6" height="18.6" fill="#f00"/><rect x="1414.6" y="2955.8" width="18.6" height="18.6" fill="#f00"/><rect x="1437" y="2954" width="18.6" height="18.6" fill="#f00"/><rect x="1459.5" y="2953.9" width="18.6" height="18.6" fill="#f00"/><rect x="1482" y="2954.7" width="18.6" height="18.6" fill="#f00"/><rect x="1504.4" y="2956.5" width="18.6" height="18.6" fill="#f00"/><rect x="1526.9" y="2958.8" width="18.6" height="18.6" fill="#f00"/><rect x="1549.3" y="2962.2" width="18.6" height="18.6" fill="#f00"/><rect x="1571.8" y="2966.2" width="18.6" height="18.6" fill="#f00"/><rect x="1594.3" y="2971.5" width="18.6" height="18.6" fill="#f00"/><rect x="1616.7" y="2978.9" width="18.6" height="18.6" fill="#f00"/><rect x="1639.2" y="2985.3" width="18.6" height="18.6" fill="#f00"/><rect x="1661.7" y="2991.6" width="18.6" height="18.6" fill="#f00"/><rect x="1684.1" y="2999.4" width="18.6" height="18.6" fill="#f00"/><rect x="1706.6" y="3008.5" width="18.6" height="18.6" fill="#f00"/><rect x="1729" y="3018.4" width="18.6" height="18.6" fill="#f00"/><rect x="1751.5" y="3029.3" width="18.6" height="18.6" fill="#f00"/><rect x="1774" y="3040.8" width="18.6" height="18.6" fill="#f00"/><rect x="1796.4" y="3053.8" width="18.6" height="18.6" fill="#f00"/><rect x="1818.9" y="3067.8" width="18.6" height="18.6" fill="#f00"/><rect x="1841.4" y="3082.7" width="18.6" height="18.6" fill="#f00"/><rect x="1863.8" y="3099.1" width="18.6" height="18.6" fill="#f00"/><rect x="1886.3" y="3117.1" width="18.6" height="18.6" fill="#f00"/><rect x="1908.7" y="3135.9" width="18.6" height="18.6" fill="#f00"/><rect x="1931.2" y="3155.3" width="18.6" height="18.6" fill="#f00"/><rect x="1953.7" y="3175.3" width="18.6" height="18.6" fill="#f00"/><rect x="1976.1" y="3194.9" width="18.6" height="18.6" fill="#f00"/><rect x="1998.6" y="3215.9" width="18.6" height="18.6" fill="#f00"/><rect x="2021.1" y="3237.2" width="18.6" height="18.6" fill="#f00"/><rect x="2043.5" y="3258.8" width="18.6" height="18.6" fill="#f00"/><rect x="2066" y="3281.4" width="18.6" height="18.6" fill="#f00"/><rect x="2088.4" y="3304.4" width="18.6" height="18.6" fill="#f00"/><rect x="2110.9" y="3327.1" width="18.6" height="18.6" fill="#f00"/><rect x="2133.4" y="3348.3" width="18.6" height="18.6" fill="#f00"/><rect x="2155.8" y="3367.6" width="18.6" height="18.6" fill="#f00"/><rect x="2178.3" y="3384.7" width="18.6" height="18.6" fill="#f00"/><rect x="2200.7" y="3394.7" width="18.6" height="18.6" fill="#f00"/><rect x="2223.2" y="3404.2" width="18.6" height="18.6" fill="#f00"/></g>
<polyline points="345.7,2999.6 368.2,3009.2 390.6,3018.8 413.1,3038.5 435.5,3056.2 458,3073.1 480.5,3089.4 502.9,3104.7 525.4,3119.2 547.9,3131.4 570.3,3142.1 592.8,3151.4 615.2,3158.8 637.7,3165.4 660.2,3171.9 682.6,3177.9 705.1,3183 727.6,3186.3 750,3188.1 772.5,3188.3 794.9,3187 817.4,3184.4 839.9,3180.4 862.3,3174.4 884.8,3166.4 907.2,3157.9 929.7,3149.6 952.2,3140.5 974.6,3131.3 997.1,3122.3 1019.6,3113.6 1040.4,3104.9 1068.7,3096.1 1086.9,3087.7 1109.4,3079.8 1131.9,3072.2 1154.3,3064.6 1176.8,3057 1199.3,3049.2 1221.7,3041.7 1244.2,3034.6 1266.6,3027.7 1289.1,3021 1311.6,3014.3 1334,3007.6 1356.5,3000.9 1379,2994.2 1401.4,2987.9 1423.9,2981.9 1446.3,2975.8 1468.8,2971 1491.3,2967.4 1513.7,2965.2 1536.2,2964 1558.6,2964 1581.1,2965.3 1603.6,2968.3 1626,2973.5 1648.5,2979.6 1671,2987 1693.4,2994.8 1715.9,3003.2 1738.3,3012.4 1760.8,3022.3 1783.3,3032.3 1805.7,3042.7 1828.2,3054.5 1850.7,3067.7 1873.1,3081 1895.6,3094.3 1918,3108.4 1940.5,3124 1963,3140.8 1985.4,3159.3 2007.9,3178.6 2030.4,3198.7 2052.8,3220 2075.3,3242.7 2097.7,3265.6 2120.2,3287.6 2142.7,3308.9 2165.1,3329.3 2187.6,3348.2 2210,3359.4 2232.5,3368.4" fill="none" stroke="#f00" stroke-width="4.8" stroke-linejoin="round"/>
<g><rect x="337.8" y="2991.7" width="15.8" height="15.8" fill="#fff" stroke="#f00" stroke-width="2.7"/><rect x="360.3" y="3001.3" width="15.8" height="15.8" fill="#fff" stroke="#f00" stroke-width="2.7"/><rect x="382.7" y="3010.9" width="15.8" height="15.8" fill="#fff" stroke="#f00" stroke-width="2.7"/><rect x="405.2" y="3030.6" width="15.8" height="15.8" fill="#fff" stroke="#f00" stroke-width="2.7"/><rect x="427.6" y="3048.3" width="15.8" height="15.8" fill="#fff" stroke="#f00" stroke-width="2.7"/><rect x="450.1" y="3065.2" width="15.8" height="15.8" fill="#fff" stroke="#f00" stroke-width="2.7"/><rect x="472.6" y="3081.5" width="15.8" height="15.8" fill="#fff" stroke="#f00" stroke-width="2.7"/><rect x="495" y="3096.8" width="15.8" height="15.8" fill="#fff" stroke="#f00" stroke-width="2.7"/><rect x="517.5" y="3111.3" width="15.8" height="15.8" fill="#fff" stroke="#f00" stroke-width="2.7"/><rect x="540" y="3123.5" width="15.8" height="15.8" fill="#fff" stroke="#f00" stroke-width="2.7"/><rect x="562.4" y="3134.2" width="15.8" height="15.8" fill="#fff" stroke="#f00" stroke-width="2.7"/><rect x="584.9" y="3143.5" width="15.8" height="15.8" fill="#fff" stroke="#f00" stroke-width="2.7"/><rect x="607.3" y="3150.9" width="15.8" height="15.8" fill="#fff" stroke="#f00" stroke-width="2.7"/><rect x="629.8" y="3157.5" width="15.8" height="15.8" fill="#fff" stroke="#f00" stroke-width="2.7"/><rect x="652.3" y="3164" width="15.8" height="15.8" fill="#fff" stroke="#f00" stroke-width="2.7"/><rect x="674.7" y="3170" width="15.8" height="15.8" fill="#fff" stroke="#f00" stroke-width="2.7"/><rect x="697.2" y="3175.1" width="15.8" height="15.8" fill="#fff" stroke="#f00" stroke-width="2.7"/><rect x="719.7" y="3178.4" width="15.8" height="15.8" fill="#fff" stroke="#f00" stroke-width="2.7"/><rect x="742.1" y="3180.2" width="15.8" height="15.8" fill="#fff" stroke="#f00" stroke-width="2.7"/><rect x="764.6" y="3180.4" width="15.8" height="15.8" fill="#fff" stroke="#f00" stroke-width="2.7"/><rect x="787" y="3179.1" width="15.8" height="15.8" fill="#fff" stroke="#f00" stroke-width="2.7"/><rect x="809.5" y="3176.5" width="15.8" height="15.8" fill="#fff" stroke="#f00" stroke-width="2.7"/><rect x="832" y="3172.5" width="15.8" height="15.8" fill="#fff" stroke="#f00" stroke-width="2.7"/><rect x="854.4" y="3166.5" width="15.8" height="15.8" fill="#fff" stroke="#f00" stroke-width="2.7"/><rect x="876.9" y="3158.5" width="15.8" height="15.8" fill="#fff" stroke="#f00" stroke-width="2.7"/><rect x="899.4" y="3150" width="15.8" height="15.8" fill="#fff" stroke="#f00" stroke-width="2.7"/><rect x="921.8" y="3141.7" width="15.8" height="15.8" fill="#fff" stroke="#f00" stroke-width="2.7"/><rect x="944.3" y="3132.6" width="15.8" height="15.8" fill="#fff" stroke="#f00" stroke-width="2.7"/><rect x="966.7" y="3123.4" width="15.8" height="15.8" fill="#fff" stroke="#f00" stroke-width="2.7"/><rect x="989.2" y="3114.4" width="15.8" height="15.8" fill="#fff" stroke="#f00" stroke-width="2.7"/><rect x="1011.7" y="3105.7" width="15.8" height="15.8" fill="#fff" stroke="#f00" stroke-width="2.7"/><rect x="1032.5" y="3097" width="15.8" height="15.8" fill="#fff" stroke="#f00" stroke-width="2.7"/><rect x="1060.8" y="3088.2" width="15.8" height="15.8" fill="#fff" stroke="#f00" stroke-width="2.7"/><rect x="1079" y="3079.8" width="15.8" height="15.8" fill="#fff" stroke="#f00" stroke-width="2.7"/><rect x="1101.5" y="3071.9" width="15.8" height="15.8" fill="#fff" stroke="#f00" stroke-width="2.7"/><rect x="1124" y="3064.3" width="15.8" height="15.8" fill="#fff" stroke="#f00" stroke-width="2.7"/><rect x="1146.4" y="3056.7" width="15.8" height="15.8" fill="#fff" stroke="#f00" stroke-width="2.7"/><rect x="1168.9" y="3049.1" width="15.8" height="15.8" fill="#fff" stroke="#f00" stroke-width="2.7"/><rect x="1191.4" y="3041.3" width="15.8" height="15.8" fill="#fff" stroke="#f00" stroke-width="2.7"/><rect x="1213.8" y="3033.8" width="15.8" height="15.8" fill="#fff" stroke="#f00" stroke-width="2.7"/><rect x="1236.3" y="3026.7" width="15.8" height="15.8" fill="#fff" stroke="#f00" stroke-width="2.7"/><rect x="1258.7" y="3019.8" width="15.8" height="15.8" fill="#fff" stroke="#f00" stroke-width="2.7"/><rect x="1281.2" y="3013.1" width="15.8" height="15.8" fill="#fff" stroke="#f00" stroke-width="2.7"/><rect x="1303.7" y="3006.4" width="15.8" height="15.8" fill="#fff" stroke="#f00" stroke-width="2.7"/><rect x="1326.1" y="2999.7" width="15.8" height="15.8" fill="#fff" stroke="#f00" stroke-width="2.7"/><rect x="1348.6" y="2993" width="15.8" height="15.8" fill="#fff" stroke="#f00" stroke-width="2.7"/><rect x="1371.1" y="2986.3" width="15.8" height="15.8" fill="#fff" stroke="#f00" stroke-width="2.7"/><rect x="1393.5" y="2980" width="15.8" height="15.8" fill="#fff" stroke="#f00" stroke-width="2.7"/><rect x="1416" y="2974" width="15.8" height="15.8" fill="#fff" stroke="#f00" stroke-width="2.7"/><rect x="1438.4" y="2967.9" width="15.8" height="15.8" fill="#fff" stroke="#f00" stroke-width="2.7"/><rect x="1460.9" y="2963.1" width="15.8" height="15.8" fill="#fff" stroke="#f00" stroke-width="2.7"/><rect x="1483.4" y="2959.5" width="15.8" height="15.8" fill="#fff" stroke="#f00" stroke-width="2.7"/><rect x="1505.8" y="2957.3" width="15.8" height="15.8" fill="#fff" stroke="#f00" stroke-width="2.7"/><rect x="1528.3" y="2956.1" width="15.8" height="15.8" fill="#fff" stroke="#f00" stroke-width="2.7"/><rect x="1550.7" y="2956.1" width="15.8" height="15.8" fill="#fff" stroke="#f00" stroke-width="2.7"/><rect x="1573.2" y="2957.4" width="15.8" height="15.8" fill="#fff" stroke="#f00" stroke-width="2.7"/><rect x="1595.7" y="2960.4" width="15.8" height="15.8" fill="#fff" stroke="#f00" stroke-width="2.7"/><rect x="1618.1" y="2965.6" width="15.8" height="15.8" fill="#fff" stroke="#f00" stroke-width="2.7"/><rect x="1640.6" y="2971.7" width="15.8" height="15.8" fill="#fff" stroke="#f00" stroke-width="2.7"/><rect x="1663.1" y="2979.1" width="15.8" height="15.8" fill="#fff" stroke="#f00" stroke-width="2.7"/><rect x="1685.5" y="2986.9" width="15.8" height="15.8" fill="#fff" stroke="#f00" stroke-width="2.7"/><rect x="1708" y="2995.3" width="15.8" height="15.8" fill="#fff" stroke="#f00" stroke-width="2.7"/><rect x="1730.4" y="3004.5" width="15.8" height="15.8" fill="#fff" stroke="#f00" stroke-width="2.7"/><rect x="1752.9" y="3014.4" width="15.8" height="15.8" fill="#fff" stroke="#f00" stroke-width="2.7"/><rect x="1775.4" y="3024.4" width="15.8" height="15.8" fill="#fff" stroke="#f00" stroke-width="2.7"/><rect x="1797.8" y="3034.8" width="15.8" height="15.8" fill="#fff" stroke="#f00" stroke-width="2.7"/><rect x="1820.3" y="3046.6" width="15.8" height="15.8" fill="#fff" stroke="#f00" stroke-width="2.7"/><rect x="1842.8" y="3059.8" width="15.8" height="15.8" fill="#fff" stroke="#f00" stroke-width="2.7"/><rect x="1865.2" y="3073.1" width="15.8" height="15.8" fill="#fff" stroke="#f00" stroke-width="2.7"/><rect x="1887.7" y="3086.4" width="15.8" height="15.8" fill="#fff" stroke="#f00" stroke-width="2.7"/><rect x="1910.1" y="3100.5" width="15.8" height="15.8" fill="#fff" stroke="#f00" stroke-width="2.7"/><rect x="1932.6" y="3116.1" width="15.8" height="15.8" fill="#fff" stroke="#f00" stroke-width="2.7"/><rect x="1955.1" y="3132.9" width="15.8" height="15.8" fill="#fff" stroke="#f00" stroke-width="2.7"/><rect x="1977.5" y="3151.4" width="15.8" height="15.8" fill="#fff" stroke="#f00" stroke-width="2.7"/><rect x="2000" y="3170.7" width="15.8" height="15.8" fill="#fff" stroke="#f00" stroke-width="2.7"/><rect x="2022.5" y="3190.8" width="15.8" height="15.8" fill="#fff" stroke="#f00" stroke-width="2.7"/><rect x="2044.9" y="3212.1" width="15.8" height="15.8" fill="#fff" stroke="#f00" stroke-width="2.7"/><rect x="2067.4" y="3234.8" width="15.8" height="15.8" fill="#fff" stroke="#f00" stroke-width="2.7"/><rect x="2089.8" y="3257.7" width="15.8" height="15.8" fill="#fff" stroke="#f00" stroke-width="2.7"/><rect x="2112.3" y="3279.7" width="15.8" height="15.8" fill="#fff" stroke="#f00" stroke-width="2.7"/><rect x="2134.8" y="3301" width="15.8" height="15.8" fill="#fff" stroke="#f00" stroke-width="2.7"/><rect x="2157.2" y="3321.4" width="15.8" height="15.8" fill="#fff" stroke="#f00" stroke-width="2.7"/><rect x="2179.7" y="3340.3" width="15.8" height="15.8" fill="#fff" stroke="#f00" stroke-width="2.7"/><rect x="2202.1" y="3351.5" width="15.8" height="15.8" fill="#fff" stroke="#f00" stroke-width="2.7"/><rect x="2224.6" y="3360.5" width="15.8" height="15.8" fill="#fff" stroke="#f00" stroke-width="2.7"/></g>
<polyline points="345.7,2912.5 368.2,2913.3 390.6,2916.3 413.1,2922.4 435.5,2930.1 458,2939.3 480.5,2949.6 502.9,2961.9 525.4,2975.4 547.9,2989.6 570.3,3005.1 592.8,3022 615.2,3039.5 637.7,3057.6 660.2,3076.3 682.6,3095 705.1,3112.8 727.6,3129.8 750,3145 772.5,3157.2 794.9,3166.3 817.4,3173 839.9,3177.7 862.3,3179.9 884.8,3180.1 907.2,3178.9 929.7,3176.3 952.2,3171.6 974.6,3165.1 997.1,3158.2 1019.6,3149.6 1040.4,3141 1068.7,3132.6 1086.9,3123.3 1109.4,3114.1 1131.9,3105.1 1154.3,3095.7 1176.8,3086.8 1199.3,3078 1221.7,3068.7 1244.2,3059.3 1266.6,3050.6 1289.1,3042.4 1311.6,3034.2 1334,3026.3 1356.5,3018.8 1379,3011.6 1401.4,3005.1 1423.9,3000.4 1446.3,2994.3 1468.8,2988.2 1491.3,2982.5 1513.7,2977.5 1536.2,2973.7 1558.6,2970.3 1581.1,2967.5 1603.6,2966.4 1626,2966.1 1648.5,2966.6 1671,2968.7 1693.4,2972.7 1715.9,2978.7 1738.3,2986.4 1760.8,2995.2 1783.3,3005.7 1805.7,3017.9 1828.2,3030 1850.7,3041 1873.1,3053.5 1895.6,3066.4 1918,3080.1 1940.5,3095 1963,3110.5 1985.4,3126.5 2007.9,3142.4 2030.4,3159.7 2052.8,3178.6 2075.3,3198.3 2097.7,3219.1 2120.2,3240.2 2142.7,3261.3 2165.1,3282.3 2187.6,3303.7 2210,3315.3 2232.5,3326.6" fill="none" stroke="#0f0" stroke-width="4.6" stroke-linejoin="round"/>
<g><polygon points="345.7,2899 357.3,2919.4 334.1,2919.4" fill="#0f0"/><polygon points="368.2,2899.8 379.8,2920.2 356.5,2920.2" fill="#0f0"/><polygon points="390.6,2902.8 402.2,2923.2 379,2923.2" fill="#0f0"/><polygon points="413.1,2909 424.7,2929.4 401.5,2929.4" fill="#0f0"/><polygon points="435.5,2916.7 447.2,2937 423.9,2937" fill="#0f0"/><polygon points="458,2925.9 469.6,2946.2 446.4,2946.2" fill="#0f0"/><polygon points="480.5,2936.2 492.1,2956.6 468.9,2956.6" fill="#0f0"/><polygon points="502.9,2948.5 514.5,2968.8 491.3,2968.8" fill="#0f0"/><polygon points="525.4,2961.9 537,2982.3 513.8,2982.3" fill="#0f0"/><polygon points="547.9,2976.1 559.5,2996.5 536.2,2996.5" fill="#0f0"/><polygon points="570.3,2991.7 581.9,3012 558.7,3012" fill="#0f0"/><polygon points="592.8,3008.6 604.4,3029 581.2,3029" fill="#0f0"/><polygon points="615.2,3026 626.9,3046.4 603.6,3046.4" fill="#0f0"/><polygon points="637.7,3044.1 649.3,3064.5 626.1,3064.5" fill="#0f0"/><polygon points="660.2,3062.9 671.8,3083.2 648.6,3083.2" fill="#0f0"/><polygon points="682.6,3081.5 694.2,3101.9 671,3101.9" fill="#0f0"/><polygon points="705.1,3099.4 716.7,3119.7 693.5,3119.7" fill="#0f0"/><polygon points="727.6,3116.4 739.2,3136.8 715.9,3136.8" fill="#0f0"/><polygon points="750,3131.5 761.6,3151.9 738.4,3151.9" fill="#0f0"/><polygon points="772.5,3143.7 784.1,3164.1 760.9,3164.1" fill="#0f0"/><polygon points="794.9,3152.8 806.6,3173.2 783.3,3173.2" fill="#0f0"/><polygon points="817.4,3159.5 829,3179.9 805.8,3179.9" fill="#0f0"/><polygon points="839.9,3164.2 851.5,3184.6 828.2,3184.6" fill="#0f0"/><polygon points="862.3,3166.4 873.9,3186.8 850.7,3186.8" fill="#0f0"/><polygon points="884.8,3166.6 896.4,3187 873.2,3187" fill="#0f0"/><polygon points="907.2,3165.5 918.9,3185.9 895.6,3185.9" fill="#0f0"/><polygon points="929.7,3162.9 941.3,3183.2 918.1,3183.2" fill="#0f0"/><polygon points="952.2,3158.2 963.8,3178.6 940.6,3178.6" fill="#0f0"/><polygon points="974.6,3151.7 986.3,3172 963,3172" fill="#0f0"/><polygon points="997.1,3144.8 1008.7,3165.2 985.5,3165.2" fill="#0f0"/><polygon points="1019.6,3136.1 1031.2,3156.5 1007.9,3156.5" fill="#0f0"/><polygon points="1040.4,3127.6 1052,3147.9 1028.8,3147.9" fill="#0f0"/><polygon points="1068.7,3119.1 1080.3,3139.5 1057.1,3139.5" fill="#0f0"/><polygon points="1086.9,3109.9 1098.6,3130.3 1075.3,3130.3" fill="#0f0"/><polygon points="1109.4,3100.7 1121,3121.1 1097.8,3121.1" fill="#0f0"/><polygon points="1131.9,3091.6 1143.5,3112 1120.3,3112" fill="#0f0"/><polygon points="1154.3,3082.3 1165.9,3102.7 1142.7,3102.7" fill="#0f0"/><polygon points="1176.8,3073.4 1188.4,3093.7 1165.2,3093.7" fill="#0f0"/><polygon points="1199.3,3064.6 1210.9,3085 1187.6,3085" fill="#0f0"/><polygon points="1221.7,3055.2 1233.3,3075.6 1210.1,3075.6" fill="#0f0"/><polygon points="1244.2,3045.8 1255.8,3066.2 1232.6,3066.2" fill="#0f0"/><polygon points="1266.6,3037.2 1278.3,3057.6 1255,3057.6" fill="#0f0"/><polygon points="1289.1,3029 1300.7,3049.3 1277.5,3049.3" fill="#0f0"/><polygon points="1311.6,3020.7 1323.2,3041.1 1300,3041.1" fill="#0f0"/><polygon points="1334,3012.9 1345.6,3033.2 1322.4,3033.2" fill="#0f0"/><polygon points="1356.5,3005.4 1368.1,3025.7 1344.9,3025.7" fill="#0f0"/><polygon points="1379,2998.2 1390.6,3018.6 1367.3,3018.6" fill="#0f0"/><polygon points="1401.4,2991.7 1413,3012.1 1389.8,3012.1" fill="#0f0"/><polygon points="1423.9,2986.9 1435.5,3007.3 1412.3,3007.3" fill="#0f0"/><polygon points="1446.3,2980.9 1458,3001.2 1434.7,3001.2" fill="#0f0"/><polygon points="1468.8,2974.8 1480.4,2995.1 1457.2,2995.1" fill="#0f0"/><polygon points="1491.3,2969 1502.9,2989.4 1479.6,2989.4" fill="#0f0"/><polygon points="1513.7,2964.1 1525.3,2984.5 1502.1,2984.5" fill="#0f0"/><polygon points="1536.2,2960.3 1547.8,2980.6 1524.6,2980.6" fill="#0f0"/><polygon points="1558.6,2956.9 1570.3,2977.2 1547,2977.2" fill="#0f0"/><polygon points="1581.1,2954.1 1592.7,2974.5 1569.5,2974.5" fill="#0f0"/><polygon points="1603.6,2952.9 1615.2,2973.3 1592,2973.3" fill="#0f0"/><polygon points="1626,2952.6 1637.7,2973 1614.4,2973" fill="#0f0"/><polygon points="1648.5,2953.2 1660.1,2973.5 1636.9,2973.5" fill="#0f0"/><polygon points="1671,2955.2 1682.6,2975.6 1659.3,2975.6" fill="#0f0"/><polygon points="1693.4,2959.2 1705,2979.6 1681.8,2979.6" fill="#0f0"/><polygon points="1715.9,2965.2 1727.5,2985.6 1704.3,2985.6" fill="#0f0"/><polygon points="1738.3,2972.9 1750,2993.3 1726.7,2993.3" fill="#0f0"/><polygon points="1760.8,2981.7 1772.4,3002.1 1749.2,3002.1" fill="#0f0"/><polygon points="1783.3,2992.2 1794.9,3012.6 1771.7,3012.6" fill="#0f0"/><polygon points="1805.7,3004.4 1817.3,3024.8 1794.1,3024.8" fill="#0f0"/><polygon points="1828.2,3016.5 1839.8,3036.9 1816.6,3036.9" fill="#0f0"/><polygon points="1850.7,3027.6 1862.3,3047.9 1839,3047.9" fill="#0f0"/><polygon points="1873.1,3040.1 1884.7,3060.4 1861.5,3060.4" fill="#0f0"/><polygon points="1895.6,3053 1907.2,3073.3 1884,3073.3" fill="#0f0"/><polygon points="1918,3066.6 1929.7,3087 1906.4,3087" fill="#0f0"/><polygon points="1940.5,3081.6 1952.1,3101.9 1928.9,3101.9" fill="#0f0"/><polygon points="1963,3097.1 1974.6,3117.4 1951.3,3117.4" fill="#0f0"/><polygon points="1985.4,3113.1 1997,3133.4 1973.8,3133.4" fill="#0f0"/><polygon points="2007.9,3129 2019.5,3149.4 1996.3,3149.4" fill="#0f0"/><polygon points="2030.4,3146.3 2042,3166.6 2018.7,3166.6" fill="#0f0"/><polygon points="2052.8,3165.2 2064.4,3185.5 2041.2,3185.5" fill="#0f0"/><polygon points="2075.3,3184.8 2086.9,3205.2 2063.7,3205.2" fill="#0f0"/><polygon points="2097.7,3205.6 2109.4,3226 2086.1,3226" fill="#0f0"/><polygon points="2120.2,3226.8 2131.8,3247.1 2108.6,3247.1" fill="#0f0"/><polygon points="2142.7,3247.8 2154.3,3268.2 2131,3268.2" fill="#0f0"/><polygon points="2165.1,3268.9 2176.7,3289.3 2153.5,3289.3" fill="#0f0"/><polygon points="2187.6,3290.2 2199.2,3310.6 2176,3310.6" fill="#0f0"/><polygon points="2210,3301.8 2221.7,3322.2 2198.4,3322.2" fill="#0f0"/><polygon points="2232.5,3313.1 2244.1,3333.5 2220.9,3333.5" fill="#0f0"/></g>
<polyline points="345.7,2707.8 368.2,2751 390.6,2795.3 413.1,2831.4 435.5,2858.5 458,2876.2 480.5,2888.6 502.9,2898.5 525.4,2908.3 547.9,2917.3 570.3,2925.1 592.8,2932.8 615.2,2941.3 637.7,2950.7 660.2,2961.8 682.6,2975.2 705.1,2990.7 727.6,3008.2 750,3027.6 772.5,3049.7 794.9,3073.9 817.4,3097.7 839.9,3119.9 862.3,3139.1 884.8,3154.4 907.2,3164.9 929.7,3173.2 952.2,3177.5 974.6,3178 997.1,3176.7 1019.6,3173.8 1040.4,3169.1 1068.7,3163.5 1086.9,3157.1 1109.4,3150.6 1131.9,3144.1 1154.3,3137.1 1176.8,3129.9 1199.3,3121.7 1221.7,3112.9 1244.2,3104 1266.6,3094.9 1289.1,3085.9 1311.6,3077.2 1334,3068.7 1356.5,3060.1 1379,3051.3 1401.4,3042.4 1423.9,3033.8 1446.3,3026.5 1468.8,3019 1491.3,3011.3 1513.7,3004 1536.2,2998.1 1558.6,2993.2 1581.1,2988.3 1603.6,2983.6 1626,2979.9 1648.5,2977.2 1671,2976.1 1693.4,2976.2 1715.9,2977.9 1738.3,2981.8 1760.8,2986.5 1783.3,2992.2 1805.7,2999 1828.2,3006.9 1850.7,3015.5 1873.1,3025.6 1895.6,3038.3 1918,3052 1940.5,3066.4 1963,3081.6 1985.4,3097.8 2007.9,3114.2 2030.4,3130.4 2052.8,3146.1 2075.3,3162.2 2097.7,3179 2120.2,3197 2142.7,3215.8 2165.1,3236.1 2187.6,3256.3 2210,3265.3 2232.5,3271.3" fill="none" stroke="#0f0" stroke-width="4.6" stroke-linejoin="round"/>
<g><polygon points="345.7,2697.2 354.7,2714 336.7,2714" fill="#fff" stroke="#0f0" stroke-width="2.6" stroke-linejoin="miter"/><polygon points="368.2,2740.4 377.2,2757.2 359.1,2757.2" fill="#fff" stroke="#0f0" stroke-width="2.6" stroke-linejoin="miter"/><polygon points="390.6,2784.7 399.6,2801.5 381.6,2801.5" fill="#fff" stroke="#0f0" stroke-width="2.6" stroke-linejoin="miter"/><polygon points="413.1,2820.8 422.1,2837.6 404.1,2837.6" fill="#fff" stroke="#0f0" stroke-width="2.6" stroke-linejoin="miter"/><polygon points="435.5,2848 444.6,2864.7 426.5,2864.7" fill="#fff" stroke="#0f0" stroke-width="2.6" stroke-linejoin="miter"/><polygon points="458,2865.7 467,2882.4 449,2882.4" fill="#fff" stroke="#0f0" stroke-width="2.6" stroke-linejoin="miter"/><polygon points="480.5,2878.1 489.5,2894.8 471.4,2894.8" fill="#fff" stroke="#0f0" stroke-width="2.6" stroke-linejoin="miter"/><polygon points="502.9,2888 512,2904.7 493.9,2904.7" fill="#fff" stroke="#0f0" stroke-width="2.6" stroke-linejoin="miter"/><polygon points="525.4,2897.8 534.4,2914.5 516.4,2914.5" fill="#fff" stroke="#0f0" stroke-width="2.6" stroke-linejoin="miter"/><polygon points="547.9,2906.7 556.9,2923.5 538.8,2923.5" fill="#fff" stroke="#0f0" stroke-width="2.6" stroke-linejoin="miter"/><polygon points="570.3,2914.6 579.3,2931.3 561.3,2931.3" fill="#fff" stroke="#0f0" stroke-width="2.6" stroke-linejoin="miter"/><polygon points="592.8,2922.3 601.8,2939 583.8,2939" fill="#fff" stroke="#0f0" stroke-width="2.6" stroke-linejoin="miter"/><polygon points="615.2,2930.8 624.3,2947.5 606.2,2947.5" fill="#fff" stroke="#0f0" stroke-width="2.6" stroke-linejoin="miter"/><polygon points="637.7,2940.1 646.7,2956.9 628.7,2956.9" fill="#fff" stroke="#0f0" stroke-width="2.6" stroke-linejoin="miter"/><polygon points="660.2,2951.2 669.2,2968 651.1,2968" fill="#fff" stroke="#0f0" stroke-width="2.6" stroke-linejoin="miter"/><polygon points="682.6,2964.6 691.7,2981.4 673.6,2981.4" fill="#fff" stroke="#0f0" stroke-width="2.6" stroke-linejoin="miter"/><polygon points="705.1,2980.2 714.1,2996.9 696.1,2996.9" fill="#fff" stroke="#0f0" stroke-width="2.6" stroke-linejoin="miter"/><polygon points="727.6,2997.7 736.6,3014.4 718.5,3014.4" fill="#fff" stroke="#0f0" stroke-width="2.6" stroke-linejoin="miter"/><polygon points="750,3017.1 759,3033.8 741,3033.8" fill="#fff" stroke="#0f0" stroke-width="2.6" stroke-linejoin="miter"/><polygon points="772.5,3039.2 781.5,3055.9 763.5,3055.9" fill="#fff" stroke="#0f0" stroke-width="2.6" stroke-linejoin="miter"/><polygon points="794.9,3063.4 804,3080.1 785.9,3080.1" fill="#fff" stroke="#0f0" stroke-width="2.6" stroke-linejoin="miter"/><polygon points="817.4,3087.1 826.4,3103.9 808.4,3103.9" fill="#fff" stroke="#0f0" stroke-width="2.6" stroke-linejoin="miter"/><polygon points="839.9,3109.3 848.9,3126.1 830.8,3126.1" fill="#fff" stroke="#0f0" stroke-width="2.6" stroke-linejoin="miter"/><polygon points="862.3,3128.6 871.4,3145.3 853.3,3145.3" fill="#fff" stroke="#0f0" stroke-width="2.6" stroke-linejoin="miter"/><polygon points="884.8,3143.8 893.8,3160.6 875.8,3160.6" fill="#fff" stroke="#0f0" stroke-width="2.6" stroke-linejoin="miter"/><polygon points="907.2,3154.3 916.3,3171.1 898.2,3171.1" fill="#fff" stroke="#0f0" stroke-width="2.6" stroke-linejoin="miter"/><polygon points="929.7,3162.6 938.7,3179.4 920.7,3179.4" fill="#fff" stroke="#0f0" stroke-width="2.6" stroke-linejoin="miter"/><polygon points="952.2,3166.9 961.2,3183.7 943.1,3183.7" fill="#fff" stroke="#0f0" stroke-width="2.6" stroke-linejoin="miter"/><polygon points="974.6,3167.5 983.7,3184.2 965.6,3184.2" fill="#fff" stroke="#0f0" stroke-width="2.6" stroke-linejoin="miter"/><polygon points="997.1,3166.2 1006.1,3182.9 988.1,3182.9" fill="#fff" stroke="#0f0" stroke-width="2.6" stroke-linejoin="miter"/><polygon points="1019.6,3163.3 1028.6,3180 1010.5,3180" fill="#fff" stroke="#0f0" stroke-width="2.6" stroke-linejoin="miter"/><polygon points="1040.4,3158.6 1049.4,3175.3 1031.4,3175.3" fill="#fff" stroke="#0f0" stroke-width="2.6" stroke-linejoin="miter"/><polygon points="1068.7,3152.9 1077.7,3169.7 1059.7,3169.7" fill="#fff" stroke="#0f0" stroke-width="2.6" stroke-linejoin="miter"/><polygon points="1086.9,3146.6 1096,3163.3 1077.9,3163.3" fill="#fff" stroke="#0f0" stroke-width="2.6" stroke-linejoin="miter"/><polygon points="1109.4,3140.1 1118.4,3156.8 1100.4,3156.8" fill="#fff" stroke="#0f0" stroke-width="2.6" stroke-linejoin="miter"/><polygon points="1131.9,3133.6 1140.9,3150.3 1122.8,3150.3" fill="#fff" stroke="#0f0" stroke-width="2.6" stroke-linejoin="miter"/><polygon points="1154.3,3126.6 1163.4,3143.3 1145.3,3143.3" fill="#fff" stroke="#0f0" stroke-width="2.6" stroke-linejoin="miter"/><polygon points="1176.8,3119.4 1185.8,3136.1 1167.8,3136.1" fill="#fff" stroke="#0f0" stroke-width="2.6" stroke-linejoin="miter"/><polygon points="1199.3,3111.2 1208.3,3127.9 1190.2,3127.9" fill="#fff" stroke="#0f0" stroke-width="2.6" stroke-linejoin="miter"/><polygon points="1221.7,3102.4 1230.7,3119.1 1212.7,3119.1" fill="#fff" stroke="#0f0" stroke-width="2.6" stroke-linejoin="miter"/><polygon points="1244.2,3093.4 1253.2,3110.2 1235.2,3110.2" fill="#fff" stroke="#0f0" stroke-width="2.6" stroke-linejoin="miter"/><polygon points="1266.6,3084.3 1275.7,3101.1 1257.6,3101.1" fill="#fff" stroke="#0f0" stroke-width="2.6" stroke-linejoin="miter"/><polygon points="1289.1,3075.4 1298.1,3092.1 1280.1,3092.1" fill="#fff" stroke="#0f0" stroke-width="2.6" stroke-linejoin="miter"/><polygon points="1311.6,3066.6 1320.6,3083.4 1302.5,3083.4" fill="#fff" stroke="#0f0" stroke-width="2.6" stroke-linejoin="miter"/><polygon points="1334,3058.1 1343.1,3074.9 1325,3074.9" fill="#fff" stroke="#0f0" stroke-width="2.6" stroke-linejoin="miter"/><polygon points="1356.5,3049.6 1365.5,3066.3 1347.5,3066.3" fill="#fff" stroke="#0f0" stroke-width="2.6" stroke-linejoin="miter"/><polygon points="1379,3040.8 1388,3057.5 1369.9,3057.5" fill="#fff" stroke="#0f0" stroke-width="2.6" stroke-linejoin="miter"/><polygon points="1401.4,3031.9 1410.4,3048.6 1392.4,3048.6" fill="#fff" stroke="#0f0" stroke-width="2.6" stroke-linejoin="miter"/><polygon points="1423.9,3023.3 1432.9,3040 1414.9,3040" fill="#fff" stroke="#0f0" stroke-width="2.6" stroke-linejoin="miter"/><polygon points="1446.3,3016 1455.4,3032.7 1437.3,3032.7" fill="#fff" stroke="#0f0" stroke-width="2.6" stroke-linejoin="miter"/><polygon points="1468.8,3008.5 1477.8,3025.2 1459.8,3025.2" fill="#fff" stroke="#0f0" stroke-width="2.6" stroke-linejoin="miter"/><polygon points="1491.3,3000.8 1500.3,3017.5 1482.2,3017.5" fill="#fff" stroke="#0f0" stroke-width="2.6" stroke-linejoin="miter"/><polygon points="1513.7,2993.5 1522.7,3010.2 1504.7,3010.2" fill="#fff" stroke="#0f0" stroke-width="2.6" stroke-linejoin="miter"/><polygon points="1536.2,2987.6 1545.2,3004.3 1527.2,3004.3" fill="#fff" stroke="#0f0" stroke-width="2.6" stroke-linejoin="miter"/><polygon points="1558.6,2982.7 1567.7,2999.4 1549.6,2999.4" fill="#fff" stroke="#0f0" stroke-width="2.6" stroke-linejoin="miter"/><polygon points="1581.1,2977.7 1590.1,2994.5 1572.1,2994.5" fill="#fff" stroke="#0f0" stroke-width="2.6" stroke-linejoin="miter"/><polygon points="1603.6,2973 1612.6,2989.8 1594.5,2989.8" fill="#fff" stroke="#0f0" stroke-width="2.6" stroke-linejoin="miter"/><polygon points="1626,2969.3 1635.1,2986.1 1617,2986.1" fill="#fff" stroke="#0f0" stroke-width="2.6" stroke-linejoin="miter"/><polygon points="1648.5,2966.7 1657.5,2983.4 1639.5,2983.4" fill="#fff" stroke="#0f0" stroke-width="2.6" stroke-linejoin="miter"/><polygon points="1671,2965.6 1680,2982.3 1661.9,2982.3" fill="#fff" stroke="#0f0" stroke-width="2.6" stroke-linejoin="miter"/><polygon points="1693.4,2965.7 1702.4,2982.4 1684.4,2982.4" fill="#fff" stroke="#0f0" stroke-width="2.6" stroke-linejoin="miter"/><polygon points="1715.9,2967.4 1724.9,2984.1 1706.9,2984.1" fill="#fff" stroke="#0f0" stroke-width="2.6" stroke-linejoin="miter"/><polygon points="1738.3,2971.2 1747.4,2988 1729.3,2988" fill="#fff" stroke="#0f0" stroke-width="2.6" stroke-linejoin="miter"/><polygon points="1760.8,2976 1769.8,2992.7 1751.8,2992.7" fill="#fff" stroke="#0f0" stroke-width="2.6" stroke-linejoin="miter"/><polygon points="1783.3,2981.7 1792.3,2998.4 1774.2,2998.4" fill="#fff" stroke="#0f0" stroke-width="2.6" stroke-linejoin="miter"/><polygon points="1805.7,2988.5 1814.8,3005.2 1796.7,3005.2" fill="#fff" stroke="#0f0" stroke-width="2.6" stroke-linejoin="miter"/><polygon points="1828.2,2996.3 1837.2,3013.1 1819.2,3013.1" fill="#fff" stroke="#0f0" stroke-width="2.6" stroke-linejoin="miter"/><polygon points="1850.7,3004.9 1859.7,3021.7 1841.6,3021.7" fill="#fff" stroke="#0f0" stroke-width="2.6" stroke-linejoin="miter"/><polygon points="1873.1,3015 1882.1,3031.8 1864.1,3031.8" fill="#fff" stroke="#0f0" stroke-width="2.6" stroke-linejoin="miter"/><polygon points="1895.6,3027.7 1904.6,3044.5 1886.6,3044.5" fill="#fff" stroke="#0f0" stroke-width="2.6" stroke-linejoin="miter"/><polygon points="1918,3041.4 1927.1,3058.2 1909,3058.2" fill="#fff" stroke="#0f0" stroke-width="2.6" stroke-linejoin="miter"/><polygon points="1940.5,3055.8 1949.5,3072.6 1931.5,3072.6" fill="#fff" stroke="#0f0" stroke-width="2.6" stroke-linejoin="miter"/><polygon points="1963,3071.1 1972,3087.8 1953.9,3087.8" fill="#fff" stroke="#0f0" stroke-width="2.6" stroke-linejoin="miter"/><polygon points="1985.4,3087.3 1994.4,3104 1976.4,3104" fill="#fff" stroke="#0f0" stroke-width="2.6" stroke-linejoin="miter"/><polygon points="2007.9,3103.7 2016.9,3120.4 1998.9,3120.4" fill="#fff" stroke="#0f0" stroke-width="2.6" stroke-linejoin="miter"/><polygon points="2030.4,3119.9 2039.4,3136.6 2021.3,3136.6" fill="#fff" stroke="#0f0" stroke-width="2.6" stroke-linejoin="miter"/><polygon points="2052.8,3135.6 2061.8,3152.3 2043.8,3152.3" fill="#fff" stroke="#0f0" stroke-width="2.6" stroke-linejoin="miter"/><polygon points="2075.3,3151.6 2084.3,3168.4 2066.2,3168.4" fill="#fff" stroke="#0f0" stroke-width="2.6" stroke-linejoin="miter"/><polygon points="2097.7,3168.5 2106.8,3185.2 2088.7,3185.2" fill="#fff" stroke="#0f0" stroke-width="2.6" stroke-linejoin="miter"/><polygon points="2120.2,3186.5 2129.2,3203.2 2111.2,3203.2" fill="#fff" stroke="#0f0" stroke-width="2.6" stroke-linejoin="miter"/><polygon points="2142.7,3205.3 2151.7,3222 2133.6,3222" fill="#fff" stroke="#0f0" stroke-width="2.6" stroke-linejoin="miter"/><polygon points="2165.1,3225.5 2174.1,3242.3 2156.1,3242.3" fill="#fff" stroke="#0f0" stroke-width="2.6" stroke-linejoin="miter"/><polygon points="2187.6,3245.7 2196.6,3262.5 2178.6,3262.5" fill="#fff" stroke="#0f0" stroke-width="2.6" stroke-linejoin="miter"/><polygon points="2210,3254.7 2219.1,3271.5 2201,3271.5" fill="#fff" stroke="#0f0" stroke-width="2.6" stroke-linejoin="miter"/><polygon points="2232.5,3260.7 2241.5,3277.5 2223.5,3277.5" fill="#fff" stroke="#0f0" stroke-width="2.6" stroke-linejoin="miter"/></g>
<polyline points="345.7,2486 368.2,2522.7 390.6,2565 413.1,2606 435.5,2643 458,2677.9 480.5,2712.2 502.9,2749.6 525.4,2787.3 547.9,2822.9 570.3,2858.2 592.8,2893.2 615.2,2926.9 637.7,2955.9 660.2,2982.1 682.6,3004.4 705.1,3021.7 727.6,3033.7 750,3041 772.5,3047.9 794.9,3055 817.4,3062.5 839.9,3072.8 862.3,3084.7 884.8,3096.1 907.2,3110.6 929.7,3128.8 952.2,3148.2 974.6,3167.7 997.1,3185.3 1019.6,3198.4 1040.4,3206.6 1068.7,3209.9 1086.9,3209.5 1109.4,3206.9 1131.9,3201.6 1154.3,3194.5 1176.8,3187.5 1199.3,3179.7 1221.7,3171.1 1244.2,3162.6 1266.6,3154 1289.1,3146.1 1311.6,3138.3 1334,3129.9 1356.5,3120.9 1379,3111.3 1401.4,3101.3 1423.9,3092.5 1446.3,3084.7 1468.8,3076.4 1491.3,3067.8 1513.7,3059.3 1536.2,3051.2 1558.6,3043.7 1581.1,3036.2 1603.6,3029.3 1626,3023.3 1648.5,3017.1 1671,3011.5 1693.4,3007.4 1715.9,3004.3 1738.3,3002.6 1760.8,3002.7 1783.3,3004.2 1805.7,3006.9 1828.2,3010.8 1850.7,3016.1 1873.1,3022.7 1895.6,3030.5 1918,3040.3 1940.5,3052.3 1963,3064.6 1985.4,3077.3 2007.9,3092.1 2030.4,3108.4 2052.8,3126.1 2075.3,3144.7 2097.7,3163.8 2120.2,3183 2142.7,3202.1 2165.1,3220.2 2187.6,3237.7 2210,3247.7 2232.5,3256" fill="none" stroke="#00f" stroke-width="4.9" stroke-linejoin="round"/>
<g><polygon points="345.7,2473.5 349.2,2481.9 358.3,2482.6 351.3,2488.5 353.5,2497.4 345.7,2492.6 337.9,2497.4 340.1,2488.5 333.1,2482.6 342.2,2481.9" fill="#00f"/><polygon points="368.2,2510.2 371.7,2518.6 380.7,2519.3 373.8,2525.2 375.9,2534.1 368.2,2529.3 360.4,2534.1 362.5,2525.2 355.6,2519.3 364.7,2518.6" fill="#00f"/><polygon points="390.6,2552.5 394.1,2560.9 403.2,2561.6 396.3,2567.5 398.4,2576.4 390.6,2571.6 382.9,2576.4 385,2567.5 378.1,2561.6 387.1,2560.9" fill="#00f"/><polygon points="413.1,2593.5 416.6,2601.9 425.6,2602.6 418.7,2608.5 420.8,2617.4 413.1,2612.6 405.3,2617.4 407.4,2608.5 400.5,2602.6 409.6,2601.9" fill="#00f"/><polygon points="435.5,2630.5 439,2638.9 448.1,2639.6 441.2,2645.5 443.3,2654.3 435.5,2649.6 427.8,2654.3 429.9,2645.5 423,2639.6 432.1,2638.9" fill="#00f"/><polygon points="458,2665.4 461.5,2673.8 470.6,2674.5 463.7,2680.4 465.8,2689.3 458,2684.5 450.3,2689.3 452.4,2680.4 445.5,2674.5 454.5,2673.8" fill="#00f"/><polygon points="480.5,2699.7 484,2708.1 493,2708.8 486.1,2714.8 488.2,2723.6 480.5,2718.9 472.7,2723.6 474.8,2714.8 467.9,2708.8 477,2708.1" fill="#00f"/><polygon points="502.9,2737.1 506.4,2745.5 515.5,2746.2 508.6,2752.1 510.7,2760.9 502.9,2756.2 495.2,2760.9 497.3,2752.1 490.4,2746.2 499.4,2745.5" fill="#00f"/><polygon points="525.4,2774.8 528.9,2783.2 537.9,2783.9 531,2789.8 533.2,2798.6 525.4,2793.9 517.6,2798.6 519.7,2789.8 512.8,2783.9 521.9,2783.2" fill="#00f"/><polygon points="547.9,2810.4 551.3,2818.8 560.4,2819.5 553.5,2825.5 555.6,2834.3 547.9,2829.6 540.1,2834.3 542.2,2825.5 535.3,2819.5 544.4,2818.8" fill="#00f"/><polygon points="570.3,2845.7 573.8,2854.1 582.9,2854.9 576,2860.8 578.1,2869.6 570.3,2864.9 562.6,2869.6 564.7,2860.8 557.8,2854.9 566.8,2854.1" fill="#00f"/><polygon points="592.8,2880.7 596.3,2889.1 605.3,2889.8 598.4,2895.7 600.5,2904.6 592.8,2899.8 585,2904.6 587.1,2895.7 580.2,2889.8 589.3,2889.1" fill="#00f"/><polygon points="615.2,2914.4 618.7,2922.8 627.8,2923.5 620.9,2929.4 623,2938.3 615.2,2933.5 607.5,2938.3 609.6,2929.4 602.7,2923.5 611.8,2922.8" fill="#00f"/><polygon points="637.7,2943.4 641.2,2951.8 650.3,2952.5 643.4,2958.4 645.5,2967.3 637.7,2962.5 629.9,2967.3 632.1,2958.4 625.2,2952.5 634.2,2951.8" fill="#00f"/><polygon points="660.2,2969.6 663.7,2978 672.7,2978.7 665.8,2984.6 667.9,2993.5 660.2,2988.7 652.4,2993.5 654.5,2984.6 647.6,2978.7 656.7,2978" fill="#00f"/><polygon points="682.6,2991.9 686.1,3000.3 695.2,3001 688.3,3006.9 690.4,3015.8 682.6,3011 674.9,3015.8 677,3006.9 670.1,3001 679.1,3000.3" fill="#00f"/><polygon points="705.1,3009.2 708.6,3017.6 717.6,3018.3 710.7,3024.2 712.9,3033.1 705.1,3028.3 697.3,3033.1 699.4,3024.2 692.5,3018.3 701.6,3017.6" fill="#00f"/><polygon points="727.6,3021.2 731,3029.6 740.1,3030.3 733.2,3036.2 735.3,3045.1 727.6,3040.3 719.8,3045.1 721.9,3036.2 715,3030.3 724.1,3029.6" fill="#00f"/><polygon points="750,3028.5 753.5,3036.9 762.6,3037.7 755.7,3043.6 757.8,3052.4 750,3047.7 742.3,3052.4 744.4,3043.6 737.5,3037.7 746.5,3036.9" fill="#00f"/><polygon points="772.5,3035.4 776,3043.8 785,3044.5 778.1,3050.4 780.2,3059.3 772.5,3054.5 764.7,3059.3 766.8,3050.4 759.9,3044.5 769,3043.8" fill="#00f"/><polygon points="794.9,3042.5 798.4,3050.9 807.5,3051.6 800.6,3057.6 802.7,3066.4 794.9,3061.7 787.2,3066.4 789.3,3057.6 782.4,3051.6 791.4,3050.9" fill="#00f"/><polygon points="817.4,3050 820.9,3058.4 830,3059.1 823.1,3065.1 825.2,3073.9 817.4,3069.2 809.6,3073.9 811.8,3065.1 804.8,3059.1 813.9,3058.4" fill="#00f"/><polygon points="839.9,3060.3 843.4,3068.7 852.4,3069.4 845.5,3075.3 847.6,3084.2 839.9,3079.4 832.1,3084.2 834.2,3075.3 827.3,3069.4 836.4,3068.7" fill="#00f"/><polygon points="862.3,3072.2 865.8,3080.6 874.9,3081.4 868,3087.3 870.1,3096.1 862.3,3091.4 854.6,3096.1 856.7,3087.3 849.8,3081.4 858.8,3080.6" fill="#00f"/><polygon points="884.8,3083.6 888.3,3092 897.3,3092.7 890.4,3098.7 892.5,3107.5 884.8,3102.8 877,3107.5 879.1,3098.7 872.2,3092.7 881.3,3092" fill="#00f"/><polygon points="907.2,3098.1 910.7,3106.5 919.8,3107.2 912.9,3113.1 915,3121.9 907.2,3117.2 899.5,3121.9 901.6,3113.1 894.7,3107.2 903.8,3106.5" fill="#00f"/><polygon points="929.7,3116.3 933.2,3124.7 942.3,3125.4 935.4,3131.3 937.5,3140.2 929.7,3135.4 922,3140.2 924.1,3131.3 917.2,3125.4 926.2,3124.7" fill="#00f"/><polygon points="952.2,3135.7 955.7,3144.1 964.7,3144.8 957.8,3150.7 959.9,3159.5 952.2,3154.8 944.4,3159.5 946.5,3150.7 939.6,3144.8 948.7,3144.1" fill="#00f"/><polygon points="974.6,3155.2 978.1,3163.6 987.2,3164.3 980.3,3170.2 982.4,3179.1 974.6,3174.3 966.9,3179.1 969,3170.2 962.1,3164.3 971.1,3163.6" fill="#00f"/><polygon points="997.1,3172.8 1000.6,3181.2 1009.7,3182 1002.7,3187.9 1004.9,3196.7 997.1,3192 989.3,3196.7 991.4,3187.9 984.5,3182 993.6,3181.2" fill="#00f"/><polygon points="1019.6,3185.9 1023.1,3194.3 1032.1,3195 1025.2,3200.9 1027.3,3209.7 1019.6,3205 1011.8,3209.7 1013.9,3200.9 1007,3195 1016.1,3194.3" fill="#00f"/><polygon points="1040.4,3194.1 1043.9,3202.5 1053,3203.2 1046.1,3209.2 1048.2,3218 1040.4,3213.3 1032.7,3218 1034.8,3209.2 1027.9,3203.2 1036.9,3202.5" fill="#00f"/><polygon points="1068.7,3197.4 1072.2,3205.8 1081.2,3206.6 1074.3,3212.5 1076.4,3221.3 1068.7,3216.6 1060.9,3221.3 1063,3212.5 1056.1,3206.6 1065.2,3205.8" fill="#00f"/><polygon points="1086.9,3197 1090.4,3205.4 1099.5,3206.1 1092.6,3212 1094.7,3220.8 1086.9,3216.1 1079.2,3220.8 1081.3,3212 1074.4,3206.1 1083.5,3205.4" fill="#00f"/><polygon points="1109.4,3194.4 1112.9,3202.8 1122,3203.6 1115.1,3209.5 1117.2,3218.3 1109.4,3213.6 1101.6,3218.3 1103.8,3209.5 1096.9,3203.6 1105.9,3202.8" fill="#00f"/><polygon points="1131.9,3189.1 1135.4,3197.5 1144.4,3198.2 1137.5,3204.1 1139.6,3213 1131.9,3208.2 1124.1,3213 1126.2,3204.1 1119.3,3198.2 1128.4,3197.5" fill="#00f"/><polygon points="1154.3,3182 1157.8,3190.4 1166.9,3191.1 1160,3197 1162.1,3205.8 1154.3,3201.1 1146.6,3205.8 1148.7,3197 1141.8,3191.1 1150.8,3190.4" fill="#00f"/><polygon points="1176.8,3175 1180.3,3183.4 1189.3,3184.1 1182.4,3190 1184.6,3198.8 1176.8,3194.1 1169,3198.8 1171.1,3190 1164.2,3184.1 1173.3,3183.4" fill="#00f"/><polygon points="1199.3,3167.2 1202.7,3175.6 1211.8,3176.4 1204.9,3182.3 1207,3191.1 1199.3,3186.4 1191.5,3191.1 1193.6,3182.3 1186.7,3176.4 1195.8,3175.6" fill="#00f"/><polygon points="1221.7,3158.6 1225.2,3167 1234.3,3167.8 1227.4,3173.7 1229.5,3182.5 1221.7,3177.8 1214,3182.5 1216.1,3173.7 1209.2,3167.8 1218.2,3167" fill="#00f"/><polygon points="1244.2,3150.1 1247.7,3158.5 1256.7,3159.2 1249.8,3165.1 1251.9,3174 1244.2,3169.2 1236.4,3174 1238.5,3165.1 1231.6,3159.2 1240.7,3158.5" fill="#00f"/><polygon points="1266.6,3141.5 1270.1,3149.9 1279.2,3150.6 1272.3,3156.6 1274.4,3165.4 1266.6,3160.7 1258.9,3165.4 1261,3156.6 1254.1,3150.6 1263.2,3149.9" fill="#00f"/><polygon points="1289.1,3133.6 1292.6,3142 1301.7,3142.7 1294.8,3148.6 1296.9,3157.4 1289.1,3152.7 1281.3,3157.4 1283.5,3148.6 1276.6,3142.7 1285.6,3142" fill="#00f"/><polygon points="1311.6,3125.8 1315.1,3134.2 1324.1,3134.9 1317.2,3140.8 1319.3,3149.7 1311.6,3144.9 1303.8,3149.7 1305.9,3140.8 1299,3134.9 1308.1,3134.2" fill="#00f"/><polygon points="1334,3117.4 1337.5,3125.8 1346.6,3126.5 1339.7,3132.4 1341.8,3141.3 1334,3136.5 1326.3,3141.3 1328.4,3132.4 1321.5,3126.5 1330.5,3125.8" fill="#00f"/><polygon points="1356.5,3108.4 1360,3116.8 1369,3117.5 1362.1,3123.4 1364.2,3132.3 1356.5,3127.5 1348.7,3132.3 1350.8,3123.4 1343.9,3117.5 1353,3116.8" fill="#00f"/><polygon points="1379,3098.8 1382.4,3107.2 1391.5,3107.9 1384.6,3113.8 1386.7,3122.7 1379,3117.9 1371.2,3122.7 1373.3,3113.8 1366.4,3107.9 1375.5,3107.2" fill="#00f"/><polygon points="1401.4,3088.8 1404.9,3097.2 1414,3097.9 1407.1,3103.9 1409.2,3112.7 1401.4,3108 1393.7,3112.7 1395.8,3103.9 1388.9,3097.9 1397.9,3097.2" fill="#00f"/><polygon points="1423.9,3080 1427.4,3088.4 1436.4,3089.1 1429.5,3095 1431.6,3103.8 1423.9,3099.1 1416.1,3103.8 1418.2,3095 1411.3,3089.1 1420.4,3088.4" fill="#00f"/><polygon points="1446.3,3072.2 1449.8,3080.6 1458.9,3081.3 1452,3087.3 1454.1,3096.1 1446.3,3091.4 1438.6,3096.1 1440.7,3087.3 1433.8,3081.3 1442.8,3080.6" fill="#00f"/><polygon points="1468.8,3063.9 1472.3,3072.3 1481.4,3073.1 1474.4,3079 1476.6,3087.8 1468.8,3083.1 1461,3087.8 1463.2,3079 1456.2,3073.1 1465.3,3072.3" fill="#00f"/><polygon points="1491.3,3055.3 1494.8,3063.7 1503.8,3064.4 1496.9,3070.3 1499,3079.1 1491.3,3074.4 1483.5,3079.1 1485.6,3070.3 1478.7,3064.4 1487.8,3063.7" fill="#00f"/><polygon points="1513.7,3046.8 1517.2,3055.2 1526.3,3055.9 1519.4,3061.8 1521.5,3070.6 1513.7,3065.9 1506,3070.6 1508.1,3061.8 1501.2,3055.9 1510.2,3055.2" fill="#00f"/><polygon points="1536.2,3038.7 1539.7,3047.1 1548.7,3047.8 1541.8,3053.7 1543.9,3062.6 1536.2,3057.8 1528.4,3062.6 1530.5,3053.7 1523.6,3047.8 1532.7,3047.1" fill="#00f"/><polygon points="1558.6,3031.2 1562.1,3039.6 1571.2,3040.3 1564.3,3046.2 1566.4,3055.1 1558.6,3050.3 1550.9,3055.1 1553,3046.2 1546.1,3040.3 1555.2,3039.6" fill="#00f"/><polygon points="1581.1,3023.7 1584.6,3032.1 1593.7,3032.8 1586.8,3038.7 1588.9,3047.5 1581.1,3042.8 1573.4,3047.5 1575.5,3038.7 1568.6,3032.8 1577.6,3032.1" fill="#00f"/><polygon points="1603.6,3016.8 1607.1,3025.2 1616.1,3025.9 1609.2,3031.8 1611.3,3040.7 1603.6,3035.9 1595.8,3040.7 1597.9,3031.8 1591,3025.9 1600.1,3025.2" fill="#00f"/><polygon points="1626,3010.8 1629.5,3019.2 1638.6,3019.9 1631.7,3025.8 1633.8,3034.7 1626,3029.9 1618.3,3034.7 1620.4,3025.8 1613.5,3019.9 1622.5,3019.2" fill="#00f"/><polygon points="1648.5,3004.6 1652,3013 1661,3013.7 1654.1,3019.6 1656.3,3028.5 1648.5,3023.7 1640.7,3028.5 1642.8,3019.6 1635.9,3013.7 1645,3013" fill="#00f"/><polygon points="1671,2999 1674.4,3007.4 1683.5,3008.1 1676.6,3014 1678.7,3022.8 1671,3018.1 1663.2,3022.8 1665.3,3014 1658.4,3008.1 1667.5,3007.4" fill="#00f"/><polygon points="1693.4,2994.9 1696.9,3003.3 1706,3004 1699.1,3009.9 1701.2,3018.8 1693.4,3014 1685.7,3018.8 1687.8,3009.9 1680.9,3004 1689.9,3003.3" fill="#00f"/><polygon points="1715.9,2991.8 1719.4,3000.2 1728.4,3000.9 1721.5,3006.9 1723.6,3015.7 1715.9,3011 1708.1,3015.7 1710.2,3006.9 1703.3,3000.9 1712.4,3000.2" fill="#00f"/><polygon points="1738.3,2990.1 1741.8,2998.5 1750.9,2999.3 1744,3005.2 1746.1,3014 1738.3,3009.3 1730.6,3014 1732.7,3005.2 1725.8,2999.3 1734.9,2998.5" fill="#00f"/><polygon points="1760.8,2990.2 1764.3,2998.6 1773.4,2999.3 1766.5,3005.2 1768.6,3014 1760.8,3009.3 1753,3014 1755.2,3005.2 1748.3,2999.3 1757.3,2998.6" fill="#00f"/><polygon points="1783.3,2991.7 1786.8,3000.1 1795.8,3000.9 1788.9,3006.8 1791,3015.6 1783.3,3010.9 1775.5,3015.6 1777.6,3006.8 1770.7,3000.9 1779.8,3000.1" fill="#00f"/><polygon points="1805.7,2994.4 1809.2,3002.8 1818.3,3003.5 1811.4,3009.4 1813.5,3018.3 1805.7,3013.5 1798,3018.3 1800.1,3009.4 1793.2,3003.5 1802.2,3002.8" fill="#00f"/><polygon points="1828.2,2998.3 1831.7,3006.7 1840.7,3007.4 1833.8,3013.3 1836,3022.2 1828.2,3017.4 1820.4,3022.2 1822.5,3013.3 1815.6,3007.4 1824.7,3006.7" fill="#00f"/><polygon points="1850.7,3003.6 1854.1,3012 1863.2,3012.7 1856.3,3018.6 1858.4,3027.5 1850.7,3022.7 1842.9,3027.5 1845,3018.6 1838.1,3012.7 1847.2,3012" fill="#00f"/><polygon points="1873.1,3010.2 1876.6,3018.6 1885.7,3019.3 1878.8,3025.2 1880.9,3034 1873.1,3029.3 1865.4,3034 1867.5,3025.2 1860.6,3019.3 1869.6,3018.6" fill="#00f"/><polygon points="1895.6,3018 1899.1,3026.4 1908.1,3027.1 1901.2,3033 1903.3,3041.8 1895.6,3037.1 1887.8,3041.8 1889.9,3033 1883,3027.1 1892.1,3026.4" fill="#00f"/><polygon points="1918,3027.8 1921.5,3036.2 1930.6,3037 1923.7,3042.9 1925.8,3051.7 1918,3047 1910.3,3051.7 1912.4,3042.9 1905.5,3037 1914.5,3036.2" fill="#00f"/><polygon points="1940.5,3039.8 1944,3048.2 1953.1,3048.9 1946.2,3054.8 1948.3,3063.7 1940.5,3058.9 1932.7,3063.7 1934.9,3054.8 1927.9,3048.9 1937,3048.2" fill="#00f"/><polygon points="1963,3052.1 1966.5,3060.5 1975.5,3061.3 1968.6,3067.2 1970.7,3076 1963,3071.3 1955.2,3076 1957.3,3067.2 1950.4,3061.3 1959.5,3060.5" fill="#00f"/><polygon points="1985.4,3064.8 1988.9,3073.2 1998,3073.9 1991.1,3079.8 1993.2,3088.6 1985.4,3083.9 1977.7,3088.6 1979.8,3079.8 1972.9,3073.9 1981.9,3073.2" fill="#00f"/><polygon points="2007.9,3079.6 2011.4,3088 2020.4,3088.7 2013.5,3094.6 2015.6,3103.5 2007.9,3098.7 2000.1,3103.5 2002.2,3094.6 1995.3,3088.7 2004.4,3088" fill="#00f"/><polygon points="2030.4,3095.9 2033.8,3104.3 2042.9,3105 2036,3110.9 2038.1,3119.8 2030.4,3115 2022.6,3119.8 2024.7,3110.9 2017.8,3105 2026.9,3104.3" fill="#00f"/><polygon points="2052.8,3113.6 2056.3,3122 2065.4,3122.7 2058.5,3128.7 2060.6,3137.5 2052.8,3132.8 2045.1,3137.5 2047.2,3128.7 2040.3,3122.7 2049.3,3122" fill="#00f"/><polygon points="2075.3,3132.2 2078.8,3140.6 2087.8,3141.3 2080.9,3147.3 2083,3156.1 2075.3,3151.4 2067.5,3156.1 2069.6,3147.3 2062.7,3141.3 2071.8,3140.6" fill="#00f"/><polygon points="2097.7,3151.3 2101.2,3159.7 2110.3,3160.4 2103.4,3166.3 2105.5,3175.2 2097.7,3170.4 2090,3175.2 2092.1,3166.3 2085.2,3160.4 2094.2,3159.7" fill="#00f"/><polygon points="2120.2,3170.5 2123.7,3178.9 2132.8,3179.6 2125.8,3185.6 2128,3194.4 2120.2,3189.7 2112.4,3194.4 2114.5,3185.6 2107.6,3179.6 2116.7,3178.9" fill="#00f"/><polygon points="2142.7,3189.6 2146.2,3198 2155.2,3198.7 2148.3,3204.6 2150.4,3213.4 2142.7,3208.7 2134.9,3213.4 2137,3204.6 2130.1,3198.7 2139.2,3198" fill="#00f"/><polygon points="2165.1,3207.7 2168.6,3216.1 2177.7,3216.9 2170.8,3222.8 2172.9,3231.6 2165.1,3226.9 2157.4,3231.6 2159.5,3222.8 2152.6,3216.9 2161.6,3216.1" fill="#00f"/><polygon points="2187.6,3225.2 2191.1,3233.6 2200.1,3234.3 2193.2,3240.2 2195.3,3249.1 2187.6,3244.3 2179.8,3249.1 2181.9,3240.2 2175,3234.3 2184.1,3233.6" fill="#00f"/><polygon points="2210,3235.2 2213.5,3243.6 2222.6,3244.3 2215.7,3250.2 2217.8,3259.1 2210,3254.3 2202.3,3259.1 2204.4,3250.2 2197.5,3244.3 2206.6,3243.6" fill="#00f"/><polygon points="2232.5,3243.5 2236,3251.9 2245.1,3252.6 2238.2,3258.5 2240.3,3267.4 2232.5,3262.6 2224.7,3267.4 2226.9,3258.5 2220,3252.6 2229,3251.9" fill="#00f"/></g>
<polyline points="345.7,2301.5 368.2,2337 390.6,2373.8 413.1,2413.3 435.5,2453.3 458,2493.5 480.5,2534.9 502.9,2576.1 525.4,2616 547.9,2655.7 570.3,2695.4 592.8,2732.4 615.2,2768.8 637.7,2806 660.2,2843.8 682.6,2878.3 705.1,2910.8 727.6,2942.7 750,2973.2 772.5,3000 794.9,3026 817.4,3049.8 839.9,3069.4 862.3,3084.6 884.8,3095.7 907.2,3107.1 929.7,3116.5 952.2,3123.4 974.6,3131.2 997.1,3141.2 1019.6,3153.8 1040.4,3167.9 1068.7,3183.3 1086.9,3197.1 1109.4,3207.1 1131.9,3213.8 1154.3,3216.8 1176.8,3216.8 1199.3,3214.1 1221.7,3209.4 1244.2,3203.4 1266.6,3195.9 1289.1,3187.6 1311.6,3178.6 1334,3169.1 1356.5,3159.6 1379,3150 1401.4,3140.6 1423.9,3132.2 1446.3,3124.3 1468.8,3116 1491.3,3107.8 1513.7,3099.3 1536.2,3090.8 1558.6,3082.2 1581.1,3073.7 1603.6,3065.8 1626,3058 1648.5,3050.6 1671,3043.8 1693.4,3037.2 1715.9,3031.5 1738.3,3027.4 1760.8,3024.4 1783.3,3022.3 1805.7,3021.5 1828.2,3022.2 1850.7,3024.1 1873.1,3027.3 1895.6,3032 1918,3038.2 1940.5,3045.5 1963,3053.7 1985.4,3062.4 2007.9,3072.5 2030.4,3084.3 2052.8,3098 2075.3,3113.2 2097.7,3129.4 2120.2,3146.5 2142.7,3163.7 2165.1,3180.3 2187.6,3196.5 2210,3205 2232.5,3212" fill="none" stroke="#00f" stroke-width="4.9" stroke-linejoin="round"/>
<g><polygon points="345.7,2289.4 349.1,2297.5 357.9,2298.2 351.2,2304 353.2,2312.6 345.7,2308 338.2,2312.6 340.2,2304 333.5,2298.2 342.3,2297.5" fill="#00f"/><polygon points="345.7,2296.8 347.1,2300.2 350.8,2300.5 348,2303 348.9,2306.6 345.7,2304.6 342.5,2306.6 343.4,2303 340.6,2300.5 344.3,2300.2" fill="#fff"/><polygon points="368.2,2324.9 371.5,2333 380.3,2333.7 373.6,2339.5 375.7,2348.1 368.2,2343.5 360.6,2348.1 362.7,2339.5 356,2333.7 364.8,2333" fill="#00f"/><polygon points="368.2,2332.3 369.6,2335.7 373.3,2336 370.5,2338.5 371.3,2342.1 368.2,2340.1 365,2342.1 365.9,2338.5 363,2336 366.7,2335.7" fill="#fff"/><polygon points="390.6,2361.7 394,2369.8 402.8,2370.5 396.1,2376.3 398.1,2384.9 390.6,2380.3 383.1,2384.9 385.1,2376.3 378.5,2370.5 387.2,2369.8" fill="#00f"/><polygon points="390.6,2369.1 392.1,2372.5 395.8,2372.8 392.9,2375.3 393.8,2378.9 390.6,2376.9 387.4,2378.9 388.3,2375.3 385.5,2372.8 389.2,2372.5" fill="#fff"/><polygon points="413.1,2401.2 416.5,2409.3 425.3,2410 418.6,2415.7 420.6,2424.3 413.1,2419.7 405.6,2424.3 407.6,2415.7 400.9,2410 409.7,2409.3" fill="#00f"/><polygon points="413.1,2408.6 414.5,2412 418.2,2412.3 415.4,2414.7 416.3,2418.3 413.1,2416.4 409.9,2418.3 410.8,2414.7 408,2412.3 411.7,2412" fill="#fff"/><polygon points="435.5,2441.2 438.9,2449.3 447.7,2450 441,2455.8 443.1,2464.4 435.5,2459.8 428,2464.4 430.1,2455.8 423.4,2450 432.2,2449.3" fill="#00f"/><polygon points="435.5,2448.6 437,2452 440.7,2452.3 437.9,2454.8 438.7,2458.4 435.5,2456.4 432.4,2458.4 433.2,2454.8 430.4,2452.3 434.1,2452" fill="#fff"/><polygon points="458,2481.4 461.4,2489.5 470.2,2490.2 463.5,2496 465.5,2504.6 458,2500 450.5,2504.6 452.5,2496 445.8,2490.2 454.6,2489.5" fill="#00f"/><polygon points="458,2488.8 459.4,2492.2 463.1,2492.5 460.3,2495 461.2,2498.6 458,2496.6 454.8,2498.6 455.7,2495 452.9,2492.5 456.6,2492.2" fill="#fff"/><polygon points="480.5,2522.8 483.9,2530.9 492.6,2531.6 486,2537.4 488,2546 480.5,2541.4 472.9,2546 475,2537.4 468.3,2531.6 477.1,2530.9" fill="#00f"/><polygon points="480.5,2530.2 481.9,2533.6 485.6,2533.9 482.8,2536.4 483.6,2540 480.5,2538 477.3,2540 478.2,2536.4 475.3,2533.9 479,2533.6" fill="#fff"/><polygon points="502.9,2564 506.3,2572.1 515.1,2572.8 508.4,2578.6 510.5,2587.2 502.9,2582.6 495.4,2587.2 497.5,2578.6 490.8,2572.8 499.5,2572.1" fill="#00f"/><polygon points="502.9,2571.4 504.4,2574.8 508.1,2575.1 505.2,2577.6 506.1,2581.2 502.9,2579.2 499.8,2581.2 500.6,2577.6 497.8,2575.1 501.5,2574.8" fill="#fff"/><polygon points="525.4,2603.9 528.8,2612 537.6,2612.7 530.9,2618.5 532.9,2627 525.4,2622.4 517.9,2627 519.9,2618.5 513.2,2612.7 522,2612" fill="#00f"/><polygon points="525.4,2611.3 526.8,2614.7 530.5,2615 527.7,2617.4 528.6,2621 525.4,2619.1 522.2,2621 523.1,2617.4 520.3,2615 524,2614.7" fill="#fff"/><polygon points="547.9,2643.6 551.2,2651.8 560,2652.5 553.3,2658.2 555.4,2666.8 547.9,2662.2 540.3,2666.8 542.4,2658.2 535.7,2652.5 544.5,2651.8" fill="#00f"/><polygon points="547.9,2651 549.3,2654.5 553,2654.8 550.2,2657.2 551,2660.8 547.9,2658.8 544.7,2660.8 545.5,2657.2 542.7,2654.8 546.4,2654.5" fill="#fff"/><polygon points="570.3,2683.3 573.7,2691.4 582.5,2692.1 575.8,2697.9 577.8,2706.4 570.3,2701.8 562.8,2706.4 564.8,2697.9 558.1,2692.1 566.9,2691.4" fill="#00f"/><polygon points="570.3,2690.7 571.7,2694.1 575.5,2694.4 572.6,2696.8 573.5,2700.4 570.3,2698.5 567.1,2700.4 568,2696.8 565.2,2694.4 568.9,2694.1" fill="#fff"/><polygon points="592.8,2720.3 596.2,2728.5 605,2729.2 598.3,2734.9 600.3,2743.5 592.8,2738.9 585.3,2743.5 587.3,2734.9 580.6,2729.2 589.4,2728.5" fill="#00f"/><polygon points="592.8,2727.7 594.2,2731.2 597.9,2731.5 595.1,2733.9 596,2737.5 592.8,2735.6 589.6,2737.5 590.5,2733.9 587.6,2731.5 591.4,2731.2" fill="#fff"/><polygon points="615.2,2756.7 618.6,2764.9 627.4,2765.6 620.7,2771.3 622.8,2779.9 615.2,2775.3 607.7,2779.9 609.8,2771.3 603.1,2765.6 611.9,2764.9" fill="#00f"/><polygon points="615.2,2764.1 616.7,2767.6 620.4,2767.9 617.6,2770.3 618.4,2773.9 615.2,2771.9 612.1,2773.9 612.9,2770.3 610.1,2767.9 613.8,2767.6" fill="#fff"/><polygon points="637.7,2793.9 641.1,2802 649.9,2802.7 643.2,2808.5 645.2,2817.1 637.7,2812.5 630.2,2817.1 632.2,2808.5 625.5,2802.7 634.3,2802" fill="#00f"/><polygon points="637.7,2801.3 639.1,2804.7 642.8,2805 640,2807.5 640.9,2811.1 637.7,2809.1 634.5,2811.1 635.4,2807.5 632.6,2805 636.3,2804.7" fill="#fff"/><polygon points="660.2,2831.7 663.6,2839.8 672.3,2840.5 665.6,2846.3 667.7,2854.8 660.2,2850.2 652.6,2854.8 654.7,2846.3 648,2840.5 656.8,2839.8" fill="#00f"/><polygon points="660.2,2839.1 661.6,2842.5 665.3,2842.8 662.5,2845.2 663.3,2848.8 660.2,2846.9 657,2848.8 657.9,2845.2 655,2842.8 658.7,2842.5" fill="#fff"/><polygon points="682.6,2866.2 686,2874.3 694.8,2875 688.1,2880.8 690.2,2889.4 682.6,2884.8 675.1,2889.4 677.2,2880.8 670.5,2875 679.2,2874.3" fill="#00f"/><polygon points="682.6,2873.6 684.1,2877 687.8,2877.3 684.9,2879.8 685.8,2883.4 682.6,2881.4 679.5,2883.4 680.3,2879.8 677.5,2877.3 681.2,2877" fill="#fff"/><polygon points="705.1,2898.7 708.5,2906.9 717.3,2907.6 710.6,2913.3 712.6,2921.9 705.1,2917.3 697.6,2921.9 699.6,2913.3 692.9,2907.6 701.7,2906.9" fill="#00f"/><polygon points="705.1,2906.1 706.5,2909.6 710.2,2909.9 707.4,2912.3 708.3,2915.9 705.1,2914 701.9,2915.9 702.8,2912.3 700,2909.9 703.7,2909.6" fill="#fff"/><polygon points="727.6,2930.6 730.9,2938.8 739.7,2939.5 733,2945.2 735.1,2953.8 727.6,2949.2 720,2953.8 722.1,2945.2 715.4,2939.5 724.2,2938.8" fill="#00f"/><polygon points="727.6,2938 729,2941.5 732.7,2941.8 729.9,2944.2 730.7,2947.8 727.6,2945.9 724.4,2947.8 725.2,2944.2 722.4,2941.8 726.1,2941.5" fill="#fff"/><polygon points="750,2961.1 753.4,2969.3 762.2,2970 755.5,2975.7 757.5,2984.3 750,2979.7 742.5,2984.3 744.5,2975.7 737.8,2970 746.6,2969.3" fill="#00f"/><polygon points="750,2968.5 751.4,2972 755.2,2972.3 752.3,2974.7 753.2,2978.3 750,2976.3 746.8,2978.3 747.7,2974.7 744.9,2972.3 748.6,2972" fill="#fff"/><polygon points="772.5,2987.9 775.9,2996 784.7,2996.7 778,3002.5 780,3011 772.5,3006.4 765,3011 767,3002.5 760.3,2996.7 769.1,2996" fill="#00f"/><polygon points="772.5,2995.3 773.9,2998.7 777.6,2999 774.8,3001.4 775.7,3005 772.5,3003.1 769.3,3005 770.2,3001.4 767.3,2999 771,2998.7" fill="#fff"/><polygon points="794.9,3013.9 798.3,3022 807.1,3022.7 800.4,3028.5 802.5,3037 794.9,3032.4 787.4,3037 789.5,3028.5 782.8,3022.7 791.6,3022" fill="#00f"/><polygon points="794.9,3021.3 796.4,3024.7 800.1,3025 797.3,3027.4 798.1,3031 794.9,3029.1 791.8,3031 792.6,3027.4 789.8,3025 793.5,3024.7" fill="#fff"/><polygon points="817.4,3037.7 820.8,3045.8 829.6,3046.5 822.9,3052.3 824.9,3060.8 817.4,3056.2 809.9,3060.8 811.9,3052.3 805.2,3046.5 814,3045.8" fill="#00f"/><polygon points="817.4,3045.1 818.8,3048.5 822.5,3048.8 819.7,3051.2 820.6,3054.8 817.4,3052.9 814.2,3054.8 815.1,3051.2 812.3,3048.8 816,3048.5" fill="#fff"/><polygon points="839.9,3057.3 843.2,3065.4 852,3066.1 845.3,3071.8 847.4,3080.4 839.9,3075.8 832.3,3080.4 834.4,3071.8 827.7,3066.1 836.5,3065.4" fill="#00f"/><polygon points="839.9,3064.7 841.3,3068.1 845,3068.4 842.2,3070.8 843,3074.4 839.9,3072.5 836.7,3074.4 837.6,3070.8 834.7,3068.4 838.4,3068.1" fill="#fff"/><polygon points="862.3,3072.5 865.7,3080.6 874.5,3081.3 867.8,3087.1 869.8,3095.7 862.3,3091.1 854.8,3095.7 856.8,3087.1 850.2,3081.3 858.9,3080.6" fill="#00f"/><polygon points="862.3,3079.9 863.8,3083.3 867.5,3083.6 864.6,3086.1 865.5,3089.7 862.3,3087.7 859.2,3089.7 860,3086.1 857.2,3083.6 860.9,3083.3" fill="#fff"/><polygon points="884.8,3083.6 888.2,3091.8 897,3092.5 890.3,3098.2 892.3,3106.8 884.8,3102.2 877.3,3106.8 879.3,3098.2 872.6,3092.5 881.4,3091.8" fill="#00f"/><polygon points="884.8,3091 886.2,3094.5 889.9,3094.8 887.1,3097.2 888,3100.8 884.8,3098.9 881.6,3100.8 882.5,3097.2 879.7,3094.8 883.4,3094.5" fill="#fff"/><polygon points="907.2,3095 910.6,3103.1 919.4,3103.8 912.7,3109.6 914.8,3118.1 907.2,3113.5 899.7,3118.1 901.8,3109.6 895.1,3103.8 903.9,3103.1" fill="#00f"/><polygon points="907.2,3102.4 908.7,3105.8 912.4,3106.1 909.6,3108.5 910.4,3112.1 907.2,3110.2 904.1,3112.1 904.9,3108.5 902.1,3106.1 905.8,3105.8" fill="#fff"/><polygon points="929.7,3104.4 933.1,3112.6 941.9,3113.3 935.2,3119 937.2,3127.6 929.7,3123 922.2,3127.6 924.2,3119 917.5,3113.3 926.3,3112.6" fill="#00f"/><polygon points="929.7,3111.8 931.1,3115.3 934.8,3115.6 932,3118 932.9,3121.6 929.7,3119.6 926.5,3121.6 927.4,3118 924.6,3115.6 928.3,3115.3" fill="#fff"/><polygon points="952.2,3111.3 955.6,3119.5 964.3,3120.2 957.7,3125.9 959.7,3134.5 952.2,3129.9 944.7,3134.5 946.7,3125.9 940,3120.2 948.8,3119.5" fill="#00f"/><polygon points="952.2,3118.7 953.6,3122.2 957.3,3122.5 954.5,3124.9 955.3,3128.5 952.2,3126.5 949,3128.5 949.9,3124.9 947,3122.5 950.7,3122.2" fill="#fff"/><polygon points="974.6,3119.1 978,3127.2 986.8,3127.9 980.1,3133.6 982.2,3142.2 974.6,3137.6 967.1,3142.2 969.2,3133.6 962.5,3127.9 971.3,3127.2" fill="#00f"/><polygon points="974.6,3126.5 976.1,3129.9 979.8,3130.2 976.9,3132.6 977.8,3136.2 974.6,3134.3 971.5,3136.2 972.3,3132.6 969.5,3130.2 973.2,3129.9" fill="#fff"/><polygon points="997.1,3129.1 1000.5,3137.2 1009.3,3137.9 1002.6,3143.6 1004.6,3152.2 997.1,3147.6 989.6,3152.2 991.6,3143.6 984.9,3137.9 993.7,3137.2" fill="#00f"/><polygon points="997.1,3136.5 998.5,3139.9 1002.2,3140.2 999.4,3142.6 1000.3,3146.2 997.1,3144.3 993.9,3146.2 994.8,3142.6 992,3140.2 995.7,3139.9" fill="#fff"/><polygon points="1019.6,3141.7 1022.9,3149.9 1031.7,3150.6 1025,3156.3 1027.1,3164.9 1019.6,3160.3 1012,3164.9 1014.1,3156.3 1007.4,3150.6 1016.2,3149.9" fill="#00f"/><polygon points="1019.6,3149.1 1021,3152.6 1024.7,3152.9 1021.9,3155.3 1022.7,3158.9 1019.6,3156.9 1016.4,3158.9 1017.2,3155.3 1014.4,3152.9 1018.1,3152.6" fill="#fff"/><polygon points="1040.4,3155.8 1043.8,3163.9 1052.6,3164.6 1045.9,3170.4 1047.9,3179 1040.4,3174.4 1032.9,3179 1034.9,3170.4 1028.2,3164.6 1037,3163.9" fill="#00f"/><polygon points="1040.4,3163.2 1041.9,3166.6 1045.6,3166.9 1042.7,3169.4 1043.6,3173 1040.4,3171 1037.2,3173 1038.1,3169.4 1035.3,3166.9 1039,3166.6" fill="#fff"/><polygon points="1068.7,3171.2 1072.1,3179.4 1080.9,3180.1 1074.2,3185.8 1076.2,3194.4 1068.7,3189.8 1061.2,3194.4 1063.2,3185.8 1056.5,3180.1 1065.3,3179.4" fill="#00f"/><polygon points="1068.7,3178.6 1070.1,3182.1 1073.8,3182.4 1071,3184.8 1071.9,3188.4 1068.7,3186.5 1065.5,3188.4 1066.4,3184.8 1063.5,3182.4 1067.3,3182.1" fill="#fff"/><polygon points="1086.9,3185 1090.3,3193.1 1099.1,3193.8 1092.4,3199.6 1094.5,3208.2 1086.9,3203.6 1079.4,3208.2 1081.5,3199.6 1074.8,3193.8 1083.6,3193.1" fill="#00f"/><polygon points="1086.9,3192.4 1088.4,3195.8 1092.1,3196.1 1089.3,3198.6 1090.1,3202.2 1086.9,3200.2 1083.8,3202.2 1084.6,3198.6 1081.8,3196.1 1085.5,3195.8" fill="#fff"/><polygon points="1109.4,3195 1112.8,3203.2 1121.6,3203.9 1114.9,3209.6 1116.9,3218.2 1109.4,3213.6 1101.9,3218.2 1103.9,3209.6 1097.2,3203.9 1106,3203.2" fill="#00f"/><polygon points="1109.4,3202.4 1110.8,3205.9 1114.5,3206.2 1111.7,3208.6 1112.6,3212.2 1109.4,3210.3 1106.2,3212.2 1107.1,3208.6 1104.3,3206.2 1108,3205.9" fill="#fff"/><polygon points="1131.9,3201.7 1135.3,3209.8 1144,3210.5 1137.3,3216.2 1139.4,3224.8 1131.9,3220.2 1124.3,3224.8 1126.4,3216.2 1119.7,3210.5 1128.5,3209.8" fill="#00f"/><polygon points="1131.9,3209.1 1133.3,3212.5 1137,3212.8 1134.2,3215.2 1135,3218.8 1131.9,3216.9 1128.7,3218.8 1129.6,3215.2 1126.7,3212.8 1130.4,3212.5" fill="#fff"/><polygon points="1154.3,3204.7 1157.7,3212.8 1166.5,3213.5 1159.8,3219.2 1161.9,3227.8 1154.3,3223.2 1146.8,3227.8 1148.9,3219.2 1142.2,3213.5 1150.9,3212.8" fill="#00f"/><polygon points="1154.3,3212.1 1155.8,3215.5 1159.5,3215.8 1156.6,3218.2 1157.5,3221.8 1154.3,3219.9 1151.2,3221.8 1152,3218.2 1149.2,3215.8 1152.9,3215.5" fill="#fff"/><polygon points="1176.8,3204.7 1180.2,3212.8 1189,3213.5 1182.3,3219.2 1184.3,3227.8 1176.8,3223.2 1169.3,3227.8 1171.3,3219.2 1164.6,3213.5 1173.4,3212.8" fill="#00f"/><polygon points="1176.8,3212.1 1178.2,3215.5 1181.9,3215.8 1179.1,3218.2 1180,3221.8 1176.8,3219.9 1173.6,3221.8 1174.5,3218.2 1171.7,3215.8 1175.4,3215.5" fill="#fff"/><polygon points="1199.3,3202 1202.6,3210.2 1211.4,3210.9 1204.7,3216.6 1206.8,3225.2 1199.3,3220.6 1191.7,3225.2 1193.8,3216.6 1187.1,3210.9 1195.9,3210.2" fill="#00f"/><polygon points="1199.3,3209.4 1200.7,3212.9 1204.4,3213.2 1201.6,3215.6 1202.4,3219.2 1199.3,3217.3 1196.1,3219.2 1196.9,3215.6 1194.1,3213.2 1197.8,3212.9" fill="#fff"/><polygon points="1221.7,3197.3 1225.1,3205.5 1233.9,3206.2 1227.2,3211.9 1229.2,3220.5 1221.7,3215.9 1214.2,3220.5 1216.2,3211.9 1209.5,3206.2 1218.3,3205.5" fill="#00f"/><polygon points="1221.7,3204.7 1223.1,3208.2 1226.9,3208.5 1224,3210.9 1224.9,3214.5 1221.7,3212.6 1218.5,3214.5 1219.4,3210.9 1216.6,3208.5 1220.3,3208.2" fill="#fff"/><polygon points="1244.2,3191.3 1247.6,3199.4 1256.4,3200.1 1249.7,3205.9 1251.7,3214.5 1244.2,3209.9 1236.7,3214.5 1238.7,3205.9 1232,3200.1 1240.8,3199.4" fill="#00f"/><polygon points="1244.2,3198.7 1245.6,3202.1 1249.3,3202.4 1246.5,3204.9 1247.4,3208.5 1244.2,3206.5 1241,3208.5 1241.9,3204.9 1239,3202.4 1242.8,3202.1" fill="#fff"/><polygon points="1266.6,3183.8 1270,3191.9 1278.8,3192.6 1272.1,3198.4 1274.2,3207 1266.6,3202.4 1259.1,3207 1261.2,3198.4 1254.5,3192.6 1263.3,3191.9" fill="#00f"/><polygon points="1266.6,3191.2 1268.1,3194.6 1271.8,3194.9 1269,3197.4 1269.8,3201 1266.6,3199 1263.5,3201 1264.3,3197.4 1261.5,3194.9 1265.2,3194.6" fill="#fff"/><polygon points="1289.1,3175.5 1292.5,3183.6 1301.3,3184.3 1294.6,3190.1 1296.6,3198.6 1289.1,3194 1281.6,3198.6 1283.6,3190.1 1276.9,3184.3 1285.7,3183.6" fill="#00f"/><polygon points="1289.1,3182.9 1290.5,3186.3 1294.2,3186.6 1291.4,3189 1292.3,3192.6 1289.1,3190.7 1285.9,3192.6 1286.8,3189 1284,3186.6 1287.7,3186.3" fill="#fff"/><polygon points="1311.6,3166.5 1315,3174.7 1323.7,3175.4 1317,3181.1 1319.1,3189.7 1311.6,3185.1 1304,3189.7 1306.1,3181.1 1299.4,3175.4 1308.2,3174.7" fill="#00f"/><polygon points="1311.6,3173.9 1313,3177.4 1316.7,3177.7 1313.9,3180.1 1314.7,3183.7 1311.6,3181.7 1308.4,3183.7 1309.3,3180.1 1306.4,3177.7 1310.1,3177.4" fill="#fff"/><polygon points="1334,3157 1337.4,3165.1 1346.2,3165.8 1339.5,3171.6 1341.6,3180.1 1334,3175.5 1326.5,3180.1 1328.5,3171.6 1321.9,3165.8 1330.6,3165.1" fill="#00f"/><polygon points="1334,3164.4 1335.5,3167.8 1339.2,3168.1 1336.3,3170.5 1337.2,3174.1 1334,3172.2 1330.9,3174.1 1331.7,3170.5 1328.9,3168.1 1332.6,3167.8" fill="#fff"/><polygon points="1356.5,3147.5 1359.9,3155.6 1368.7,3156.3 1362,3162 1364,3170.6 1356.5,3166 1349,3170.6 1351,3162 1344.3,3156.3 1353.1,3155.6" fill="#00f"/><polygon points="1356.5,3154.9 1357.9,3158.3 1361.6,3158.6 1358.8,3161 1359.7,3164.6 1356.5,3162.7 1353.3,3164.6 1354.2,3161 1351.4,3158.6 1355.1,3158.3" fill="#fff"/><polygon points="1379,3137.9 1382.3,3146 1391.1,3146.7 1384.4,3152.5 1386.5,3161.1 1379,3156.5 1371.4,3161.1 1373.5,3152.5 1366.8,3146.7 1375.6,3146" fill="#00f"/><polygon points="1379,3145.3 1380.4,3148.7 1384.1,3149 1381.3,3151.5 1382.1,3155.1 1379,3153.1 1375.8,3155.1 1376.6,3151.5 1373.8,3149 1377.5,3148.7" fill="#fff"/><polygon points="1401.4,3128.5 1404.8,3136.7 1413.6,3137.4 1406.9,3143.1 1408.9,3151.7 1401.4,3147.1 1393.9,3151.7 1395.9,3143.1 1389.2,3137.4 1398,3136.7" fill="#00f"/><polygon points="1401.4,3135.9 1402.8,3139.4 1406.5,3139.7 1403.7,3142.1 1404.6,3145.7 1401.4,3143.8 1398.2,3145.7 1399.1,3142.1 1396.3,3139.7 1400,3139.4" fill="#fff"/><polygon points="1423.9,3120.1 1427.3,3128.2 1436,3128.9 1429.4,3134.7 1431.4,3143.3 1423.9,3138.7 1416.4,3143.3 1418.4,3134.7 1411.7,3128.9 1420.5,3128.2" fill="#00f"/><polygon points="1423.9,3127.5 1425.3,3130.9 1429,3131.2 1426.2,3133.7 1427.1,3137.3 1423.9,3135.3 1420.7,3137.3 1421.6,3133.7 1418.7,3131.2 1422.4,3130.9" fill="#fff"/><polygon points="1446.3,3112.2 1449.7,3120.4 1458.5,3121.1 1451.8,3126.8 1453.9,3135.4 1446.3,3130.8 1438.8,3135.4 1440.9,3126.8 1434.2,3121.1 1443,3120.4" fill="#00f"/><polygon points="1446.3,3119.6 1447.8,3123.1 1451.5,3123.4 1448.6,3125.8 1449.5,3129.4 1446.3,3127.4 1443.2,3129.4 1444,3125.8 1441.2,3123.4 1444.9,3123.1" fill="#fff"/><polygon points="1468.8,3103.9 1472.2,3112 1481,3112.7 1474.3,3118.5 1476.3,3127.1 1468.8,3122.5 1461.3,3127.1 1463.3,3118.5 1456.6,3112.7 1465.4,3112" fill="#00f"/><polygon points="1468.8,3111.3 1470.2,3114.7 1473.9,3115 1471.1,3117.5 1472,3121.1 1468.8,3119.1 1465.6,3121.1 1466.5,3117.5 1463.7,3115 1467.4,3114.7" fill="#fff"/><polygon points="1491.3,3095.7 1494.6,3103.8 1503.4,3104.5 1496.7,3110.3 1498.8,3118.9 1491.3,3114.3 1483.7,3118.9 1485.8,3110.3 1479.1,3104.5 1487.9,3103.8" fill="#00f"/><polygon points="1491.3,3103.1 1492.7,3106.5 1496.4,3106.8 1493.6,3109.3 1494.4,3112.9 1491.3,3110.9 1488.1,3112.9 1489,3109.3 1486.1,3106.8 1489.8,3106.5" fill="#fff"/><polygon points="1513.7,3087.2 1517.1,3095.3 1525.9,3096 1519.2,3101.8 1521.2,3110.3 1513.7,3105.7 1506.2,3110.3 1508.2,3101.8 1501.6,3096 1510.3,3095.3" fill="#00f"/><polygon points="1513.7,3094.6 1515.2,3098 1518.9,3098.3 1516,3100.7 1516.9,3104.3 1513.7,3102.4 1510.5,3104.3 1511.4,3100.7 1508.6,3098.3 1512.3,3098" fill="#fff"/><polygon points="1536.2,3078.7 1539.6,3086.8 1548.4,3087.5 1541.7,3093.3 1543.7,3101.8 1536.2,3097.2 1528.7,3101.8 1530.7,3093.3 1524,3087.5 1532.8,3086.8" fill="#00f"/><polygon points="1536.2,3086.1 1537.6,3089.5 1541.3,3089.8 1538.5,3092.2 1539.4,3095.8 1536.2,3093.9 1533,3095.8 1533.9,3092.2 1531.1,3089.8 1534.8,3089.5" fill="#fff"/><polygon points="1558.6,3070.1 1562,3078.3 1570.8,3079 1564.1,3084.7 1566.2,3093.3 1558.6,3088.7 1551.1,3093.3 1553.2,3084.7 1546.5,3079 1555.3,3078.3" fill="#00f"/><polygon points="1558.6,3077.5 1560.1,3081 1563.8,3081.3 1561,3083.7 1561.8,3087.3 1558.6,3085.4 1555.5,3087.3 1556.3,3083.7 1553.5,3081.3 1557.2,3081" fill="#fff"/><polygon points="1581.1,3061.6 1584.5,3069.8 1593.3,3070.5 1586.6,3076.2 1588.6,3084.8 1581.1,3080.2 1573.6,3084.8 1575.6,3076.2 1568.9,3070.5 1577.7,3069.8" fill="#00f"/><polygon points="1581.1,3069 1582.5,3072.5 1586.2,3072.8 1583.4,3075.2 1584.3,3078.8 1581.1,3076.8 1577.9,3078.8 1578.8,3075.2 1576,3072.8 1579.7,3072.5" fill="#fff"/><polygon points="1603.6,3053.7 1607,3061.8 1615.7,3062.5 1609.1,3068.3 1611.1,3076.8 1603.6,3072.2 1596,3076.8 1598.1,3068.3 1591.4,3062.5 1600.2,3061.8" fill="#00f"/><polygon points="1603.6,3061.1 1605,3064.5 1608.7,3064.8 1605.9,3067.2 1606.7,3070.8 1603.6,3068.9 1600.4,3070.8 1601.3,3067.2 1598.4,3064.8 1602.1,3064.5" fill="#fff"/><polygon points="1626,3045.9 1629.4,3054.1 1638.2,3054.8 1631.5,3060.5 1633.6,3069.1 1626,3064.5 1618.5,3069.1 1620.6,3060.5 1613.9,3054.8 1622.6,3054.1" fill="#00f"/><polygon points="1626,3053.3 1627.5,3056.8 1631.2,3057.1 1628.3,3059.5 1629.2,3063.1 1626,3061.2 1622.9,3063.1 1623.7,3059.5 1620.9,3057.1 1624.6,3056.8" fill="#fff"/><polygon points="1648.5,3038.5 1651.9,3046.6 1660.7,3047.3 1654,3053.1 1656,3061.7 1648.5,3057.1 1641,3061.7 1643,3053.1 1636.3,3047.3 1645.1,3046.6" fill="#00f"/><polygon points="1648.5,3045.9 1649.9,3049.3 1653.6,3049.6 1650.8,3052.1 1651.7,3055.7 1648.5,3053.7 1645.3,3055.7 1646.2,3052.1 1643.4,3049.6 1647.1,3049.3" fill="#fff"/><polygon points="1671,3031.7 1674.3,3039.8 1683.1,3040.5 1676.4,3046.2 1678.5,3054.8 1671,3050.2 1663.4,3054.8 1665.5,3046.2 1658.8,3040.5 1667.6,3039.8" fill="#00f"/><polygon points="1671,3039.1 1672.4,3042.5 1676.1,3042.8 1673.3,3045.2 1674.1,3048.8 1671,3046.9 1667.8,3048.8 1668.6,3045.2 1665.8,3042.8 1669.5,3042.5" fill="#fff"/><polygon points="1693.4,3025.1 1696.8,3033.2 1705.6,3033.9 1698.9,3039.6 1700.9,3048.2 1693.4,3043.6 1685.9,3048.2 1687.9,3039.6 1681.2,3033.9 1690,3033.2" fill="#00f"/><polygon points="1693.4,3032.5 1694.8,3035.9 1698.6,3036.2 1695.7,3038.6 1696.6,3042.2 1693.4,3040.3 1690.2,3042.2 1691.1,3038.6 1688.3,3036.2 1692,3035.9" fill="#fff"/><polygon points="1715.9,3019.4 1719.3,3027.5 1728.1,3028.2 1721.4,3033.9 1723.4,3042.5 1715.9,3037.9 1708.4,3042.5 1710.4,3033.9 1703.7,3028.2 1712.5,3027.5" fill="#00f"/><polygon points="1715.9,3026.8 1717.3,3030.2 1721,3030.5 1718.2,3032.9 1719.1,3036.5 1715.9,3034.6 1712.7,3036.5 1713.6,3032.9 1710.7,3030.5 1714.5,3030.2" fill="#fff"/><polygon points="1738.3,3015.3 1741.7,3023.5 1750.5,3024.2 1743.8,3029.9 1745.9,3038.5 1738.3,3033.9 1730.8,3038.5 1732.9,3029.9 1726.2,3024.2 1735,3023.5" fill="#00f"/><polygon points="1738.3,3022.7 1739.8,3026.2 1743.5,3026.5 1740.7,3028.9 1741.5,3032.5 1738.3,3030.5 1735.2,3032.5 1736,3028.9 1733.2,3026.5 1736.9,3026.2" fill="#fff"/><polygon points="1760.8,3012.3 1764.2,3020.4 1773,3021.1 1766.3,3026.9 1768.3,3035.4 1760.8,3030.8 1753.3,3035.4 1755.3,3026.9 1748.6,3021.1 1757.4,3020.4" fill="#00f"/><polygon points="1760.8,3019.7 1762.2,3023.1 1765.9,3023.4 1763.1,3025.8 1764,3029.4 1760.8,3027.5 1757.6,3029.4 1758.5,3025.8 1755.7,3023.4 1759.4,3023.1" fill="#fff"/><polygon points="1783.3,3010.2 1786.7,3018.3 1795.4,3019 1788.7,3024.8 1790.8,3033.3 1783.3,3028.7 1775.7,3033.3 1777.8,3024.8 1771.1,3019 1779.9,3018.3" fill="#00f"/><polygon points="1783.3,3017.6 1784.7,3021 1788.4,3021.3 1785.6,3023.7 1786.4,3027.3 1783.3,3025.4 1780.1,3027.3 1781,3023.7 1778.1,3021.3 1781.8,3021" fill="#fff"/><polygon points="1805.7,3009.4 1809.1,3017.6 1817.9,3018.3 1811.2,3024 1813.3,3032.6 1805.7,3028 1798.2,3032.6 1800.3,3024 1793.6,3018.3 1802.3,3017.6" fill="#00f"/><polygon points="1805.7,3016.8 1807.2,3020.3 1810.9,3020.6 1808,3023 1808.9,3026.6 1805.7,3024.6 1802.6,3026.6 1803.4,3023 1800.6,3020.6 1804.3,3020.3" fill="#fff"/><polygon points="1828.2,3010.1 1831.6,3018.2 1840.4,3018.9 1833.7,3024.7 1835.7,3033.3 1828.2,3028.7 1820.7,3033.3 1822.7,3024.7 1816,3018.9 1824.8,3018.2" fill="#00f"/><polygon points="1828.2,3017.5 1829.6,3020.9 1833.3,3021.2 1830.5,3023.7 1831.4,3027.3 1828.2,3025.3 1825,3027.3 1825.9,3023.7 1823.1,3021.2 1826.8,3020.9" fill="#fff"/><polygon points="1850.7,3012 1854,3020.1 1862.8,3020.8 1856.1,3026.6 1858.2,3035.1 1850.7,3030.5 1843.1,3035.1 1845.2,3026.6 1838.5,3020.8 1847.3,3020.1" fill="#00f"/><polygon points="1850.7,3019.4 1852.1,3022.8 1855.8,3023.1 1853,3025.5 1853.8,3029.1 1850.7,3027.2 1847.5,3029.1 1848.3,3025.5 1845.5,3023.1 1849.2,3022.8" fill="#fff"/><polygon points="1873.1,3015.2 1876.5,3023.3 1885.3,3024 1878.6,3029.8 1880.6,3038.3 1873.1,3033.7 1865.6,3038.3 1867.6,3029.8 1860.9,3024 1869.7,3023.3" fill="#00f"/><polygon points="1873.1,3022.6 1874.5,3026 1878.3,3026.3 1875.4,3028.7 1876.3,3032.3 1873.1,3030.4 1869.9,3032.3 1870.8,3028.7 1868,3026.3 1871.7,3026" fill="#fff"/><polygon points="1895.6,3019.9 1899,3028 1907.8,3028.7 1901.1,3034.4 1903.1,3043 1895.6,3038.4 1888.1,3043 1890.1,3034.4 1883.4,3028.7 1892.2,3028" fill="#00f"/><polygon points="1895.6,3027.3 1897,3030.7 1900.7,3031 1897.9,3033.4 1898.8,3037 1895.6,3035.1 1892.4,3037 1893.3,3033.4 1890.4,3031 1894.1,3030.7" fill="#fff"/><polygon points="1918,3026.1 1921.4,3034.2 1930.2,3034.9 1923.5,3040.6 1925.6,3049.2 1918,3044.6 1910.5,3049.2 1912.6,3040.6 1905.9,3034.9 1914.7,3034.2" fill="#00f"/><polygon points="1918,3033.5 1919.5,3036.9 1923.2,3037.2 1920.4,3039.6 1921.2,3043.2 1918,3041.3 1914.9,3043.2 1915.7,3039.6 1912.9,3037.2 1916.6,3036.9" fill="#fff"/><polygon points="1940.5,3033.4 1943.9,3041.5 1952.7,3042.2 1946,3047.9 1948,3056.5 1940.5,3051.9 1933,3056.5 1935,3047.9 1928.3,3042.2 1937.1,3041.5" fill="#00f"/><polygon points="1940.5,3040.8 1941.9,3044.2 1945.6,3044.5 1942.8,3046.9 1943.7,3050.5 1940.5,3048.6 1937.3,3050.5 1938.2,3046.9 1935.4,3044.5 1939.1,3044.2" fill="#fff"/><polygon points="1963,3041.6 1966.3,3049.7 1975.1,3050.4 1968.4,3056.1 1970.5,3064.7 1963,3060.1 1955.4,3064.7 1957.5,3056.1 1950.8,3050.4 1959.6,3049.7" fill="#00f"/><polygon points="1963,3049 1964.4,3052.4 1968.1,3052.7 1965.3,3055.1 1966.1,3058.7 1963,3056.8 1959.8,3058.7 1960.7,3055.1 1957.8,3052.7 1961.5,3052.4" fill="#fff"/><polygon points="1985.4,3050.3 1988.8,3058.4 1997.6,3059.1 1990.9,3064.9 1992.9,3073.5 1985.4,3068.9 1977.9,3073.5 1979.9,3064.9 1973.3,3059.1 1982,3058.4" fill="#00f"/><polygon points="1985.4,3057.7 1986.9,3061.1 1990.6,3061.4 1987.7,3063.9 1988.6,3067.5 1985.4,3065.5 1982.3,3067.5 1983.1,3063.9 1980.3,3061.4 1984,3061.1" fill="#fff"/><polygon points="2007.9,3060.4 2011.3,3068.6 2020.1,3069.3 2013.4,3075 2015.4,3083.6 2007.9,3079 2000.4,3083.6 2002.4,3075 1995.7,3069.3 2004.5,3068.6" fill="#00f"/><polygon points="2007.9,3067.8 2009.3,3071.3 2013,3071.6 2010.2,3074 2011.1,3077.6 2007.9,3075.7 2004.7,3077.6 2005.6,3074 2002.8,3071.6 2006.5,3071.3" fill="#fff"/><polygon points="2030.4,3072.2 2033.7,3080.3 2042.5,3081 2035.8,3086.8 2037.9,3095.3 2030.4,3090.7 2022.8,3095.3 2024.9,3086.8 2018.2,3081 2027,3080.3" fill="#00f"/><polygon points="2030.4,3079.6 2031.8,3083 2035.5,3083.3 2032.7,3085.7 2033.5,3089.3 2030.4,3087.4 2027.2,3089.3 2028,3085.7 2025.2,3083.3 2028.9,3083" fill="#fff"/><polygon points="2052.8,3085.9 2056.2,3094 2065,3094.7 2058.3,3100.5 2060.3,3109 2052.8,3104.4 2045.3,3109 2047.3,3100.5 2040.6,3094.7 2049.4,3094" fill="#00f"/><polygon points="2052.8,3093.3 2054.2,3096.7 2057.9,3097 2055.1,3099.4 2056,3103 2052.8,3101.1 2049.6,3103 2050.5,3099.4 2047.7,3097 2051.4,3096.7" fill="#fff"/><polygon points="2075.3,3101.1 2078.7,3109.2 2087.4,3109.9 2080.8,3115.7 2082.8,3124.2 2075.3,3119.6 2067.8,3124.2 2069.8,3115.7 2063.1,3109.9 2071.9,3109.2" fill="#00f"/><polygon points="2075.3,3108.5 2076.7,3111.9 2080.4,3112.2 2077.6,3114.6 2078.4,3118.2 2075.3,3116.3 2072.1,3118.2 2073,3114.6 2070.1,3112.2 2073.8,3111.9" fill="#fff"/><polygon points="2097.7,3117.3 2101.1,3125.5 2109.9,3126.2 2103.2,3131.9 2105.3,3140.5 2097.7,3135.9 2090.2,3140.5 2092.3,3131.9 2085.6,3126.2 2094.4,3125.5" fill="#00f"/><polygon points="2097.7,3124.7 2099.2,3128.2 2102.9,3128.5 2100,3130.9 2100.9,3134.5 2097.7,3132.5 2094.6,3134.5 2095.4,3130.9 2092.6,3128.5 2096.3,3128.2" fill="#fff"/><polygon points="2120.2,3134.4 2123.6,3142.5 2132.4,3143.2 2125.7,3149 2127.7,3157.6 2120.2,3153 2112.7,3157.6 2114.7,3149 2108,3143.2 2116.8,3142.5" fill="#00f"/><polygon points="2120.2,3141.8 2121.6,3145.2 2125.3,3145.5 2122.5,3148 2123.4,3151.6 2120.2,3149.6 2117,3151.6 2117.9,3148 2115.1,3145.5 2118.8,3145.2" fill="#fff"/><polygon points="2142.7,3151.6 2146,3159.7 2154.8,3160.4 2148.1,3166.1 2150.2,3174.7 2142.7,3170.1 2135.1,3174.7 2137.2,3166.1 2130.5,3160.4 2139.3,3159.7" fill="#00f"/><polygon points="2142.7,3159 2144.1,3162.4 2147.8,3162.7 2145,3165.1 2145.8,3168.7 2142.7,3166.8 2139.5,3168.7 2140.3,3165.1 2137.5,3162.7 2141.2,3162.4" fill="#fff"/><polygon points="2165.1,3168.2 2168.5,3176.3 2177.3,3177 2170.6,3182.8 2172.6,3191.4 2165.1,3186.8 2157.6,3191.4 2159.6,3182.8 2152.9,3177 2161.7,3176.3" fill="#00f"/><polygon points="2165.1,3175.6 2166.6,3179 2170.3,3179.3 2167.4,3181.8 2168.3,3185.4 2165.1,3183.4 2161.9,3185.4 2162.8,3181.8 2160,3179.3 2163.7,3179" fill="#fff"/><polygon points="2187.6,3184.4 2191,3192.5 2199.8,3193.2 2193.1,3199 2195.1,3207.6 2187.6,3203 2180.1,3207.6 2182.1,3199 2175.4,3193.2 2184.2,3192.5" fill="#00f"/><polygon points="2187.6,3191.8 2189,3195.2 2192.7,3195.5 2189.9,3198 2190.8,3201.6 2187.6,3199.6 2184.4,3201.6 2185.3,3198 2182.4,3195.5 2186.2,3195.2" fill="#fff"/><polygon points="2210,3192.9 2213.4,3201 2222.2,3201.7 2215.5,3207.5 2217.6,3216.1 2210,3211.5 2202.5,3216.1 2204.6,3207.5 2197.9,3201.7 2206.7,3201" fill="#00f"/><polygon points="2210,3200.3 2211.5,3203.7 2215.2,3204 2212.4,3206.5 2213.2,3210.1 2210,3208.1 2206.9,3210.1 2207.7,3206.5 2204.9,3204 2208.6,3203.7" fill="#fff"/><polygon points="2232.5,3199.9 2235.9,3208 2244.7,3208.7 2238,3214.5 2240,3223.1 2232.5,3218.5 2225,3223.1 2227,3214.5 2220.3,3208.7 2229.1,3208" fill="#00f"/><polygon points="2232.5,3207.3 2233.9,3210.7 2237.6,3211 2234.8,3213.5 2235.7,3217.1 2232.5,3215.1 2229.3,3217.1 2230.2,3213.5 2227.4,3211 2231.1,3210.7" fill="#fff"/></g>
</g>
<line x1="345.5" y1="2200.8" x2="2234.5" y2="2200.8" stroke="#000" stroke-width="2.7"/>
<line x1="2232.9" y1="2199.5" x2="2232.9" y2="3730.8" stroke="#000" stroke-width="3.3"/>
<line x1="345.5" y1="2197.2" x2="345.5" y2="3759.8" stroke="#000" stroke-width="7.2"/>
<line x1="317" y1="3730.8" x2="2236.2" y2="3730.8" stroke="#000" stroke-width="7"/>
<path d="M331 3544.9H342M331 3436.1H342M331 3359H342M331 3299.1H342M331 3250.2H342M331 3208.9H342M331 3173.1H342M331 3141.5H342M317 3113.2H342M331 2927.3H342M331 2818.5H342M331 2741.4H342M331 2681.5H342M331 2632.6H342M331 2591.3H342M331 2555.5H342M331 2523.9H342M317 2495.6H342M331 2309.7H342M331 2200.9H342" stroke="#000" stroke-width="7" fill="none"/>
<path d="M615.2 3730.8V3759.8M884.8 3730.8V3759.8M1154.4 3730.8V3759.8M1423.9 3730.8V3759.8M1693.5 3730.8V3759.8M1963 3730.8V3759.8M2232.6 3730.8V3759.8" stroke="#000" stroke-width="7.2" fill="none"/>
<path d="M426.8 3730.8V3746.3M474.3 3730.8V3746.3M508 3730.8V3746.3M534.1 3730.8V3746.3M555.5 3730.8V3746.3M573.5 3730.8V3746.3M589.1 3730.8V3746.3M602.9 3730.8V3746.3M696.4 3730.8V3746.3M743.9 3730.8V3746.3M777.5 3730.8V3746.3M803.7 3730.8V3746.3M825 3730.8V3746.3M843 3730.8V3746.3M858.7 3730.8V3746.3M872.5 3730.8V3746.3M965.9 3730.8V3746.3M1013.4 3730.8V3746.3M1047.1 3730.8V3746.3M1073.2 3730.8V3746.3M1094.6 3730.8V3746.3M1112.6 3730.8V3746.3M1128.2 3730.8V3746.3M1142 3730.8V3746.3M1235.5 3730.8V3746.3M1283 3730.8V3746.3M1316.6 3730.8V3746.3M1342.8 3730.8V3746.3M1364.1 3730.8V3746.3M1382.1 3730.8V3746.3M1397.8 3730.8V3746.3M1411.6 3730.8V3746.3M1505 3730.8V3746.3M1552.5 3730.8V3746.3M1586.2 3730.8V3746.3M1612.3 3730.8V3746.3M1633.7 3730.8V3746.3M1651.7 3730.8V3746.3M1667.3 3730.8V3746.3M1681.1 3730.8V3746.3M1774.6 3730.8V3746.3M1822.1 3730.8V3746.3M1855.7 3730.8V3746.3M1881.9 3730.8V3746.3M1903.2 3730.8V3746.3M1921.2 3730.8V3746.3M1936.9 3730.8V3746.3M1950.7 3730.8V3746.3M2044.1 3730.8V3746.3M2091.6 3730.8V3746.3M2125.3 3730.8V3746.3M2151.4 3730.8V3746.3M2172.8 3730.8V3746.3M2190.8 3730.8V3746.3M2206.4 3730.8V3746.3M2220.2 3730.8V3746.3" stroke="#000" stroke-width="6.4" fill="none"/>
<text x="275.3" y="3866.7" font-family='"Liberation Serif", "DejaVu Serif", serif' font-weight="bold" font-size="92">10</text>
<text x="364.3" y="3825.7" font-family='"Liberation Serif", "DejaVu Serif", serif' font-weight="bold" font-size="63">-1</text>
<text x="555.4" y="3866.7" font-family='"Liberation Serif", "DejaVu Serif", serif' font-weight="bold" font-size="92">10</text>
<text x="644.4" y="3825.7" font-family='"Liberation Serif", "DejaVu Serif", serif' font-weight="bold" font-size="63">0</text>
<text x="824.9" y="3866.7" font-family='"Liberation Serif", "DejaVu Serif", serif' font-weight="bold" font-size="92">10</text>
<text x="913.9" y="3825.7" font-family='"Liberation Serif", "DejaVu Serif", serif' font-weight="bold" font-size="63">1</text>
<text x="1094.5" y="3866.7" font-family='"Liberation Serif", "DejaVu Serif", serif' font-weight="bold" font-size="92">10</text>
<text x="1183.5" y="3825.7" font-family='"Liberation Serif", "DejaVu Serif", serif' font-weight="bold" font-size="63">2</text>
<text x="1364.1" y="3866.7" font-family='"Liberation Serif", "DejaVu Serif", serif' font-weight="bold" font-size="92">10</text>
<text x="1453.1" y="3825.7" font-family='"Liberation Serif", "DejaVu Serif", serif' font-weight="bold" font-size="63">3</text>
<text x="1633.6" y="3866.7" font-family='"Liberation Serif", "DejaVu Serif", serif' font-weight="bold" font-size="92">10</text>
<text x="1722.6" y="3825.7" font-family='"Liberation Serif", "DejaVu Serif", serif' font-weight="bold" font-size="63">4</text>
<text x="1903.2" y="3866.7" font-family='"Liberation Serif", "DejaVu Serif", serif' font-weight="bold" font-size="92">10</text>
<text x="1992.2" y="3825.7" font-family='"Liberation Serif", "DejaVu Serif", serif' font-weight="bold" font-size="63">5</text>
<text x="2172.7" y="3866.7" font-family='"Liberation Serif", "DejaVu Serif", serif' font-weight="bold" font-size="92">10</text>
<text x="2261.7" y="3825.7" font-family='"Liberation Serif", "DejaVu Serif", serif' font-weight="bold" font-size="63">6</text>
<text x="249" y="2532" text-anchor="end" font-family='"Liberation Serif", "DejaVu Serif", serif' font-weight="bold" font-size="92">10</text>
<text x="246.6" y="2491" font-family='"Liberation Serif", "DejaVu Serif", serif' font-weight="bold" font-size="63">-1</text>
<text x="249" y="3149.6" text-anchor="end" font-family='"Liberation Serif", "DejaVu Serif", serif' font-weight="bold" font-size="92">10</text>
<text x="246.6" y="3108.6" font-family='"Liberation Serif", "DejaVu Serif", serif' font-weight="bold" font-size="63">-2</text>
<text x="249" y="3767.2" text-anchor="end" font-family='"Liberation Serif", "DejaVu Serif", serif' font-weight="bold" font-size="92">10</text>
<text x="246.6" y="3726.2" font-family='"Liberation Serif", "DejaVu Serif", serif' font-weight="bold" font-size="63">-3</text>
<line x1="1822.4" y1="2280.7" x2="1978" y2="2280.7" stroke="#000" stroke-width="5" stroke-linecap="round"/>
<circle cx="1900.2" cy="2280.7" r="9.8" fill="#000"/>
<text transform="translate(1995.5 2306.3) scale(0.975 1.02)" font-family='"Liberation Serif", "DejaVu Serif", serif' font-weight="bold" font-size="73.3">303 K</text>
<line x1="1822.4" y1="2368.2" x2="1978" y2="2368.2" stroke="#000" stroke-width="5" stroke-linecap="round"/>
<circle cx="1900.2" cy="2368.2" r="8.5" fill="#fff" stroke="#000" stroke-width="2.7"/>
<text transform="translate(1995.5 2393.8) scale(0.975 1.02)" font-family='"Liberation Serif", "DejaVu Serif", serif' font-weight="bold" font-size="73.3">313 K</text>
<line x1="1822.4" y1="2455.7" x2="1978" y2="2455.7" stroke="#f00" stroke-width="5" stroke-linecap="round"/>
<rect x="1890.9" y="2446.4" width="18.6" height="18.6" fill="#f00"/>
<text transform="translate(1995.5 2481.3) scale(0.975 1.02)" font-family='"Liberation Serif", "DejaVu Serif", serif' font-weight="bold" font-size="73.3">323 K</text>
<line x1="1822.4" y1="2543.2" x2="1978" y2="2543.2" stroke="#f00" stroke-width="5" stroke-linecap="round"/>
<rect x="1892.3" y="2535.3" width="15.8" height="15.8" fill="#fff" stroke="#f00" stroke-width="2.7"/>
<text transform="translate(1995.5 2568.8) scale(0.975 1.02)" font-family='"Liberation Serif", "DejaVu Serif", serif' font-weight="bold" font-size="73.3">333 K</text>
<line x1="1822.4" y1="2630.7" x2="1978" y2="2630.7" stroke="#0f0" stroke-width="5" stroke-linecap="round"/>
<polygon points="1900.2,2620.1 1912.3,2641.3 1888.1,2641.3" fill="#0f0"/>
<text transform="translate(1995.5 2656.3) scale(0.975 1.02)" font-family='"Liberation Serif", "DejaVu Serif", serif' font-weight="bold" font-size="73.3">343 K</text>
<line x1="1822.4" y1="2718.2" x2="1978" y2="2718.2" stroke="#0f0" stroke-width="5" stroke-linecap="round"/>
<polygon points="1900.2,2710.6 1909.6,2728 1890.8,2728" fill="#fff" stroke="#0f0" stroke-width="2.6" stroke-linejoin="miter"/>
<text transform="translate(1995.5 2743.8) scale(0.975 1.02)" font-family='"Liberation Serif", "DejaVu Serif", serif' font-weight="bold" font-size="73.3">353 K</text>
<line x1="1822.4" y1="2805.7" x2="1978" y2="2805.7" stroke="#00f" stroke-width="5" stroke-linecap="round"/>
<polygon points="1900.2,2793.2 1903.7,2801.6 1912.8,2802.3 1905.8,2808.2 1908,2817.1 1900.2,2812.3 1892.4,2817.1 1894.6,2808.2 1887.6,2802.3 1896.7,2801.6" fill="#00f"/>
<text transform="translate(1995.5 2831.3) scale(0.975 1.02)" font-family='"Liberation Serif", "DejaVu Serif", serif' font-weight="bold" font-size="73.3">363 K</text>
<line x1="1822.4" y1="2893.2" x2="1978" y2="2893.2" stroke="#00f" stroke-width="5" stroke-linecap="round"/>
<polygon points="1900.2,2881.1 1903.6,2889.2 1912.4,2889.9 1905.7,2895.7 1907.7,2904.3 1900.2,2899.7 1892.7,2904.3 1894.7,2895.7 1888,2889.9 1896.8,2889.2" fill="#00f"/><polygon points="1900.2,2888.5 1901.6,2891.9 1905.3,2892.2 1902.5,2894.7 1903.4,2898.3 1900.2,2896.3 1897,2898.3 1897.9,2894.7 1895.1,2892.2 1898.8,2891.9" fill="#fff"/>
<text transform="translate(1995.5 2918.8) scale(0.975 1.02)" font-family='"Liberation Serif", "DejaVu Serif", serif' font-weight="bold" font-size="73.3">373 K</text>
<text x="452.4" y="2345.3" font-family='"Liberation Sans", "DejaVu Sans", sans-serif' font-weight="bold" font-size="97">(d)</text>
<text x="832" y="2348.7" font-family='"Liberation Sans", "DejaVu Sans", sans-serif' font-weight="bold" font-size="90" textLength="727.3" lengthAdjust="spacingAndGlyphs">PMMA-perylene- I</text>
<text x="1559" y="2374.2" font-family='"Liberation Sans", "DejaVu Sans", sans-serif' font-weight="bold" font-size="60">2</text>
<text transform="translate(151.5 2870.5) rotate(-90)" text-anchor="middle" font-family='"Liberation Serif", "DejaVu Serif", serif' font-size="117.2">tanδ</text>
<text y="3983" font-family='"Liberation Serif", "DejaVu Serif", serif' font-weight="bold" font-size="88" xml:space="preserve"><tspan x="1148" font-style="italic">f</tspan><tspan x="1184.6"> (Hz)</tspan></text>
</g>
</svg></body></html>
